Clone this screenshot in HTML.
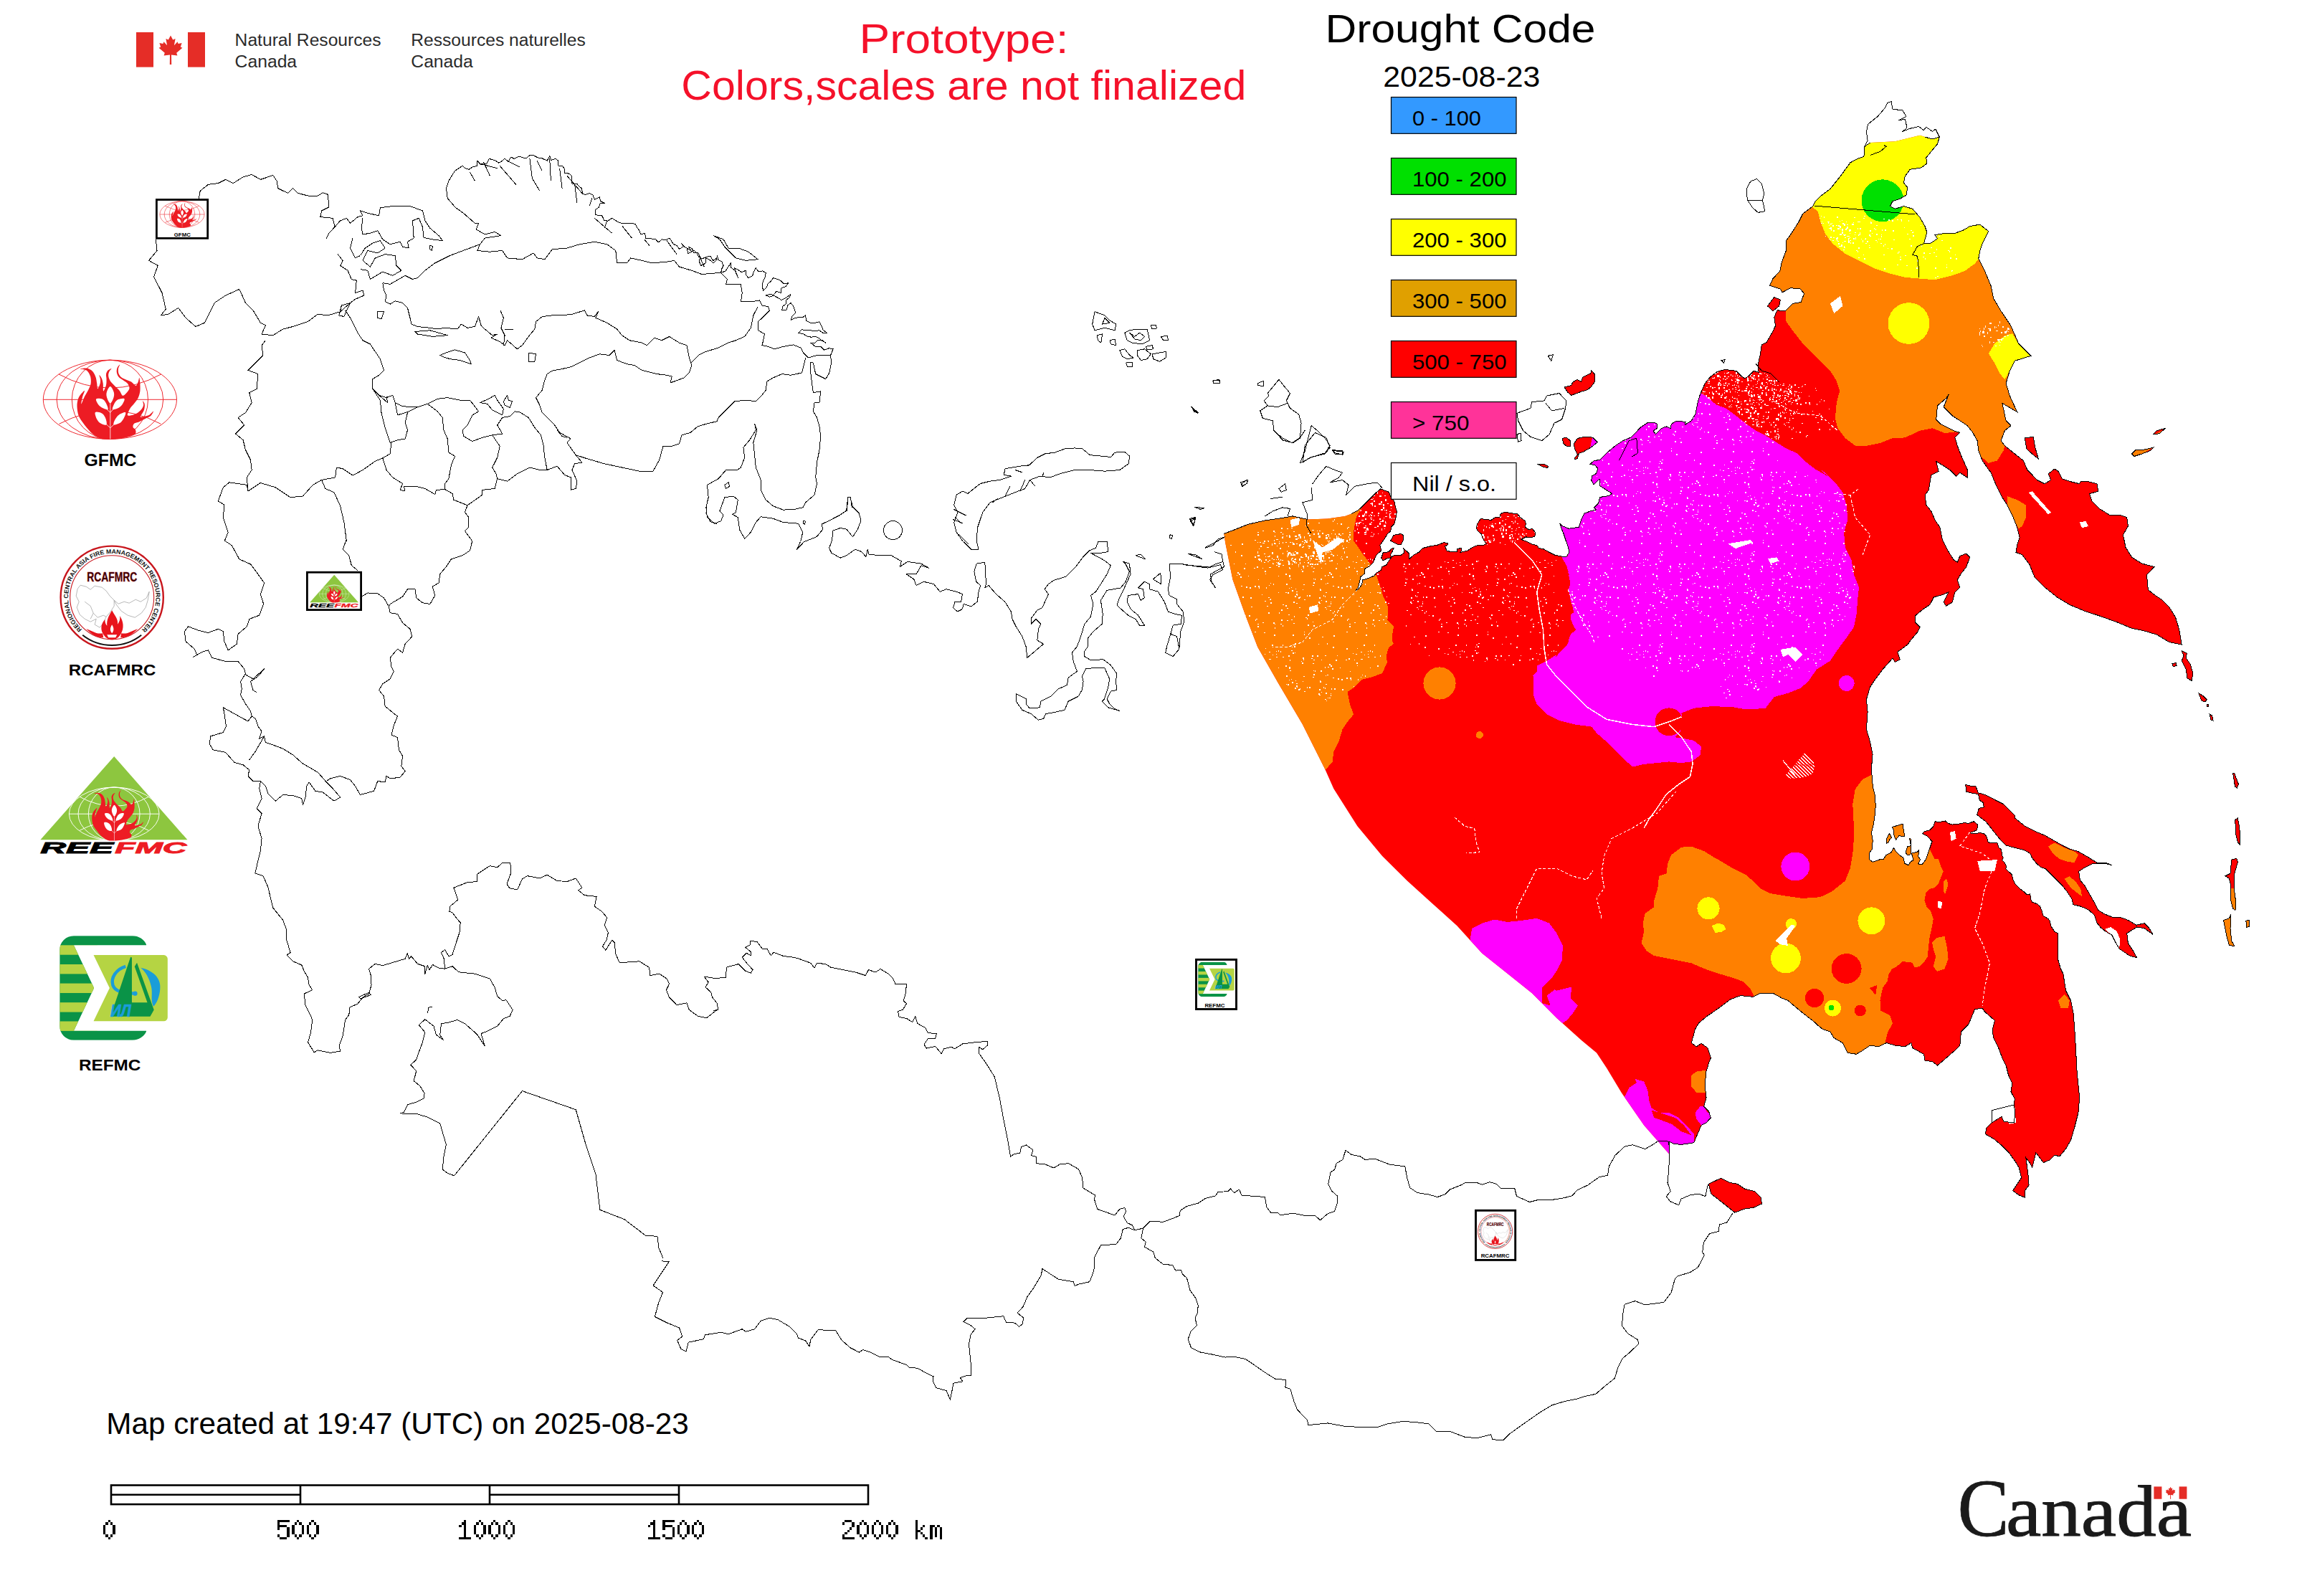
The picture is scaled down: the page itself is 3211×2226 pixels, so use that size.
<!DOCTYPE html><html><head><meta charset="utf-8"><title>Drought Code</title>
<style>html,body{margin:0;padding:0;background:#fff}svg{display:block}text{font-family:"Liberation Sans",sans-serif}.se{font-family:"Liberation Serif",serif}.mo{font-family:"Liberation Mono",monospace}</style></head><body>
<svg width="3211" height="2226" viewBox="0 0 3211 2226">
<rect width="3211" height="2226" fill="#fff"/>
<defs><clipPath id="land"><path d="M1707.4,744.3 L1721.3,739.1 L1740.4,731.4 L1764.7,725.9 L1789.1,722.4 L1803,719.9 L1823.8,724.5 L1851.7,723.4 L1876,719.9 L1884.8,716.7 L1893.6,712.3 L1900.5,706.2 L1909.2,697.5 L1919.7,687 L1925.8,681.8 L1931.9,684.4 L1937.1,686.2 L1939.7,692.3 L1944.9,699.2 L1946.7,707.9 L1948.4,713.2 L1946.7,723.6 L1944.9,730.6 L1940.6,734.9 L1939.7,741 L1935.4,744.5 L1930.1,753.2 L1924.9,760.2 L1926.7,768 L1919.7,774.1 L1915.3,784.6 L1910.1,789.8 L1904,793.3 L1903.1,800.3 L1897.9,804.6 L1896.2,812.5 L1894.4,819.4 L1890.9,823.8 L1895.3,821.2 L1899.7,815.1 L1900.5,809 L1909.2,806.4 L1917.1,802.9 L1919.7,799.4 L1926.7,795.1 L1927.5,790.7 L1933.6,788.1 L1938,781.1 L1940.6,777.6 L1944.9,774.1 L1954.5,774.1 L1958.9,770.7 L1957.7,764.6 L1963.2,769.8 L1965.9,772.4 L1965.9,779.4 L1972,774.1 L1979.8,769.8 L1984.1,764.6 L1994.6,762 L2005.1,760.2 L2013.8,756.7 L2019.9,757.6 L2019,760.2 L2015.5,762 L2018.1,768 L2024.2,769.8 L2032.1,769.8 L2032.9,765.4 L2038.2,764.6 L2039,768 L2036.4,770.7 L2046.9,768 L2052.1,764.6 L2059.1,761.1 L2069.5,760.2 L2073,758.5 L2068.6,751.5 L2066,744.5 L2061.7,741 L2059.1,735.8 L2060.8,730.6 L2065.2,723.6 L2073,724.5 L2080,725.4 L2085.2,721.9 L2092.2,721 L2093,716.7 L2099.1,714 L2107.8,715.8 L2116.6,716.7 L2120.9,721.9 L2127,726.2 L2128.7,730.6 L2127,734.9 L2132.2,738.4 L2137.5,737.6 L2141.8,742.8 L2140.9,748 L2135.7,749.8 L2128.7,748.9 L2121.8,752.4 L2128.7,755 L2135.7,758.5 L2144.4,761.1 L2146.2,764.6 L2152.3,765.4 L2161.8,770.7 L2168.8,774.1 L2177.5,775.9 L2184.5,776.8 L2188.9,770.7 L2187.1,762 L2184.5,755 L2181,744.5 L2177.5,735.8 L2175.8,729.7 L2178.7,733.4 L2188.3,737.3 L2202.3,735.2 L2205.7,724.7 L2210.1,716 L2219.7,712.5 L2226.7,710.8 L2223.2,708.2 L2229.3,702.1 L2231.9,693.4 L2244.1,691.6 L2248.4,688.2 L2237.1,681.2 L2231.9,677.7 L2231,668.1 L2226.7,672.5 L2223.2,676 L2219.7,669.9 L2220.6,663.8 L2226.7,660.3 L2228.7,653.3 L2224.9,649 L2217.9,647.2 L2223.2,642.9 L2231.9,641.1 L2242.3,630.7 L2252.8,622 L2263.2,615 L2275.4,609.8 L2279.8,605.4 L2287.6,596.7 L2298.1,589.7 L2307.7,589.2 L2312,591.5 L2311.1,597.6 L2305.9,601 L2309.4,605.4 L2317.2,597.6 L2324.2,594.9 L2330.3,597.6 L2331.2,591.5 L2338.2,587.1 L2351.2,588.5 L2350.3,592.3 L2359.1,587.1 L2365.2,576.7 L2367.8,562.7 L2371.3,550.5 L2373.9,544.4 L2378.2,534.8 L2385.2,526.1 L2395.6,518.3 L2406.1,515.3 L2421.8,517.4 L2428.7,524.4 L2434,527.9 L2439.2,524.4 L2446.2,517.4 L2453.1,519.2 L2452.2,508.5 L2455.6,492.9 L2457.4,480.7 L2464.3,477.2 L2471.3,465.1 L2476.5,454.6 L2474.8,442.5 L2479.3,432 L2483.4,433.8 L2491.1,433.1 L2500.8,423.3 L2512,421.6 L2516.5,409.4 L2510.6,402.5 L2497.3,401.8 L2486.2,407.7 L2483.4,403.2 L2468.5,398.3 L2473,388.6 L2482.7,378.1 L2485.2,366 L2491.1,350.3 L2491.1,336.4 L2500.8,322.5 L2509.5,308.6 L2514.7,298.2 L2528.6,287.7 L2532.1,280.8 L2539.1,273.8 L2553,263.4 L2566.9,246 L2580.8,226.9 L2590.5,221.7 L2599.9,218.2 L2601,204.3 L2608.6,199.1 L2643.4,197.3 L2678.1,188.7 L2685.1,191.1 L2695.5,193.9 L2705.3,191.1 L2702.5,200.8 L2693.8,211.3 L2686.8,219.9 L2687.9,227.9 L2679.9,233.9 L2664.2,236.3 L2657.3,246 L2655.5,254.7 L2660.8,261.7 L2659,272.1 L2650.3,277.3 L2639.9,280.8 L2636.4,287.7 L2643.4,291.2 L2655.5,287.7 L2667.7,291.2 L2678.1,303.4 L2685.1,315.6 L2687.9,324.3 L2683.4,339.9 L2692,339.9 L2702.5,332.9 L2699,327.7 L2712.9,325.3 L2725.1,326 L2739,320.8 L2747.7,315.6 L2761.6,313.1 L2773.8,322.5 L2765.1,339.9 L2761.6,350.3 L2759.8,360.8 L2768.5,378.1 L2777.2,399 L2780.7,416.4 L2791.1,433.8 L2805,454.6 L2815.5,479 L2832.9,496.3 L2810.3,503.3 L2803.3,517.2 L2798.1,534.6 L2803.3,552 L2813.7,574.6 L2792.9,562.4 L2798.1,586.7 L2805,593.7 L2796.3,600.7 L2791.1,614.6 L2796.3,621.5 L2806.8,630.2 L2822.4,642.4 L2827.6,654.9 L2841.5,669.5 L2852,674.8 L2860.7,669.5 L2857.2,660.8 L2865.9,653.9 L2871.1,657.4 L2876.3,667.8 L2886.7,671.3 L2900.7,674.8 L2902.4,671.3 L2911.1,671.3 L2925,674.8 L2926.7,685.2 L2914.6,688.7 L2918,699.1 L2928.5,709.5 L2942.4,718.2 L2956.3,718.2 L2966.7,721.7 L2968.4,733.9 L2961.5,746 L2965,763.4 L2973.7,777.3 L2987.6,786 L3005,790.5 L2994.5,801.7 L2996.3,822.5 L3005,829.5 L3015.4,836.4 L3025.8,846.8 L3034.5,860.8 L3039.7,878.1 L3043.2,899 L3025.8,895.5 L3008.4,885.1 L2991,879.9 L2973.7,876.4 L2952.8,867.7 L2928.5,859 L2907.6,852.1 L2886.7,843.4 L2869.4,832.9 L2852,819 L2838.1,805.1 L2831.1,787.7 L2820.7,773.8 L2812,770.4 L2813.7,759.9 L2817.2,749.5 L2813.7,735.6 L2806.8,718.2 L2799.8,704.3 L2792.9,693.9 L2784.2,676.5 L2777.2,659.1 L2773.8,654.9 L2765.1,642.4 L2759.8,628.5 L2758.1,614.6 L2751.2,602.4 L2744.2,593.7 L2739,590.2 L2723.3,579.8 L2711.2,567.6 L2718.1,550.2 L2714.6,555.5 L2702.5,565.9 L2700.7,585 L2707.7,592 L2725.1,600.7 L2733.8,603.4 L2726.8,610.4 L2730.3,621.5 L2735.5,635.4 L2744.2,654.9 L2744.2,666.1 L2733.8,659.1 L2728.6,664.3 L2719.9,655.6 L2709.4,648.7 L2700.7,643.5 L2704.2,657.4 L2693.8,662.6 L2690.3,683.4 L2685.1,690.4 L2686.8,704.3 L2693.8,713 L2699,725.2 L2706,735.6 L2709.4,753 L2716.4,766.9 L2725.1,780.8 L2730.3,784.3 L2733.8,775.6 L2742.5,772.1 L2747.7,777.3 L2742.5,791.2 L2735.5,799.9 L2730.3,808.6 L2733.8,819 L2726.8,826 L2723.3,839.9 L2714.6,845.1 L2711.2,839.9 L2718.1,826 L2709.4,829.5 L2697.3,832.9 L2692,843.4 L2681.6,850.3 L2671.2,859 L2671.2,867.7 L2678.1,874.7 L2674.7,881.6 L2666,892 L2660.8,899 L2646.8,909.4 L2650.3,919.9 L2643.4,923.3 L2639.9,918.1 L2626,933.8 L2615.6,947.7 L2608.6,958.1 L2603.4,975.5 L2605.1,992.9 L2603.4,1017.2 L2608.6,1034.6 L2612.1,1052 L2610.3,1072.8 L2612.1,1093.7 L2613.1,1100.5 L2615.7,1110.9 L2616.2,1124.8 L2614.8,1140.5 L2613.1,1151 L2610.5,1161.4 L2612.2,1171.9 L2611.4,1184.1 L2607.9,1189.3 L2607.9,1198.9 L2612.2,1202.4 L2621.8,1198.9 L2627,1198.9 L2630.5,1192.8 L2637.5,1189.3 L2641.8,1182.3 L2644.5,1187.6 L2649.7,1192.8 L2654.9,1196.3 L2656.7,1204.1 L2661.9,1206.7 L2665.4,1201.5 L2668.9,1199.8 L2667.1,1192.8 L2666.2,1190.2 L2674.1,1188.4 L2676.7,1185.8 L2675.8,1194.5 L2678.4,1198.9 L2675.8,1205 L2681,1205.9 L2686.3,1198.9 L2688.9,1191 L2691.5,1184.1 L2695,1173.6 L2688.9,1166.7 L2681.4,1162.3 L2684.5,1159.7 L2691.5,1157.9 L2696.7,1152.7 L2699.3,1145.7 L2705.4,1146.6 L2713.3,1144.9 L2717.6,1148.4 L2722.9,1150.1 L2731.6,1149.2 L2740.3,1147.5 L2745.5,1148.4 L2753.3,1145.7 L2758.6,1150.1 L2757.7,1157.9 L2749.9,1160.6 L2748.1,1161.8 L2754.2,1162.8 L2762.1,1161.4 L2768.2,1163.2 L2771.6,1167.5 L2772.5,1173.6 L2775.1,1175.4 L2785.6,1175 L2788.2,1182.3 L2791.7,1184.9 L2792.5,1192.8 L2794.3,1196.3 L2792.5,1199.8 L2796,1203.2 L2798.6,1208.5 L2797.8,1212 L2806.5,1219.8 L2807.4,1225.9 L2810.8,1232.9 L2816.9,1239 L2823.9,1244.2 L2827.4,1247.7 L2831.7,1246.8 L2832.6,1253.8 L2834.4,1258.1 L2841.3,1260.7 L2845.7,1264.2 L2848.3,1271.2 L2850,1277.3 L2857,1281.6 L2859.6,1285.1 L2860.5,1291.2 L2865.7,1299.1 L2870.1,1301.7 L2870.6,1313 L2870.9,1325.2 L2870.9,1339.1 L2874.4,1351.3 L2877.9,1358.3 L2881.5,1381.6 L2888.5,1395.5 L2892,1412.9 L2893.7,1433.8 L2895.4,1461.6 L2897.2,1496.3 L2900.7,1531.1 L2898.9,1552 L2893.7,1572.8 L2888.5,1590.2 L2881.5,1602.4 L2872.8,1612.8 L2865.9,1611.1 L2858.9,1618 L2850.2,1621.5 L2845,1614.6 L2839.8,1607.6 L2836.3,1621.5 L2834.6,1628.5 L2831.1,1621.5 L2825.9,1614.6 L2829.4,1642.4 L2830.1,1653 L2824.9,1659.9 L2824.9,1670.4 L2816.2,1666.9 L2807.5,1660.6 L2812.7,1653 L2819.7,1642.5 L2816.2,1628.6 L2811,1619.9 L2802.3,1607.8 L2791.9,1597.3 L2781.4,1588.7 L2769.3,1581.7 L2771,1573 L2778,1566.1 L2791.9,1557.4 L2795.3,1564.3 L2809.3,1566.1 L2811,1552.2 L2809.3,1541 L2810.3,1532.9 L2805,1522.4 L2806.8,1510.3 L2801.6,1499.8 L2798.1,1485.9 L2792.9,1475.5 L2787.7,1461.6 L2780.7,1447.7 L2779,1437.2 L2782.4,1423.3 L2768.5,1411.2 L2765.1,1406 L2754.6,1407.7 L2745.9,1428.6 L2735.5,1439 L2733.8,1458.1 L2726.8,1465.1 L2712.9,1477.2 L2702.5,1485.9 L2695.5,1480.7 L2685.1,1479 L2683.4,1470.3 L2667.7,1461.6 L2666,1454.6 L2657.3,1459.8 L2643.4,1458.1 L2631.2,1454.6 L2620.8,1459.8 L2608.6,1458.1 L2598.2,1465.1 L2589.5,1470.3 L2577.3,1468.5 L2570.4,1454.6 L2558.2,1447.7 L2553,1439 L2542.5,1435.5 L2533.9,1428.6 L2530.4,1425.1 L2514.7,1412.9 L2504.3,1404.2 L2493.9,1395.5 L2485.2,1392 L2473,1385.1 L2455.6,1385.1 L2445.2,1390.3 L2427.8,1388.6 L2413.9,1393.8 L2400,1404.2 L2380.1,1418.1 L2369.7,1426.8 L2364.5,1435.5 L2359.3,1454.6 L2366.2,1459.8 L2373.2,1455.3 L2381.9,1461.6 L2386.4,1475.5 L2383.6,1482.4 L2379.4,1496.3 L2378.4,1517.2 L2380.1,1531.1 L2376.6,1543.3 L2383.6,1550.2 L2386.4,1558.9 L2380.1,1565.9 L2373.2,1569.4 L2367.9,1581.5 L2362.7,1593.7 L2345.3,1596.5 L2334.9,1595.4 L2328,1592 L2328,1609.3 L2293.2,1569.4 L2261.9,1524.2 L2241,1489.4 L2227.1,1468.5 L2206.3,1451.2 L2171.5,1419.9 L2136.7,1385.1 L2102,1357.3 L2067.2,1329.5 L2032.4,1291.2 L1997.7,1259.9 L1962.9,1228.6 L1928.1,1193.9 L1893.4,1152.2 L1860.3,1100 L1848.2,1072.8 L1816.9,1010.3 L1782.1,951.2 L1754.3,902.5 L1736.9,857.3 L1719.5,808.6 L1709.1,756.5ZM2465.4,426.8 L2474.8,414.6 L2483.4,418.1 L2481.7,426.8 L2473,433.8ZM1939.7,754.1 L1944.1,746.3 L1954.5,744.5 L1957.7,747.1 L1957.1,754.1 L1954.5,759.3 L1949.3,759.3 L1944.1,756.7ZM1926.7,778.5 L1929.3,770.7 L1937.1,769.8 L1940.6,765.4 L1944.1,764.6 L1942.3,768.9 L1939.7,773.3 L1940.6,777.6 L1933.6,779.4 L1929.3,782ZM2741.1,1094.4 L2748.1,1096.1 L2756,1097 L2759.4,1105.7 L2768.2,1108.3 L2776.9,1112.6 L2794.3,1121.4 L2804.7,1131.8 L2810,1137 L2810,1140.5 L2823.9,1151.8 L2832.6,1156.2 L2841.3,1160.6 L2851.8,1164.9 L2864,1171.9 L2876.2,1178.9 L2886.6,1184.1 L2898.8,1187.6 L2911,1194.5 L2924.9,1203.2 L2937.1,1203.2 L2945.9,1206.7 L2935.4,1204.1 L2918,1205 L2907.5,1210.2 L2899.7,1215.4 L2901.4,1227.6 L2907.5,1234.6 L2914.5,1246.8 L2921.5,1259 L2926.7,1269.4 L2935.4,1274.7 L2945.9,1279 L2956.3,1279 L2968.5,1283.4 L2980,1290.3 L2991,1287.7 L2998,1294.7 L3003.2,1303.4 L2991,1294.7 L2980.6,1293 L2966.7,1301.7 L2968.4,1315.6 L2975.4,1326 L2980.6,1335.7 L2970.2,1332.9 L2966.8,1330.4 L2956.3,1323.4 L2951.1,1314.7 L2945.9,1304.3 L2937.1,1299.1 L2930.2,1293.8 L2924.9,1286.9 L2921.5,1276.4 L2912.8,1268.6 L2902.3,1264.2 L2891.8,1261.6 L2890.1,1253.8 L2883.1,1243.3 L2876.2,1234.6 L2869.2,1227.6 L2862.2,1220.7 L2853.5,1212 L2846.6,1209.3 L2841.3,1205 L2834.4,1196.3 L2831.7,1190.2 L2823.9,1185.8 L2810,1182.3 L2797.8,1178.9 L2790.8,1171.9 L2783.8,1163.2 L2776.9,1154.5 L2769.9,1145.7 L2762.9,1140.5 L2757.7,1136.2 L2760.3,1127.5 L2767.3,1125.7 L2766.4,1119.6 L2761.2,1116.1 L2759.4,1107.4 L2752.5,1106.6 L2742,1103.9 L2742.9,1098.7ZM2639.2,1153.6 L2654,1149.2 L2656.7,1166.7 L2648.8,1165.8 L2644.5,1171 L2641.8,1164.9 L2641.8,1158.8ZM2631.4,1170.1 L2635.7,1162.3 L2638.4,1168.4 L2635.7,1171 L2634,1175.4 L2631.7,1176.2ZM2658.4,1187.6 L2661,1180.6 L2665.4,1179.7 L2663.6,1169.3 L2665.4,1170.1 L2665.7,1190.2 L2663.6,1192.8 L2659.3,1191.9ZM2824.2,610.4 L2836.3,609.7 L2838.8,624.3 L2843.3,640 L2834.6,633 L2826.9,626.1ZM2973.7,633 L2978.9,627.8 L2991,627.1 L3003.2,624.3 L2999.7,628.5 L2987.6,633 L2977.1,636.5ZM3003.2,605.9 L3008.4,600.7 L3020.6,597.2 L3011.9,604.8ZM3043.2,907.7 L3050.2,911.2 L3049.5,918.1 L3055.4,926.8 L3058.8,939 L3057.1,949.4 L3050.8,945.9 L3049.5,933.8 L3043.2,921.6 L3046,914.6ZM3030,925.8 L3035.5,924.4 L3036.2,928.9 L3031,929.2ZM3066.8,966.8 L3072.8,970.3 L3078,975.5 L3076.2,979 L3071,977.2ZM3078,982.8 L3080.7,982.8 L3080.7,985.9 L3078,985.9ZM3082.1,996.3 L3085.6,998.1 L3087,1005 L3084.2,1004.3ZM3114.5,1078.1 L3116.9,1079.1 L3122.5,1093.7 L3120.4,1098.9 L3117.6,1097.2ZM3117.9,1143.5 L3121.4,1141 L3123.9,1155.6 L3124.9,1178.2 L3121.4,1174.8 L3118.3,1162.6ZM3112.7,1199.1 L3119.7,1197.3 L3121.4,1202.6 L3116.9,1218.2 L3116.2,1239.1 L3119,1259.9 L3117.9,1269.7 L3114.5,1266.9 L3111,1253 L3112,1235.6 L3109.3,1225.2 L3104,1221.7 L3111,1218.2ZM3101.6,1283.6 L3109.3,1280.8 L3112,1275.6 L3111,1294.7 L3112.7,1312.1 L3116.9,1319.7 L3109.3,1318.3 L3105.8,1305.1ZM3132.9,1284.3 L3137.1,1283.2 L3137.1,1292.3 L3133.6,1293.3ZM2182.2,540.1 L2191.8,537.5 L2193.6,533.1 L2199.7,529.6 L2205.7,532.2 L2207.5,526.1 L2218.8,520.9 L2219.7,516.6 L2224.9,522.6 L2224,533.1 L2219.7,539.2 L2214.5,543.6 L2205.7,546.2 L2198.8,548.8 L2191.8,551.4 L2186.6,547ZM2195.6,618.5 L2200.5,611.5 L2209.2,609.4 L2221.4,610.1 L2228.4,616.7 L2219.7,623.7 L2209.2,629.8 L2202.3,632.4 L2200.5,639.4 L2197,641.1 L2196.7,638.5 L2200.5,634.1 L2196.2,625.4ZM2179.6,611.5 L2184.8,610.1 L2190.9,615 L2190.9,622 L2184.8,622 L2180.5,618.5ZM2144.4,647.3 L2153.1,647 L2159.8,650.5 L2158.4,652.5 L2151.4,650.8ZM2383.4,1651.2 L2400.7,1643.2 L2412.9,1649.5 L2423.3,1651.2 L2433.8,1658.2 L2447.7,1661.7 L2456.4,1670.4 L2457.4,1679.1 L2445.9,1684.3 L2433.8,1686 L2419.9,1691.2 L2402.5,1677.3 L2386.8,1665.1Z"/></clipPath></defs>
<g clip-path="url(#land)" shape-rendering="crispEdges">
<rect x="1650" y="100" width="1561" height="1700" fill="#ff0000"/>
<g fill="#ff8000"><path d="M1684.8,704.3 L1902.3,692.3 L1900.5,706.2 L1895.3,714.9 L1891.8,721.9 L1889.2,734.1 L1887.5,746.3 L1887.5,753.2 L1893.6,762 L1900.5,772.4 L1907.5,781.1 L1911.8,787.2 L1916.2,796.8 L1919.7,802 L1923.2,812.5 L1926.7,822.9 L1930.1,833.4 L1935.4,843.8 L1936.2,854.3 L1935.4,864.7 L1940.6,870 L1944.1,873.4 L1942.3,883.9 L1941.5,892.6 L1944.1,897.8 L1937.1,903.1 L1934.5,911.8 L1933.6,918 L1935.1,923.3 L1928.1,939 L1914.2,944.2 L1900.3,947.7 L1889.9,958.1 L1879.5,965.1 L1882.9,982.4 L1888.2,996.3 L1879.5,1006.8 L1872.5,1017.2 L1867.3,1034.6 L1860.3,1048.5 L1858.6,1062.4 L1848.2,1074.6 L1789.1,1074.6 L1684.8,843.4Z"/><path d="M2030.6,953 L2029.8,958.8 L2027.6,964.3 L2024,969 L2019.3,972.6 L2013.8,974.8 L2008,975.6 L2002.2,974.8 L1996.7,972.6 L1992,969 L1988.4,964.3 L1986.2,958.8 L1985.4,953 L1986.2,947.2 L1988.4,941.7 L1992,937 L1996.7,933.4 L2002.2,931.2 L2008,930.4 L2013.8,931.2 L2019.3,933.4 L2024,937 L2027.6,941.7 L2029.8,947.2Z"/><path d="M2068.8,1025 L2068.6,1026.3 L2068.1,1027.5 L2067.3,1028.5 L2066.3,1029.3 L2065.1,1029.8 L2063.8,1030 L2062.5,1029.8 L2061.3,1029.3 L2060.3,1028.5 L2059.5,1027.5 L2059,1026.3 L2058.8,1025 L2059,1023.7 L2059.5,1022.5 L2060.3,1021.5 L2061.3,1020.7 L2062.5,1020.2 L2063.8,1020 L2065.1,1020.2 L2066.3,1020.7 L2067.3,1021.5 L2068.1,1022.5 L2068.6,1023.7Z"/><path d="M2486.9,409.4 L2491.1,433.1 L2491.1,447.7 L2500.8,461.6 L2514.7,479 L2528.6,492.9 L2542.5,506.8 L2553,517.2 L2561.7,531.1 L2566.2,545 L2561.7,562.4 L2559.9,583.3 L2563.4,597.2 L2573.8,611.1 L2587.7,621.5 L2601.7,622.2 L2622.5,618 L2639.9,611.1 L2657.3,610.4 L2678.1,600.7 L2695.5,597.2 L2712.9,604.1 L2726.8,602.4 L2733.8,604.1 L2747.7,600.7 L2758.1,614.6 L2761.6,635.4 L2773.8,645.8 L2785.9,642.4 L2794.6,628.5 L2796.3,621.5 L2852,586.7 L2852,287.7 L2462.6,287.7 L2462.6,409.4Z"/><path d="M2799.8,692.1 L2813.7,697.3 L2825.9,704.3 L2825.9,721.7 L2820.7,733.9 L2815.5,737.3 L2806.8,718.2 L2799.8,704.3Z"/><path d="M2628.8,1147.5 L2667.1,1147.5 L2667.1,1194.5 L2628.8,1194.5Z"/><path d="M2970.2,620.9 L3025.8,596.5 L3025.8,610.4 L2977.1,640Z"/><path d="M3098.8,1272.1 L3140.5,1272.1 L3140.5,1322.5 L3098.8,1322.5Z"/><path d="M3109.3,1239.1 L3116.9,1239.1 L3119,1259.9 L3117.9,1270.4 L3112.7,1266.9Z"/><path d="M2359.3,1499.8 L2366.2,1494.6 L2378.4,1492.9 L2383.6,1510.3 L2378.4,1524.2 L2366.2,1523.5 L2359.3,1515.5Z"/><path d="M2345.3,1181.7 L2331.4,1192.1 L2326.2,1204.3 L2324.5,1218.2 L2314.1,1221.7 L2312.3,1239.1 L2307.1,1256.5 L2307.1,1265.1 L2294.9,1273.8 L2291.5,1287.7 L2293.2,1298.2 L2289.7,1315.6 L2296.7,1326 L2307.1,1332.9 L2324.5,1336.4 L2341.9,1339.9 L2359.3,1343.4 L2380.1,1352.1 L2401,1359 L2418.4,1364.2 L2432.3,1369.4 L2441,1378.1 L2446.2,1388.6 L2445.2,1402.5 L2504.3,1447.7 L2573.8,1499.8 L2629.5,1482.4 L2629.5,1454.6 L2632.9,1440.7 L2639.9,1426.8 L2636.4,1416.4 L2622.5,1409.4 L2622.5,1395.5 L2626,1378.1 L2632.9,1368.1 L2634,1360 L2639.2,1351.3 L2646.2,1347.8 L2653.2,1340.9 L2667.1,1342.6 L2670.6,1349.6 L2677.6,1347.8 L2684.5,1340.9 L2688.9,1333.9 L2689.8,1321.7 L2691.5,1307.8 L2695,1292.1 L2696.7,1281.6 L2693.2,1271.2 L2687.1,1264.2 L2684.5,1255.5 L2686.3,1245.1 L2691.5,1239.8 L2698.5,1238.1 L2703.7,1232.9 L2707.2,1224.1 L2710.7,1215.4 L2707.2,1208.5 L2703.7,1198 L2698.5,1198 L2695,1191 L2691.5,1184.1 L2632.3,1142.3 L2620.1,1142.3 L2622.5,1135.4 L2622.5,1079.8 L2608.6,1081.5 L2598.2,1086.7 L2587.7,1100.7 L2584.3,1121.5 L2586,1154.9 L2586,1169.5 L2584.3,1190.4 L2580.8,1211.3 L2573.8,1228.6 L2556.5,1242.5 L2539.1,1251.2 L2514.7,1253 L2490.4,1249.5 L2469.5,1246 L2455.6,1239.1 L2445.2,1228.6 L2434.8,1219.9 L2417.4,1211.3 L2400,1200.8 L2390.5,1195.6 L2376.6,1186.9 L2359.3,1180.7Z"/><path d="M2710.7,1229.4 L2715,1225.9 L2717.6,1232.9 L2715,1241.6 L2713.3,1246.8 L2710.7,1243.3Z"/><path d="M2695,1314.7 L2702,1307.8 L2712.4,1306 L2715.9,1321.7 L2717.6,1337.4 L2712.4,1351.3 L2702,1354.8 L2696.7,1347.8 L2700.2,1333.9 L2696.7,1323.4Z"/><path d="M2857,1180.6 L2865.7,1175.4 L2879.7,1182.3 L2893.6,1187.6 L2898.8,1192.8 L2893.6,1203.2 L2883.1,1201.5 L2872.7,1198 L2864,1191Z"/><path d="M2879.7,1225.9 L2886.6,1222.4 L2895.3,1229.4 L2902.3,1239.8 L2904,1250.3 L2897.1,1245.1 L2888.4,1238.1Z"/><path d="M2871.1,1395.5 L2879.8,1386.8 L2886.7,1395.5 L2885,1406 L2874.6,1406Z"/></g>
<g fill="#ff00ff"><path d="M2187.2,775.6 L2178.5,777.3 L2185.4,789.5 L2190.6,808.6 L2187.1,796.8 L2188.9,805.5 L2190.6,814.2 L2188,821.2 L2189.7,831.6 L2191.5,840.3 L2194.1,847.3 L2194.9,854.3 L2190.6,857.8 L2191.5,864.7 L2194.1,871.7 L2198.4,878.7 L2191.5,883.9 L2188.9,889.1 L2187.1,897.8 L2181,904.8 L2174,911.8 L2168.8,918 L2171.5,912.9 L2157.6,921.6 L2143.7,928.6 L2143.7,937.2 L2138.5,942.5 L2138.5,968.5 L2143.7,982.4 L2157.6,996.3 L2175,1005 L2195.8,1010.3 L2220.2,1013.7 L2227.1,1022.4 L2241,1034.6 L2255,1048.5 L2268.9,1062.4 L2277.6,1069.4 L2293.2,1065.9 L2310.6,1064.1 L2328,1062.4 L2345.3,1064.1 L2359.3,1062.4 L2371.4,1053.7 L2373.2,1041.5 L2362.7,1032.9 L2345.3,1029.4 L2336.7,1028.3 L2343.6,1020.7 L2347.1,1006.8 L2345.3,994.6 L2362.7,987.7 L2387.1,985.2 L2414.9,985.9 L2435.7,989.4 L2441.7,989.4 L2462.6,987.7 L2474.8,972 L2493.9,966.8 L2511.3,959.8 L2521.7,951.2 L2533.9,933.8 L2553,921.6 L2563.4,906 L2573.8,892 L2586,874.7 L2589.5,857.3 L2591.2,836.4 L2593,819 L2586,801.7 L2582.5,780.8 L2573.8,763.4 L2572.1,742.5 L2577.3,725.2 L2575.6,704.3 L2570.4,686.9 L2559.9,673 L2546,659.1 L2539.1,654.9 L2550,664.6 L2533.3,655.1 L2519.3,644.6 L2507.1,632.4 L2491.5,625.4 L2477.5,616.7 L2463.6,608 L2449.7,601 L2437.5,592.3 L2421.8,580.1 L2407.8,569.7 L2393.9,564.5 L2380,552.3 L2371.3,547.9 L2341.6,552.3 L2289.4,583.6 L2233.6,635.9 L2214.5,648.1 L2214.5,674.2 L2167.4,726.5Z"/><path d="M2586.6,953 L2586.2,955.8 L2585.1,958.5 L2583.4,960.8 L2581.1,962.5 L2578.4,963.6 L2575.6,964 L2572.8,963.6 L2570.1,962.5 L2567.8,960.8 L2566.1,958.5 L2565,955.8 L2564.6,953 L2565,950.2 L2566.1,947.5 L2567.8,945.2 L2570.1,943.5 L2572.8,942.4 L2575.6,942 L2578.4,942.4 L2581.1,943.5 L2583.4,945.2 L2585.1,947.5 L2586.2,950.2Z"/><path d="M2524.3,1208.5 L2523.6,1213.7 L2521.6,1218.5 L2518.4,1222.6 L2514.3,1225.8 L2509.5,1227.8 L2504.3,1228.5 L2499.1,1227.8 L2494.3,1225.8 L2490.2,1222.6 L2487,1218.5 L2485,1213.7 L2484.3,1208.5 L2485,1203.3 L2487,1198.5 L2490.2,1194.4 L2494.3,1191.2 L2499.1,1189.2 L2504.3,1188.5 L2509.5,1189.2 L2514.3,1191.2 L2518.4,1194.4 L2521.6,1198.5 L2523.6,1203.3Z"/><path d="M2053.3,1294.7 L2067.2,1287.7 L2084.6,1282.5 L2102,1286 L2119.4,1284.3 L2143.7,1280.8 L2161.1,1287.7 L2171.5,1301.7 L2180.2,1319 L2178.5,1339.9 L2171.5,1353.8 L2164.6,1364.2 L2154.1,1374.7 L2171.5,1381.6 L2192.4,1376.4 L2190.6,1392 L2201.1,1402.5 L2194.1,1412.9 L2185.4,1423.3 L2168,1433.8 L2119.4,1378.1 L2084.6,1350.3 L2049.8,1315.6Z"/><path d="M2265.4,1531.1 L2272.3,1517.2 L2282.8,1510.3 L2281,1505 L2293.2,1508.5 L2298.4,1520.7 L2300.2,1534.6 L2303.6,1545 L2314.1,1552 L2328,1552 L2341.9,1558.9 L2352.3,1569.4 L2362.7,1581.5 L2362.7,1600.7 L2331.4,1600.7 L2331.4,1614.6 L2310.6,1597.2 L2275.8,1558.9 L2255,1531.1Z"/><path d="M2364.5,1552 L2371.4,1543.3 L2378.4,1543.3 L2380.1,1550.2 L2388.8,1555.5 L2387.1,1564.1 L2373.2,1569.4 L2366.2,1560.7Z"/><path d="M2221.4,608.9 L2230.1,616.7 L2217.1,628Z"/></g>
<g fill="#ff0000"><path d="M2347.5,1006.8 L2346.8,1011.8 L2344.9,1016.5 L2341.8,1020.6 L2337.8,1023.7 L2333,1025.6 L2328,1026.3 L2323,1025.6 L2318.2,1023.7 L2314.2,1020.6 L2311.1,1016.5 L2309.2,1011.8 L2308.5,1006.8 L2309.2,1001.8 L2311.1,997 L2314.2,993 L2318.2,989.9 L2323,988 L2328,987.3 L2333,988 L2337.8,989.9 L2341.8,993 L2344.9,997 L2346.8,1001.8Z"/><path d="M2596.6,1351 L2595.9,1356.4 L2593.8,1361.5 L2590.4,1365.8 L2586.1,1369.2 L2581,1371.3 L2575.6,1372 L2570.2,1371.3 L2565.1,1369.2 L2560.8,1365.8 L2557.4,1361.5 L2555.3,1356.4 L2554.6,1351 L2555.3,1345.6 L2557.4,1340.5 L2560.8,1336.2 L2565.1,1332.8 L2570.2,1330.7 L2575.6,1330 L2581,1330.7 L2586.1,1332.8 L2590.4,1336.2 L2593.8,1340.5 L2595.9,1345.6Z"/><path d="M2544,1392 L2543.6,1395.4 L2542.3,1398.5 L2540.2,1401.2 L2537.5,1403.3 L2534.4,1404.6 L2531,1405 L2527.6,1404.6 L2524.5,1403.3 L2521.8,1401.2 L2519.7,1398.5 L2518.4,1395.4 L2518,1392 L2518.4,1388.6 L2519.7,1385.5 L2521.8,1382.8 L2524.5,1380.7 L2527.6,1379.4 L2531,1379 L2534.4,1379.4 L2537.5,1380.7 L2540.2,1382.8 L2542.3,1385.5 L2543.6,1388.6Z"/><path d="M2602.7,1409.5 L2602.4,1411.6 L2601.6,1413.5 L2600.4,1415.2 L2598.7,1416.4 L2596.8,1417.2 L2594.7,1417.5 L2592.6,1417.2 L2590.7,1416.4 L2589,1415.2 L2587.8,1413.5 L2587,1411.6 L2586.7,1409.5 L2587,1407.4 L2587.8,1405.5 L2589,1403.8 L2590.7,1402.6 L2592.6,1401.8 L2594.7,1401.5 L2596.8,1401.8 L2598.7,1402.6 L2600.4,1403.8 L2601.6,1405.5 L2602.4,1407.4Z"/><path d="M2607.9,1378.1 L2618.3,1374 L2616.3,1387.9Z"/><path d="M2150.7,1378.1 L2164.6,1364.2 L2178.5,1357.3 L2185.4,1374.7 L2171.5,1378.1 L2157.6,1388.6 L2162.8,1402.5 L2150.7,1399Z"/><path d="M2303.6,1548.5 L2321,1553.7 L2336.7,1558.9 L2348.8,1569.4 L2359.3,1583.3 L2345.3,1578.1 L2331.4,1567.6 L2317.5,1562.4 L2307.1,1558.9Z"/></g>
<g fill="#ffff00"><path d="M2528.6,289.5 L2535.6,294.7 L2539.1,308.6 L2546,326 L2556.5,339.9 L2573.8,353.8 L2594.7,364.2 L2615.6,374.7 L2636.4,381.6 L2657.3,386.8 L2678.1,388.6 L2699,390.3 L2719.9,385.1 L2740.7,378.1 L2754.6,367.7 L2761.6,359 L2799.8,343.4 L2799.8,169.5 L2573.8,169.5 L2514.7,287.7Z"/><path d="M2691.5,451 L2690.5,458.5 L2687.6,465.5 L2683,471.5 L2677,476.1 L2670,479 L2662.5,480 L2655,479 L2648,476.1 L2642,471.5 L2637.4,465.5 L2634.5,458.5 L2633.5,451 L2634.5,443.5 L2637.4,436.5 L2642,430.5 L2648,425.9 L2655,423 L2662.5,422 L2670,423 L2677,425.9 L2683,430.5 L2687.6,436.5 L2690.5,443.5Z"/><path d="M2773.8,492.9 L2782.4,479 L2796.3,468.5 L2806.8,465.1 L2815.5,479 L2838.1,496.3 L2810.3,503.3 L2803.3,517.2 L2796.3,529.4 L2789.4,520.7 L2782.4,506.8Z"/><path d="M2629.4,1284.3 L2628.8,1289.2 L2626.9,1293.8 L2623.8,1297.7 L2619.9,1300.8 L2615.3,1302.7 L2610.4,1303.3 L2605.5,1302.7 L2600.9,1300.8 L2597,1297.7 L2593.9,1293.8 L2592,1289.2 L2591.4,1284.3 L2592,1279.4 L2593.9,1274.8 L2597,1270.9 L2600.9,1267.8 L2605.5,1265.9 L2610.4,1265.3 L2615.3,1265.9 L2619.9,1267.8 L2623.8,1270.9 L2626.9,1274.8 L2628.8,1279.4Z"/><path d="M2512,1336.4 L2511.3,1341.8 L2509.2,1346.9 L2505.8,1351.2 L2501.5,1354.6 L2496.4,1356.7 L2491,1357.4 L2485.6,1356.7 L2480.5,1354.6 L2476.2,1351.2 L2472.8,1346.9 L2470.7,1341.8 L2470,1336.4 L2470.7,1331 L2472.8,1325.9 L2476.2,1321.6 L2480.5,1318.2 L2485.6,1316.1 L2491,1315.4 L2496.4,1316.1 L2501.5,1318.2 L2505.8,1321.6 L2509.2,1325.9 L2511.3,1331Z"/><path d="M2506,1288.8 L2505.7,1290.8 L2505,1292.6 L2503.8,1294.2 L2502.2,1295.4 L2500.4,1296.1 L2498.4,1296.4 L2496.4,1296.1 L2494.6,1295.4 L2493,1294.2 L2491.8,1292.6 L2491.1,1290.8 L2490.8,1288.8 L2491.1,1286.8 L2491.8,1285 L2493,1283.4 L2494.6,1282.2 L2496.4,1281.5 L2498.4,1281.2 L2500.4,1281.5 L2502.2,1282.2 L2503.8,1283.4 L2505,1285 L2505.7,1286.8Z"/><path d="M2398.6,1266.9 L2398.1,1270.9 L2396.5,1274.7 L2394,1277.9 L2390.8,1280.4 L2387,1282 L2383,1282.5 L2379,1282 L2375.2,1280.4 L2372,1277.9 L2369.5,1274.7 L2367.9,1270.9 L2367.4,1266.9 L2367.9,1262.9 L2369.5,1259.1 L2372,1255.9 L2375.2,1253.4 L2379,1251.8 L2383,1251.3 L2387,1251.8 L2390.8,1253.4 L2394,1255.9 L2396.5,1259.1 L2398.1,1262.9Z"/><path d="M2387.8,1291.2 L2395.8,1287.7 L2405.1,1290.5 L2407.2,1296.4 L2401,1299.9 L2392.3,1301Z"/><path d="M2568,1406 L2567.6,1409 L2566.5,1411.8 L2564.6,1414.1 L2562.2,1416 L2559.5,1417.1 L2556.5,1417.5 L2553.5,1417.1 L2550.8,1416 L2548.4,1414.1 L2546.5,1411.8 L2545.4,1409 L2545,1406 L2545.4,1403 L2546.5,1400.2 L2548.4,1397.9 L2550.8,1396 L2553.5,1394.9 L2556.5,1394.5 L2559.5,1394.9 L2562.2,1396 L2564.6,1397.9 L2566.5,1400.2 L2567.6,1403Z"/><path d="M2398.3,1287.7 L2402.8,1289.5 L2406.3,1294.7 L2401.7,1299.9 L2398.3,1298.9Z"/></g>
<g fill="#00e000"><path d="M2655.5,279.8 L2654.5,287.4 L2651.5,294.6 L2646.9,300.7 L2640.8,305.3 L2633.6,308.3 L2626,309.3 L2618.4,308.3 L2611.2,305.3 L2605.1,300.7 L2600.5,294.6 L2597.5,287.4 L2596.5,279.8 L2597.5,272.2 L2600.5,265.1 L2605.1,258.9 L2611.2,254.3 L2618.4,251.3 L2626,250.3 L2633.6,251.3 L2640.8,254.3 L2646.9,258.9 L2651.5,265.1 L2654.5,272.2Z"/><path d="M2558.3,1405.5 L2558.2,1406.5 L2557.8,1407.4 L2557.2,1408.2 L2556.4,1408.8 L2555.5,1409.2 L2554.5,1409.3 L2553.5,1409.2 L2552.6,1408.8 L2551.8,1408.2 L2551.2,1407.4 L2550.8,1406.5 L2550.7,1405.5 L2550.8,1404.5 L2551.2,1403.6 L2551.8,1402.8 L2552.6,1402.2 L2553.5,1401.8 L2554.5,1401.7 L2555.5,1401.8 L2556.4,1402.2 L2557.2,1402.8 L2557.8,1403.6 L2558.2,1404.5Z"/></g>
<g fill="#ffffff"><path d="M2476.5,1312.1 L2483.4,1305.1 L2490.4,1298.2 L2499.1,1289.5 L2504.3,1291.2 L2497.3,1301.7 L2492.1,1308.6 L2493.9,1319 L2483.4,1317.3Z"/><path d="M2779,1548.5 L2799.8,1543.3 L2810.3,1542.2 L2812,1565.9 L2803.3,1567.6 L2794.6,1557.2 L2780.7,1560.7Z"/><path d="M2936.3,1295.6 L2944.1,1293 L2952.8,1299.1 L2957.2,1309.5 L2956.3,1321.7 L2951.1,1314.7 L2945.9,1304.3 L2940.6,1299.9Z"/></g>
<defs><pattern fill="#fff" id="spd" width="128" height="128" patternUnits="userSpaceOnUse"><rect x="40.5" y="18.9" width="3" height="1"/><rect x="9.1" y="67.0" width="1.5" height="3"/><rect x="7.2" y="63.4" width="1" height="1"/><rect x="54.2" y="8.7" width="1" height="3"/><rect x="53.1" y="103.4" width="1" height="1"/><rect x="78.8" y="72.9" width="1" height="3"/><rect x="73.2" y="6.2" width="1" height="1"/><rect x="69.6" y="16.6" width="2" height="1"/><rect x="67.6" y="71.4" width="2" height="1"/><rect x="12.9" y="71.4" width="1" height="1.5"/><rect x="12.2" y="89.0" width="2" height="1"/><rect x="77.4" y="62.1" width="2" height="2"/><rect x="97.2" y="58.2" width="2" height="1.5"/><rect x="37.5" y="99.3" width="3" height="1"/><rect x="10.2" y="37.5" width="2" height="1.5"/><rect x="91.2" y="36.0" width="1" height="1"/><rect x="64.0" y="20.6" width="1.5" height="1"/><rect x="116.7" y="52.7" width="3" height="1"/><rect x="95.6" y="71.6" width="1.5" height="1.5"/><rect x="86.9" y="74.3" width="2" height="2"/><rect x="8.6" y="11.7" width="1.5" height="2"/><rect x="87.1" y="8.1" width="3" height="1.5"/><rect x="80.9" y="124.1" width="2" height="1.5"/><rect x="89.6" y="110.9" width="1.5" height="1"/><rect x="117.6" y="44.4" width="2" height="1"/><rect x="61.7" y="27.3" width="1.5" height="1"/><rect x="92.3" y="49.7" width="2" height="1"/><rect x="20.8" y="50.2" width="1.5" height="1"/><rect x="102.4" y="108.0" width="1.5" height="2"/><rect x="123.3" y="85.3" width="2" height="1"/><rect x="18.9" y="22.0" width="1" height="1"/><rect x="1.5" y="103.9" width="1" height="1.5"/><rect x="35.2" y="18.2" width="2" height="1.5"/><rect x="76.2" y="39.8" width="1" height="3"/><rect x="118.8" y="81.9" width="3" height="1"/><rect x="57.1" y="108.9" width="3" height="3"/><rect x="49.0" y="49.9" width="1" height="2"/><rect x="79.3" y="7.8" width="1" height="1"/><rect x="55.1" y="13.7" width="2" height="1"/><rect x="12.8" y="70.8" width="2" height="1"/><rect x="118.6" y="76.7" width="1" height="1"/><rect x="76.8" y="18.6" width="1.5" height="1.5"/><rect x="75.3" y="59.3" width="1" height="2"/><rect x="124.1" y="58.2" width="2" height="1.5"/><rect x="10.7" y="12.8" width="1.5" height="1.5"/><rect x="59.8" y="86.5" width="2" height="1"/><rect x="25.7" y="119.0" width="1.5" height="1"/><rect x="86.3" y="114.3" width="2" height="1.5"/><rect x="122.3" y="107.9" width="3" height="1.5"/><rect x="64.8" y="113.5" width="1.5" height="1"/><rect x="66.6" y="97.4" width="1.5" height="1"/><rect x="76.7" y="98.5" width="1" height="1"/><rect x="102.3" y="92.5" width="1" height="1"/><rect x="64.7" y="44.4" width="1" height="1"/><rect x="98.8" y="59.0" width="1" height="3"/><rect x="119.6" y="55.9" width="3" height="1.5"/><rect x="119.4" y="45.6" width="1" height="1"/><rect x="28.4" y="24.6" width="1" height="2"/><rect x="78.0" y="112.5" width="1" height="2"/><rect x="113.6" y="43.0" width="3" height="1"/><rect x="104.3" y="15.0" width="2" height="1"/><rect x="59.8" y="22.3" width="3" height="1.5"/><rect x="10.8" y="118.3" width="3" height="2"/><rect x="57.9" y="92.9" width="1" height="1"/><rect x="21.3" y="15.9" width="1" height="3"/><rect x="113.1" y="100.8" width="1" height="3"/><rect x="103.3" y="122.5" width="3" height="1.5"/><rect x="19.5" y="68.5" width="1" height="1"/><rect x="99.9" y="90.8" width="1" height="3"/><rect x="93.7" y="17.4" width="1" height="1"/><rect x="3.5" y="26.6" width="2" height="1"/><rect x="95.5" y="40.7" width="2" height="2"/><rect x="104.3" y="7.6" width="3" height="1.5"/><rect x="112.2" y="82.8" width="2" height="2"/><rect x="103.4" y="109.8" width="1" height="3"/><rect x="19.0" y="63.8" width="2" height="1"/><rect x="76.1" y="97.0" width="1" height="1"/><rect x="17.7" y="77.4" width="1" height="3"/><rect x="7.7" y="85.3" width="2" height="3"/><rect x="60.3" y="97.1" width="2" height="1"/><rect x="31.1" y="34.6" width="1" height="3"/><rect x="56.5" y="3.5" width="1" height="2"/><rect x="40.7" y="121.7" width="2" height="3"/><rect x="24.9" y="34.6" width="2" height="3"/><rect x="100.9" y="63.5" width="1" height="3"/><rect x="109.6" y="117.8" width="1.5" height="3"/><rect x="111.6" y="25.3" width="2" height="1"/><rect x="52.1" y="49.0" width="1.5" height="1"/><rect x="83.9" y="53.5" width="1" height="1.5"/><rect x="98.0" y="112.1" width="1" height="1.5"/><rect x="17.9" y="110.4" width="2" height="1"/><rect x="93.3" y="11.8" width="2" height="1"/><rect x="123.7" y="104.1" width="1" height="2"/><rect x="124.3" y="50.5" width="2" height="1"/><rect x="44.6" y="11.5" width="1.5" height="1"/><rect x="42.2" y="57.3" width="3" height="1"/><rect x="48.0" y="64.7" width="1.5" height="3"/><rect x="120.1" y="14.1" width="1" height="1"/><rect x="10.5" y="34.0" width="1" height="1.5"/><rect x="94.5" y="102.5" width="3" height="1.5"/><rect x="50.7" y="67.1" width="2" height="3"/><rect x="61.8" y="40.9" width="1.5" height="1"/><rect x="99.9" y="22.9" width="1" height="1.5"/><rect x="117.3" y="79.3" width="1.5" height="1"/><rect x="76.0" y="27.8" width="1.5" height="1"/><rect x="56.7" y="42.4" width="2" height="2"/><rect x="115.8" y="33.5" width="1" height="1"/><rect x="65.9" y="29.8" width="1" height="1"/><rect x="32.7" y="22.6" width="1.5" height="1.5"/><rect x="66.4" y="25.7" width="2" height="3"/><rect x="84.0" y="33.8" width="1" height="1.5"/><rect x="4.6" y="2.3" width="2" height="3"/><rect x="122.3" y="64.3" width="1" height="2"/><rect x="13.3" y="102.4" width="2" height="2"/><rect x="68.2" y="111.1" width="2" height="1.5"/><rect x="86.0" y="122.8" width="1.5" height="1"/><rect x="104.0" y="88.3" width="3" height="1"/><rect x="50.6" y="43.4" width="1" height="1"/><rect x="1.8" y="78.2" width="1.5" height="2"/><rect x="20.4" y="10.6" width="2" height="3"/><rect x="83.8" y="35.2" width="1" height="1.5"/><rect x="5.7" y="23.2" width="1.5" height="2"/><rect x="0.5" y="45.5" width="1.5" height="3"/><rect x="40.4" y="4.3" width="1.5" height="1"/><rect x="44.6" y="0.1" width="2" height="1"/><rect x="59.3" y="62.8" width="1" height="1"/><rect x="63.1" y="0.6" width="1.5" height="1"/><rect x="18.0" y="73.4" width="2" height="1"/><rect x="37.5" y="78.7" width="1" height="3"/><rect x="119.7" y="106.7" width="1" height="3"/><rect x="48.7" y="40.8" width="2" height="1"/><rect x="35.5" y="77.3" width="1" height="1"/><rect x="103.1" y="89.4" width="2" height="2"/><rect x="91.7" y="101.5" width="1" height="3"/><rect x="94.1" y="71.1" width="1" height="3"/><rect x="99.7" y="88.9" width="3" height="1"/><rect x="10.6" y="5.2" width="3" height="1.5"/><rect x="119.9" y="47.1" width="2" height="3"/><rect x="6.3" y="2.4" width="2" height="1"/><rect x="61.2" y="0.4" width="1" height="3"/><rect x="112.2" y="11.5" width="2" height="1"/><rect x="93.2" y="59.2" width="1" height="1.5"/><rect x="29.3" y="94.6" width="1" height="2"/><rect x="61.7" y="47.8" width="2" height="1.5"/><rect x="95.9" y="77.1" width="3" height="1"/><rect x="9.7" y="18.4" width="1.5" height="1.5"/><rect x="77.6" y="16.7" width="2" height="1"/><rect x="60.7" y="121.6" width="1" height="1"/><rect x="84.5" y="36.4" width="2" height="1.5"/><rect x="58.1" y="58.3" width="1" height="3"/><rect x="24.9" y="122.3" width="2" height="1"/><rect x="36.2" y="9.6" width="2" height="2"/><rect x="124.2" y="48.4" width="1" height="1"/><rect x="72.7" y="17.7" width="2" height="1.5"/><rect x="119.1" y="16.6" width="3" height="3"/><rect x="34.9" y="14.1" width="1.5" height="1"/><rect x="62.2" y="109.5" width="2" height="1"/><rect x="19.9" y="118.7" width="3" height="2"/><rect x="50.7" y="90.9" width="2" height="1.5"/><rect x="47.0" y="15.1" width="1.5" height="1"/><rect x="40.6" y="42.3" width="2" height="1"/><rect x="117.5" y="24.5" width="1" height="1.5"/><rect x="31.7" y="8.1" width="2" height="3"/><rect x="9.6" y="115.7" width="1.5" height="1"/><rect x="35.1" y="6.5" width="3" height="1.5"/><rect x="79.4" y="18.6" width="1.5" height="2"/><rect x="63.9" y="23.7" width="1.5" height="2"/><rect x="110.5" y="101.5" width="3" height="2"/><rect x="114.2" y="117.6" width="2" height="1"/><rect x="89.9" y="6.2" width="3" height="2"/><rect x="56.4" y="94.1" width="3" height="1.5"/><rect x="60.7" y="114.0" width="2" height="1"/><rect x="21.3" y="51.9" width="1.5" height="1.5"/><rect x="32.0" y="92.3" width="3" height="1.5"/><rect x="50.8" y="29.8" width="2" height="3"/><rect x="83.6" y="15.0" width="3" height="1"/><rect x="9.4" y="62.6" width="2" height="3"/><rect x="27.5" y="113.3" width="2" height="2"/><rect x="17.4" y="24.1" width="1" height="1"/><rect x="42.7" y="11.4" width="1" height="1.5"/><rect x="32.3" y="71.2" width="1" height="2"/><rect x="47.9" y="93.2" width="1" height="2"/><rect x="33.8" y="94.0" width="2" height="1.5"/><rect x="71.8" y="45.0" width="3" height="3"/><rect x="66.2" y="98.8" width="1" height="1"/><rect x="33.9" y="31.1" width="2" height="2"/><rect x="54.0" y="39.0" width="1" height="1"/><rect x="4.0" y="88.7" width="2" height="3"/><rect x="61.2" y="9.1" width="2" height="2"/><rect x="121.5" y="31.1" width="1" height="1"/><rect x="19.3" y="65.3" width="3" height="1"/><rect x="117.7" y="90.2" width="3" height="2"/><rect x="10.6" y="97.1" width="1" height="1"/><rect x="29.1" y="115.0" width="3" height="1.5"/><rect x="120.3" y="78.3" width="2" height="2"/><rect x="87.3" y="14.0" width="1" height="1.5"/><rect x="65.6" y="72.9" width="2" height="1.5"/><rect x="27.9" y="75.1" width="1" height="3"/><rect x="37.7" y="57.6" width="1.5" height="1"/><rect x="59.4" y="29.3" width="1" height="1"/><rect x="120.1" y="88.1" width="1.5" height="1"/><rect x="2.7" y="62.3" width="3" height="2"/><rect x="10.1" y="28.5" width="2" height="1.5"/><rect x="28.3" y="4.3" width="1.5" height="2"/><rect x="45.3" y="49.5" width="1" height="1.5"/><rect x="92.4" y="63.1" width="1" height="2"/><rect x="121.2" y="39.0" width="1" height="1"/><rect x="58.1" y="33.1" width="1.5" height="1"/><rect x="119.0" y="62.0" width="1" height="1"/><rect x="60.6" y="113.8" width="1" height="3"/><rect x="18.3" y="49.2" width="1" height="1"/><rect x="121.8" y="17.7" width="1" height="1"/><rect x="23.0" y="56.2" width="3" height="1.5"/><rect x="91.6" y="124.7" width="1" height="1.5"/><rect x="23.8" y="81.6" width="2" height="2"/><rect x="4.0" y="83.1" width="2" height="1.5"/><rect x="123.1" y="55.3" width="1" height="1"/><rect x="9.8" y="10.1" width="2" height="1"/><rect x="70.1" y="94.9" width="2" height="1.5"/><rect x="96.1" y="38.6" width="2" height="1"/><rect x="6.2" y="59.2" width="1.5" height="3"/><rect x="114.9" y="24.1" width="1.5" height="2"/><rect x="3.8" y="51.4" width="3" height="2"/><rect x="5.1" y="4.4" width="1" height="1"/><rect x="32.1" y="93.4" width="2" height="1.5"/><rect x="45.4" y="41.9" width="2" height="1"/><rect x="32.8" y="89.6" width="1.5" height="1.5"/><rect x="37.2" y="90.2" width="2" height="1"/><rect x="3.0" y="29.2" width="2" height="2"/><rect x="119.2" y="48.3" width="1.5" height="2"/><rect x="101.9" y="16.6" width="2" height="1"/><rect x="1.1" y="116.4" width="1.5" height="1"/><rect x="75.9" y="41.0" width="1.5" height="2"/><rect x="45.2" y="97.8" width="1" height="3"/><rect x="24.7" y="94.1" width="1" height="2"/><rect x="8.1" y="4.2" width="2" height="3"/><rect x="40.7" y="122.5" width="1" height="1"/><rect x="33.1" y="10.5" width="1" height="2"/><rect x="62.3" y="88.7" width="2" height="1"/><rect x="29.3" y="52.1" width="2" height="1"/><rect x="93.5" y="105.9" width="3" height="1"/><rect x="97.5" y="36.7" width="1.5" height="3"/><rect x="33.5" y="31.8" width="1.5" height="1"/><rect x="54.9" y="23.2" width="1" height="1"/><rect x="35.2" y="113.4" width="1" height="1.5"/><rect x="8.1" y="31.5" width="1" height="3"/><rect x="65.8" y="81.2" width="1" height="2"/><rect x="123.9" y="12.8" width="2" height="1"/><rect x="105.1" y="114.3" width="1" height="1.5"/><rect x="29.1" y="6.3" width="2" height="3"/><rect x="24.3" y="9.4" width="2" height="1"/><rect x="56.1" y="32.5" width="3" height="1"/><rect x="13.2" y="74.5" width="2" height="1.5"/><rect x="27.2" y="46.1" width="1" height="1"/><rect x="25.5" y="31.9" width="2" height="1"/><rect x="101.8" y="102.4" width="2" height="1.5"/><rect x="23.1" y="39.0" width="1" height="1"/><rect x="99.4" y="68.5" width="1" height="2"/><rect x="12.7" y="49.4" width="2" height="1"/><rect x="79.9" y="11.4" width="1" height="2"/><rect x="86.9" y="51.2" width="1.5" height="1.5"/><rect x="52.2" y="6.4" width="3" height="3"/><rect x="110.5" y="51.8" width="1" height="1.5"/><rect x="80.6" y="48.8" width="2" height="1"/><rect x="117.7" y="54.3" width="1" height="2"/><rect x="14.2" y="11.3" width="2" height="1.5"/><rect x="57.6" y="20.3" width="1" height="1"/><rect x="68.9" y="80.1" width="2" height="1"/><rect x="71.6" y="115.9" width="3" height="3"/><rect x="21.5" y="43.5" width="1" height="3"/><rect x="21.5" y="8.4" width="2" height="2"/><rect x="94.2" y="99.0" width="1" height="1.5"/><rect x="15.8" y="117.9" width="2" height="1.5"/><rect x="6.7" y="115.8" width="2" height="1"/><rect x="113.0" y="77.5" width="1" height="1"/><rect x="77.6" y="76.8" width="1" height="2"/><rect x="22.9" y="27.3" width="2" height="3"/><rect x="19.6" y="44.9" width="1" height="1"/><rect x="121.3" y="102.0" width="1" height="1"/><rect x="110.5" y="105.3" width="3" height="1"/><rect x="83.5" y="40.5" width="2" height="3"/><rect x="57.0" y="106.1" width="1.5" height="2"/><rect x="38.5" y="31.2" width="2" height="1.5"/><rect x="55.8" y="54.8" width="1" height="1"/><rect x="77.4" y="61.2" width="1" height="2"/><rect x="95.4" y="97.5" width="2" height="1"/><rect x="101.3" y="50.0" width="1" height="1"/><rect x="44.8" y="45.7" width="2" height="3"/><rect x="63.8" y="5.1" width="3" height="1"/><rect x="10.3" y="91.7" width="3" height="3"/><rect x="10.0" y="94.0" width="2" height="1"/><rect x="3.2" y="8.3" width="2" height="1"/><rect x="24.2" y="122.7" width="2" height="1.5"/><rect x="119.6" y="114.5" width="1" height="1"/><rect x="8.2" y="43.9" width="1.5" height="1"/><rect x="40.5" y="76.7" width="2" height="1"/><rect x="31.8" y="120.5" width="2" height="1"/><rect x="74.0" y="77.0" width="1" height="1.5"/><rect x="46.5" y="24.9" width="2" height="1"/><rect x="79.6" y="34.8" width="1.5" height="2"/><rect x="21.1" y="98.1" width="1" height="3"/><rect x="6.1" y="107.3" width="2" height="3"/><rect x="65.2" y="86.1" width="1" height="1.5"/><rect x="124.1" y="78.7" width="2" height="1.5"/><rect x="33.1" y="123.8" width="2" height="1"/><rect x="45.0" y="95.6" width="2" height="1"/><rect x="22.1" y="92.9" width="1" height="1.5"/><rect x="102.5" y="31.7" width="3" height="3"/><rect x="116.1" y="112.0" width="3" height="1"/><rect x="93.4" y="27.7" width="1.5" height="3"/><rect x="78.2" y="52.2" width="1.5" height="1"/><rect x="16.5" y="28.4" width="3" height="1"/><rect x="2.8" y="0.3" width="1.5" height="1.5"/><rect x="13.3" y="44.6" width="1" height="2"/><rect x="72.9" y="73.6" width="1" height="1.5"/><rect x="78.0" y="59.4" width="1" height="1"/><rect x="117.1" y="30.4" width="1" height="2"/><rect x="12.0" y="79.8" width="3" height="1.5"/><rect x="50.2" y="33.0" width="1" height="1"/><rect x="80.6" y="70.3" width="1.5" height="3"/><rect x="80.7" y="55.5" width="2" height="2"/><rect x="31.1" y="112.9" width="1" height="1"/><rect x="66.4" y="50.7" width="1" height="1"/><rect x="7.3" y="97.4" width="1" height="3"/><rect x="68.9" y="117.6" width="1" height="2"/><rect x="24.9" y="76.0" width="2" height="2"/><rect x="101.7" y="21.8" width="1.5" height="1"/><rect x="37.5" y="6.1" width="3" height="2"/><rect x="89.4" y="0.8" width="2" height="2"/><rect x="10.1" y="81.9" width="1" height="1"/><rect x="124.6" y="32.7" width="3" height="1"/><rect x="15.4" y="111.4" width="3" height="1.5"/><rect x="89.0" y="33.2" width="2" height="2"/><rect x="85.7" y="114.7" width="1.5" height="1.5"/><rect x="80.3" y="120.6" width="1" height="1"/><rect x="110.0" y="1.9" width="1.5" height="1"/><rect x="105.2" y="25.3" width="1" height="1.5"/><rect x="24.0" y="48.6" width="2" height="1"/><rect x="47.4" y="106.5" width="3" height="3"/><rect x="58.7" y="105.0" width="3" height="1"/><rect x="107.2" y="54.7" width="3" height="1"/><rect x="71.3" y="38.5" width="1" height="2"/><rect x="77.8" y="9.7" width="1" height="1"/><rect x="4.1" y="14.0" width="2" height="1"/><rect x="43.1" y="17.7" width="1" height="1"/><rect x="5.2" y="86.6" width="3" height="1"/><rect x="87.1" y="92.1" width="1" height="3"/><rect x="95.2" y="24.9" width="2" height="1"/><rect x="110.0" y="94.5" width="3" height="2"/><rect x="13.4" y="25.7" width="1" height="1"/><rect x="4.3" y="106.0" width="3" height="1"/><rect x="103.1" y="78.9" width="1.5" height="2"/><rect x="12.5" y="12.2" width="3" height="1"/><rect x="36.8" y="42.1" width="1.5" height="1"/><rect x="43.9" y="116.3" width="1" height="1.5"/><rect x="113.8" y="96.2" width="2" height="3"/><rect x="59.5" y="36.0" width="3" height="1"/><rect x="98.6" y="3.9" width="2" height="1"/><rect x="43.3" y="88.1" width="2" height="3"/><rect x="27.1" y="107.8" width="1" height="3"/><rect x="102.5" y="21.3" width="1" height="3"/><rect x="25.3" y="95.3" width="1" height="1"/><rect x="43.5" y="12.0" width="3" height="1"/><rect x="120.9" y="74.1" width="2" height="1.5"/><rect x="72.3" y="19.9" width="1" height="1"/><rect x="62.3" y="13.7" width="3" height="1"/><rect x="61.3" y="123.9" width="2" height="1"/><rect x="78.5" y="44.5" width="2" height="2"/><rect x="111.5" y="93.2" width="2" height="1"/><rect x="46.5" y="37.9" width="2" height="3"/><rect x="62.6" y="47.4" width="3" height="1"/><rect x="118.0" y="15.9" width="2" height="3"/><rect x="80.8" y="43.6" width="1.5" height="3"/><rect x="19.4" y="105.4" width="3" height="3"/><rect x="92.7" y="21.2" width="2" height="1.5"/><rect x="72.4" y="15.8" width="2" height="1"/><rect x="63.5" y="33.4" width="3" height="3"/><rect x="19.3" y="19.5" width="1" height="1.5"/><rect x="75.4" y="43.6" width="1" height="1.5"/><rect x="119.5" y="32.3" width="3" height="1"/><rect x="20.6" y="82.2" width="1" height="2"/><rect x="18.9" y="18.5" width="1.5" height="1.5"/><rect x="54.4" y="24.5" width="3" height="1"/><rect x="35.1" y="110.7" width="2" height="1"/><rect x="1.6" y="106.8" width="2" height="1"/><rect x="62.6" y="79.0" width="2" height="1"/><rect x="17.7" y="75.5" width="2" height="1"/><rect x="92.6" y="113.5" width="2" height="3"/><rect x="73.4" y="80.9" width="1" height="3"/><rect x="106.6" y="84.9" width="3" height="1"/><rect x="56.7" y="39.1" width="3" height="1"/><rect x="111.8" y="30.3" width="2" height="1"/><rect x="31.3" y="52.9" width="2" height="1"/><rect x="77.7" y="51.2" width="3" height="1"/><rect x="111.8" y="41.0" width="1" height="2"/><rect x="104.0" y="113.5" width="1" height="1"/><rect x="31.4" y="27.2" width="3" height="1"/><rect x="64.9" y="12.6" width="2" height="2"/><rect x="67.6" y="89.7" width="2" height="1"/><rect x="79.9" y="103.6" width="2" height="1.5"/><rect x="51.3" y="118.5" width="1" height="1"/><rect x="49.1" y="95.3" width="1" height="3"/><rect x="44.4" y="7.1" width="1.5" height="2"/><rect x="50.0" y="1.7" width="2" height="2"/><rect x="78.6" y="84.4" width="2" height="1.5"/><rect x="13.7" y="37.9" width="2" height="3"/><rect x="121.4" y="124.3" width="2" height="2"/><rect x="26.5" y="16.2" width="1" height="1"/><rect x="58.6" y="70.3" width="1" height="1"/><rect x="44.1" y="79.8" width="2" height="2"/><rect x="124.5" y="95.0" width="3" height="1"/><rect x="97.5" y="58.7" width="1" height="1.5"/><rect x="88.0" y="85.9" width="2" height="1"/><rect x="60.2" y="100.7" width="1.5" height="1.5"/><rect x="30.6" y="37.7" width="2" height="2"/><rect x="53.6" y="79.7" width="3" height="1.5"/><rect x="19.1" y="37.9" width="2" height="1"/><rect x="10.7" y="70.6" width="1.5" height="1"/><rect x="66.3" y="43.1" width="2" height="1"/><rect x="82.2" y="26.2" width="1" height="1.5"/><rect x="31.3" y="12.7" width="1" height="1"/><rect x="23.2" y="56.5" width="1" height="1"/><rect x="113.0" y="99.0" width="1" height="3"/><rect x="111.4" y="76.0" width="1" height="3"/><rect x="98.5" y="104.9" width="1" height="2"/><rect x="86.6" y="66.3" width="3" height="2"/><rect x="83.9" y="14.6" width="1" height="1.5"/><rect x="52.4" y="103.4" width="2" height="2"/><rect x="69.7" y="60.5" width="1" height="2"/><rect x="30.8" y="20.6" width="2" height="1"/><rect x="20.0" y="40.1" width="3" height="3"/><rect x="62.2" y="37.1" width="2" height="1.5"/><rect x="53.2" y="125.0" width="3" height="1"/><rect x="22.6" y="45.0" width="3" height="1"/><rect x="2.6" y="5.7" width="3" height="1.5"/><rect x="101.1" y="11.7" width="2" height="2"/><rect x="94.6" y="18.1" width="1" height="2"/><rect x="78.2" y="42.3" width="3" height="1.5"/><rect x="42.7" y="97.3" width="2" height="1"/><rect x="35.5" y="42.7" width="1.5" height="3"/><rect x="6.6" y="36.1" width="1.5" height="2"/><rect x="50.5" y="63.0" width="1.5" height="3"/><rect x="43.1" y="25.4" width="2" height="1"/><rect x="41.4" y="39.6" width="1.5" height="1"/><rect x="73.3" y="79.4" width="1" height="2"/><rect x="90.3" y="110.7" width="2" height="3"/><rect x="6.2" y="37.6" width="1" height="1"/><rect x="23.7" y="115.2" width="2" height="1"/><rect x="98.6" y="113.7" width="2" height="2"/><rect x="77.1" y="78.4" width="3" height="3"/><rect x="109.5" y="10.4" width="1" height="2"/><rect x="78.2" y="21.7" width="3" height="1"/><rect x="108.7" y="52.7" width="1" height="1"/><rect x="46.1" y="102.8" width="1.5" height="3"/><rect x="88.8" y="107.8" width="1" height="2"/><rect x="4.3" y="2.5" width="2" height="3"/><rect x="116.7" y="6.8" width="2" height="3"/><rect x="4.9" y="14.9" width="2" height="3"/><rect x="87.0" y="50.6" width="1" height="1"/><rect x="85.0" y="74.2" width="3" height="1"/><rect x="59.4" y="51.6" width="1" height="1"/><rect x="80.6" y="26.5" width="1" height="1"/><rect x="53.4" y="1.2" width="3" height="1"/><rect x="123.3" y="107.3" width="1" height="1"/><rect x="16.1" y="2.2" width="3" height="3"/><rect x="30.3" y="91.7" width="1" height="1"/><rect x="45.7" y="93.4" width="3" height="1"/><rect x="91.2" y="10.5" width="3" height="3"/><rect x="88.7" y="57.6" width="1.5" height="1"/><rect x="89.7" y="1.4" width="1" height="3"/><rect x="10.0" y="38.9" width="3" height="3"/><rect x="20.7" y="107.6" width="2" height="3"/><rect x="7.5" y="45.9" width="2" height="2"/><rect x="58.7" y="20.8" width="1" height="1.5"/><rect x="119.2" y="20.5" width="2" height="2"/><rect x="48.2" y="98.3" width="1.5" height="3"/><rect x="41.7" y="35.0" width="2" height="3"/><rect x="41.5" y="75.7" width="1" height="1"/><rect x="75.1" y="38.6" width="2" height="1"/><rect x="47.1" y="85.6" width="2" height="1"/><rect x="100.9" y="35.4" width="1" height="1.5"/><rect x="32.9" y="52.8" width="2" height="1"/><rect x="36.1" y="17.6" width="2" height="1"/><rect x="34.2" y="106.4" width="2" height="2"/><rect x="43.4" y="10.6" width="2" height="2"/><rect x="99.7" y="25.1" width="3" height="1"/><rect x="38.7" y="7.2" width="2" height="2"/><rect x="88.5" y="115.7" width="2" height="1"/><rect x="99.0" y="57.5" width="1" height="3"/><rect x="100.8" y="96.5" width="1" height="2"/><rect x="72.4" y="112.1" width="2" height="1.5"/><rect x="59.6" y="73.7" width="1" height="1"/><rect x="24.0" y="22.6" width="3" height="1.5"/><rect x="45.4" y="70.6" width="2" height="3"/><rect x="107.1" y="30.8" width="2" height="1.5"/><rect x="108.3" y="46.5" width="2" height="1"/><rect x="19.5" y="74.7" width="1.5" height="1.5"/><rect x="64.9" y="2.6" width="1" height="1"/><rect x="123.8" y="108.3" width="2" height="3"/><rect x="70.9" y="32.7" width="1.5" height="2"/><rect x="12.1" y="55.9" width="2" height="3"/><rect x="120.4" y="31.7" width="1" height="1.5"/><rect x="25.1" y="22.6" width="1" height="1"/><rect x="6.4" y="69.7" width="3" height="2"/><rect x="60.9" y="105.7" width="1" height="3"/><rect x="80.0" y="115.3" width="3" height="1"/><rect x="32.1" y="70.6" width="3" height="1"/><rect x="119.6" y="83.7" width="2" height="1"/><rect x="56.0" y="20.0" width="1" height="1"/><rect x="21.5" y="117.7" width="1.5" height="1"/><rect x="112.8" y="113.1" width="1" height="1.5"/><rect x="98.3" y="88.7" width="3" height="2"/><rect x="7.0" y="18.1" width="1" height="1"/><rect x="84.6" y="37.3" width="2" height="2"/><rect x="94.7" y="13.2" width="1.5" height="1.5"/><rect x="32.1" y="15.5" width="2" height="2"/><rect x="21.1" y="29.8" width="1" height="1"/><rect x="58.5" y="114.1" width="1" height="1"/><rect x="116.0" y="27.6" width="2" height="1.5"/><rect x="111.1" y="17.5" width="2" height="1"/><rect x="115.7" y="48.1" width="1" height="1"/><rect x="56.5" y="42.5" width="1" height="2"/><rect x="14.5" y="45.8" width="1.5" height="1"/><rect x="92.0" y="22.5" width="2" height="3"/><rect x="111.2" y="54.9" width="1" height="1.5"/><rect x="52.3" y="30.8" width="1" height="1.5"/><rect x="71.4" y="37.1" width="1" height="1.5"/><rect x="61.4" y="39.8" width="2" height="1"/><rect x="19.2" y="64.2" width="3" height="1"/><rect x="70.0" y="104.4" width="1" height="1.5"/><rect x="94.4" y="121.3" width="2" height="1.5"/><rect x="124.8" y="115.6" width="1" height="2"/><rect x="36.2" y="112.0" width="1" height="1.5"/><rect x="18.0" y="80.0" width="2" height="3"/><rect x="42.6" y="17.5" width="1" height="3"/><rect x="35.8" y="45.0" width="1" height="2"/><rect x="27.3" y="71.4" width="1" height="1"/><rect x="65.2" y="28.8" width="1" height="1"/><rect x="75.1" y="103.6" width="2" height="2"/><rect x="95.2" y="21.9" width="1" height="3"/><rect x="83.7" y="78.6" width="1" height="3"/><rect x="38.5" y="1.3" width="3" height="3"/><rect x="51.0" y="90.2" width="1" height="3"/><rect x="101.3" y="41.9" width="3" height="2"/><rect x="11.3" y="51.2" width="2" height="1"/><rect x="109.0" y="33.3" width="1" height="3"/><rect x="104.0" y="45.9" width="1" height="1.5"/><rect x="71.9" y="107.3" width="1.5" height="3"/><rect x="116.5" y="121.1" width="1" height="1"/><rect x="44.6" y="30.6" width="1.5" height="2"/><rect x="72.0" y="112.3" width="1.5" height="1"/><rect x="119.3" y="61.9" width="2" height="1"/><rect x="66.3" y="67.2" width="1" height="1"/><rect x="120.9" y="28.0" width="1" height="1"/><rect x="12.8" y="31.3" width="1" height="1"/><rect x="12.1" y="87.4" width="1" height="1.5"/><rect x="2.2" y="74.9" width="2" height="2"/><rect x="65.4" y="87.8" width="1" height="1.5"/><rect x="108.7" y="89.6" width="1" height="1.5"/><rect x="15.4" y="61.7" width="2" height="1.5"/><rect x="13.8" y="15.2" width="1" height="3"/><rect x="74.0" y="107.6" width="1" height="3"/><rect x="57.8" y="49.6" width="1" height="2"/><rect x="86.7" y="74.6" width="2" height="3"/><rect x="4.5" y="121.3" width="1" height="1.5"/><rect x="42.3" y="30.0" width="1.5" height="2"/><rect x="105.4" y="70.6" width="1.5" height="2"/><rect x="106.0" y="6.7" width="2" height="1"/><rect x="119.7" y="116.8" width="1" height="2"/><rect x="82.9" y="1.4" width="1" height="3"/><rect x="23.4" y="40.5" width="1" height="3"/><rect x="83.6" y="28.2" width="2" height="2"/><rect x="97.1" y="117.1" width="3" height="1"/><rect x="101.2" y="110.5" width="1" height="1"/><rect x="108.2" y="77.6" width="3" height="3"/><rect x="34.2" y="67.8" width="1" height="3"/><rect x="12.6" y="15.2" width="1" height="2"/><rect x="29.6" y="4.9" width="1" height="1.5"/><rect x="43.4" y="20.9" width="1" height="3"/><rect x="119.9" y="115.1" width="1.5" height="1"/><rect x="58.3" y="66.7" width="1" height="2"/><rect x="15.5" y="16.4" width="1.5" height="2"/><rect x="72.2" y="34.3" width="3" height="1"/><rect x="92.6" y="35.9" width="2" height="3"/><rect x="86.9" y="27.7" width="2" height="1"/><rect x="68.6" y="45.9" width="2" height="1.5"/><rect x="76.6" y="58.6" width="1.5" height="1"/><rect x="30.3" y="27.7" width="2" height="3"/><rect x="47.9" y="73.2" width="1" height="1.5"/><rect x="20.3" y="119.0" width="1.5" height="3"/><rect x="40.7" y="33.7" width="1" height="1.5"/><rect x="7.1" y="2.7" width="2" height="1"/><rect x="75.7" y="43.5" width="3" height="1"/><rect x="64.6" y="104.3" width="1.5" height="1"/><rect x="65.1" y="123.7" width="3" height="1"/><rect x="52.1" y="83.5" width="1" height="1"/><rect x="77.0" y="106.2" width="2" height="1"/><rect x="92.3" y="92.9" width="2" height="1.5"/><rect x="98.1" y="88.6" width="3" height="1"/><rect x="51.6" y="12.9" width="2" height="3"/><rect x="73.2" y="62.2" width="2" height="1"/><rect x="52.2" y="98.0" width="2" height="3"/><rect x="13.9" y="106.5" width="3" height="2"/><rect x="36.0" y="44.1" width="1.5" height="2"/><rect x="65.8" y="74.4" width="3" height="1.5"/><rect x="0.8" y="93.2" width="2" height="2"/><rect x="55.5" y="23.0" width="1.5" height="1"/><rect x="54.5" y="47.1" width="1" height="1"/><rect x="102.7" y="41.3" width="2" height="1"/><rect x="119.8" y="25.5" width="2" height="1"/><rect x="3.2" y="32.1" width="2" height="1.5"/><rect x="115.0" y="96.7" width="2" height="3"/><rect x="124.8" y="64.7" width="2" height="2"/><rect x="48.7" y="44.7" width="2" height="1.5"/><rect x="56.6" y="1.3" width="1" height="3"/><rect x="28.7" y="51.2" width="2" height="2"/><rect x="81.1" y="116.1" width="1" height="1"/><rect x="120.6" y="60.8" width="2" height="3"/><rect x="112.4" y="73.4" width="3" height="3"/><rect x="93.3" y="11.5" width="1.5" height="1.5"/></pattern><pattern fill="#fff" id="sps" width="128" height="128" patternUnits="userSpaceOnUse"><rect x="56.5" y="70.0" width="2" height="2"/><rect x="63.5" y="73.4" width="1" height="2"/><rect x="59.5" y="76.7" width="1" height="1"/><rect x="55.8" y="17.7" width="2" height="1"/><rect x="74.4" y="49.5" width="2" height="2"/><rect x="81.3" y="77.9" width="2" height="1"/><rect x="7.4" y="23.8" width="1" height="2"/><rect x="3.8" y="58.0" width="2" height="2"/><rect x="105.3" y="64.9" width="2" height="1.5"/><rect x="62.5" y="82.8" width="2" height="1.5"/><rect x="50.8" y="68.9" width="1" height="1.5"/><rect x="39.4" y="28.7" width="1.5" height="1"/><rect x="8.8" y="95.8" width="2" height="1"/><rect x="105.8" y="48.3" width="1" height="1"/><rect x="26.7" y="115.9" width="1" height="2"/><rect x="46.9" y="88.6" width="2" height="1"/><rect x="70.8" y="24.8" width="2" height="1.5"/><rect x="42.1" y="38.9" width="1" height="2"/><rect x="94.8" y="14.7" width="1" height="1"/><rect x="1.4" y="58.1" width="2" height="1"/><rect x="85.3" y="23.5" width="2" height="1"/><rect x="123.2" y="96.2" width="2" height="2"/><rect x="14.6" y="52.6" width="1" height="1"/><rect x="33.7" y="121.4" width="2" height="1.5"/><rect x="124.7" y="2.5" width="1" height="2"/><rect x="124.5" y="75.3" width="2" height="1"/><rect x="5.3" y="18.3" width="2" height="1.5"/><rect x="1.2" y="76.3" width="1.5" height="2"/><rect x="9.2" y="11.3" width="2" height="1"/><rect x="1.9" y="46.1" width="2" height="2"/><rect x="15.9" y="73.4" width="2" height="1"/><rect x="108.3" y="22.9" width="1" height="1.5"/><rect x="113.6" y="102.2" width="1" height="1"/><rect x="19.8" y="78.6" width="2" height="1"/><rect x="85.9" y="48.5" width="2" height="2"/><rect x="9.8" y="5.9" width="1" height="1"/><rect x="64.0" y="31.9" width="2" height="2"/><rect x="32.1" y="103.0" width="2" height="2"/><rect x="36.7" y="21.9" width="2" height="1"/><rect x="15.8" y="59.9" width="2" height="2"/><rect x="76.8" y="35.0" width="1" height="1"/><rect x="8.6" y="51.4" width="1" height="1"/><rect x="5.8" y="35.2" width="2" height="2"/><rect x="121.6" y="11.5" width="1" height="2"/><rect x="122.6" y="82.1" width="2" height="2"/><rect x="73.1" y="17.5" width="1" height="1"/><rect x="59.3" y="44.7" width="1.5" height="1"/><rect x="2.7" y="79.5" width="2" height="1"/><rect x="91.3" y="39.9" width="1" height="1"/><rect x="56.6" y="46.0" width="1" height="1"/><rect x="99.2" y="114.4" width="1.5" height="1"/><rect x="85.6" y="112.6" width="2" height="1"/><rect x="107.9" y="71.6" width="2" height="2"/><rect x="47.4" y="1.6" width="1" height="1"/><rect x="11.3" y="14.4" width="1.5" height="2"/><rect x="91.0" y="48.6" width="2" height="2"/><rect x="57.2" y="57.8" width="2" height="1"/><rect x="64.8" y="64.3" width="1.5" height="2"/><rect x="11.0" y="2.8" width="2" height="1"/><rect x="62.2" y="76.8" width="2" height="1.5"/><rect x="112.1" y="46.0" width="1" height="2"/><rect x="25.3" y="21.2" width="1.5" height="2"/><rect x="62.3" y="30.2" width="2" height="1.5"/><rect x="24.8" y="53.9" width="1" height="1"/><rect x="48.1" y="72.9" width="1.5" height="1"/><rect x="17.0" y="62.1" width="1" height="1"/><rect x="118.8" y="34.6" width="1" height="1"/><rect x="56.3" y="34.4" width="1" height="2"/><rect x="47.8" y="65.0" width="2" height="1.5"/><rect x="89.5" y="105.2" width="2" height="2"/><rect x="40.0" y="103.6" width="1.5" height="2"/><rect x="5.2" y="88.6" width="2" height="1.5"/><rect x="38.6" y="98.9" width="1" height="1"/><rect x="50.6" y="23.7" width="1.5" height="1"/><rect x="97.4" y="99.6" width="2" height="1"/><rect x="55.8" y="78.7" width="2" height="1.5"/><rect x="119.8" y="85.6" width="1" height="2"/><rect x="32.0" y="89.3" width="2" height="2"/><rect x="89.3" y="22.4" width="1.5" height="1.5"/><rect x="67.5" y="118.4" width="2" height="2"/><rect x="124.6" y="19.9" width="2" height="1"/><rect x="10.9" y="116.6" width="2" height="2"/><rect x="16.2" y="56.7" width="2" height="1"/><rect x="47.1" y="71.1" width="2" height="1.5"/><rect x="58.0" y="81.4" width="1" height="1"/><rect x="90.2" y="102.3" width="2" height="1"/><rect x="26.7" y="112.5" width="1" height="1.5"/><rect x="67.1" y="98.8" width="1.5" height="1.5"/><rect x="113.7" y="107.0" width="1.5" height="2"/><rect x="10.3" y="55.1" width="2" height="2"/><rect x="96.0" y="60.9" width="1" height="1"/><rect x="101.1" y="8.0" width="1" height="1"/><rect x="66.6" y="85.8" width="1" height="2"/><rect x="18.6" y="64.6" width="2" height="2"/><rect x="105.0" y="86.2" width="2" height="2"/><rect x="118.6" y="10.8" width="1" height="2"/><rect x="65.8" y="36.3" width="2" height="2"/><rect x="79.9" y="65.3" width="2" height="1.5"/><rect x="39.0" y="47.7" width="2" height="1"/><rect x="38.1" y="17.6" width="2" height="2"/><rect x="34.1" y="62.2" width="2" height="2"/><rect x="14.3" y="0.6" width="2" height="1"/><rect x="67.3" y="5.5" width="2" height="2"/><rect x="100.1" y="70.4" width="2" height="1"/><rect x="86.4" y="8.2" width="2" height="2"/><rect x="51.7" y="119.6" width="2" height="1.5"/><rect x="30.8" y="61.6" width="1.5" height="2"/><rect x="112.6" y="117.0" width="2" height="2"/><rect x="39.7" y="23.9" width="2" height="1"/><rect x="115.7" y="16.2" width="1" height="1"/><rect x="24.3" y="28.4" width="2" height="1.5"/><rect x="40.3" y="44.4" width="2" height="2"/><rect x="13.1" y="91.4" width="1" height="2"/><rect x="77.9" y="89.7" width="2" height="2"/><rect x="109.8" y="2.9" width="2" height="2"/><rect x="103.1" y="77.0" width="2" height="1"/><rect x="108.0" y="66.8" width="1" height="2"/><rect x="27.0" y="67.9" width="2" height="1"/><rect x="29.1" y="92.6" width="1.5" height="1"/><rect x="39.5" y="39.4" width="1" height="1"/><rect x="97.3" y="24.3" width="1" height="1"/><rect x="111.1" y="16.6" width="1" height="1.5"/><rect x="48.5" y="54.3" width="2" height="2"/><rect x="98.7" y="15.8" width="2" height="1"/><rect x="12.0" y="71.2" width="1.5" height="1.5"/><rect x="14.4" y="63.2" width="1.5" height="2"/><rect x="124.8" y="104.1" width="1" height="2"/><rect x="13.3" y="4.7" width="2" height="2"/><rect x="64.4" y="71.1" width="1" height="1"/><rect x="23.1" y="25.5" width="1" height="1.5"/><rect x="115.9" y="11.9" width="1" height="1"/><rect x="118.9" y="57.8" width="1" height="1.5"/><rect x="48.9" y="53.3" width="1.5" height="2"/><rect x="26.3" y="46.6" width="2" height="1"/><rect x="105.5" y="22.7" width="2" height="1.5"/><rect x="92.4" y="50.7" width="1" height="2"/><rect x="20.6" y="64.1" width="1" height="1.5"/><rect x="111.6" y="100.2" width="2" height="2"/><rect x="71.2" y="23.9" width="2" height="1.5"/><rect x="100.6" y="32.3" width="1" height="1"/><rect x="101.8" y="50.7" width="1.5" height="2"/><rect x="86.8" y="95.9" width="1" height="2"/><rect x="25.9" y="23.1" width="1.5" height="1.5"/><rect x="58.6" y="1.3" width="1.5" height="2"/><rect x="6.2" y="34.1" width="2" height="1.5"/><rect x="42.2" y="82.5" width="2" height="1"/><rect x="66.6" y="48.7" width="2" height="1"/><rect x="87.7" y="95.2" width="2" height="1"/><rect x="14.3" y="13.5" width="1" height="1.5"/><rect x="55.5" y="63.1" width="1" height="2"/><rect x="1.3" y="32.3" width="1.5" height="1.5"/><rect x="68.8" y="63.5" width="2" height="2"/><rect x="105.8" y="12.5" width="2" height="1"/><rect x="68.7" y="83.6" width="1" height="2"/><rect x="116.3" y="20.0" width="2" height="1"/><rect x="107.0" y="67.7" width="2" height="1"/><rect x="53.7" y="61.8" width="1.5" height="2"/><rect x="49.8" y="39.0" width="2" height="1.5"/><rect x="60.4" y="33.7" width="1.5" height="1.5"/><rect x="3.4" y="96.6" width="2" height="1"/><rect x="79.1" y="51.1" width="2" height="2"/><rect x="6.6" y="39.4" width="2" height="1"/><rect x="72.7" y="90.4" width="1.5" height="1"/><rect x="99.7" y="28.0" width="2" height="2"/><rect x="31.4" y="94.4" width="1" height="2"/><rect x="12.3" y="101.3" width="2" height="1"/><rect x="122.4" y="102.1" width="2" height="1"/><rect x="6.3" y="52.1" width="1" height="1"/><rect x="107.6" y="44.6" width="1" height="1"/><rect x="45.4" y="17.5" width="2" height="2"/></pattern></defs><g fill="#fff"><path d="M1830.8,753 L1844.7,763.4 L1865.6,749.5 L1876,753 L1858.6,766.9 L1844.7,770.4 L1843,787.7 L1837.7,773.8Z"/><path d="M1799.5,725.2 L1813.4,721.7 L1811.7,732.1 L1801.2,735.6Z"/><path d="M1825.6,846.8 L1837.7,843.4 L1839.5,852.1 L1827.3,855.5Z"/><path d="M2410.4,758.2 L2441.7,753 L2445.2,756.5 L2420.9,765.1Z"/><path d="M2466.1,779.1 L2478.2,777.3 L2481.7,782.5 L2469.5,786Z"/><path d="M2483.4,906 L2504.3,902.5 L2514.7,912.9 L2504.3,923.3 L2493.9,912.9 L2486.9,916.4Z"/><path d="M2829.4,686.9 L2834.6,685.2 L2860.7,714.7 L2857.2,717.5Z"/><path d="M2900.7,728.6 L2909.3,726.9 L2912.8,733.9 L2904.1,736.3Z"/><path d="M2719.9,1160.8 L2726.8,1159.1 L2728.6,1169.5 L2721.6,1173Z"/><path d="M2758.1,1200.8 L2785.9,1199.1 L2782.4,1214.7 L2761.6,1214.7Z"/><path d="M2553,423.3 L2566.9,412.9 L2570.4,426.8 L2558.2,437.2Z"/><path d="M2702.5,1256.5 L2709.4,1258.2 L2707.7,1266.9 L2703.2,1266.2Z"/></g><g fill="#fff"><path fill="url(#spd)" d="M2371.3,547 L2378.2,533.1 L2395.6,517.4 L2421.8,517.4 L2435.7,527.9 L2453.1,519.2 L2481,534.8 L2486.2,573.2 L2481,615 L2454.9,602.8 L2421.8,580.1 L2393.9,564.5Z"/><path fill="url(#spd)" d="M1902.3,704.5 L1923.2,683.6 L1944.1,697.5 L1947.6,714.9 L1940.6,737.6 L1907.5,751.5 L1890.1,744.5 L1891.8,721.9Z"/><path fill="url(#spd)" d="M2059.1,734.1 L2066,723.6 L2093.9,716.7 L2121.8,718.4 L2140.9,742.8 L2121.8,751.5 L2107.8,760.2 L2069.5,760.2Z"/><path fill="url(#spd)" d="M2400,517.2 L2452.2,513.7 L2483.4,534.6 L2514.7,538.1 L2504.3,586.7 L2462.6,562.4 L2413.9,569.4 L2400,565.9Z"/><path fill="url(#spd)" d="M1754.3,756.5 L1830.8,739.1 L1886.4,746 L1872.5,780.8 L1796,794.7 L1754.3,780.8Z"/><path fill="url(#spd)" d="M2539.1,308.6 L2594.7,308.6 L2608.6,343.4 L2573.8,350.3 L2546,329.5Z"/><path fill="url(#spd)" d="M2758.1,451.2 L2789.4,447.7 L2806.8,461.6 L2789.4,482.4 L2761.6,485.9Z"/><path fill="url(#sps)" d="M2219.7,644.6 L2289.4,594.1 L2359.1,587.1 L2373,552.3 L2481,618.5 L2489.7,674.2 L2411.3,691.6 L2306.8,682.9 L2237.1,717.8 L2211,709.1Z"/><path fill="url(#sps)" d="M1712.6,746 L1893.4,718.2 L1938.6,843.4 L1921.2,940.7 L1844.7,982.4 L1782.1,947.7 L1736.9,857.3Z"/><path fill="url(#sps)" d="M2532.1,294.7 L2678.1,308.6 L2758.1,364.2 L2699,388.6 L2615.6,374.7 L2546,329.5Z"/><path fill="url(#sps)" d="M2192.4,634.8 L2380.1,620.9 L2450,704.3 L2450,912.9 L2310.6,947.7 L2192.4,864.2Z"/><path fill="url(#sps)" d="M2400,600 L2573.8,690.4 L2594.7,822.5 L2532.1,933.8 L2400,982.4Z"/><path fill="url(#sps)" d="M1956,780.8 L2171.5,780.8 L2185.4,899 L2136.7,930.3 L1962.9,912.9Z"/><path fill="url(#sps)" d="M2400,517.2 L2514.7,534.6 L2559.9,552 L2556.5,604.1 L2486.9,621.5 L2400,565.9Z"/></g><path fill="none" stroke="#fff" stroke-width="1.5" d="M2112.4,756.5 L2136.7,780.8 L2150.7,801.7 L2143.7,826 L2147.2,850.3 L2152.4,878.1 L2154.1,906 L2157.6,926.8 L2171.5,944.2 L2192.4,965.1 L2213.2,985.9 L2241,1003.3 L2275.8,1010.3 L2307.1,1013.7 L2328,1006.8 L2345.3,999.8M2328,1010.3 L2345.3,1027.6 L2359.3,1048.5 L2361,1065.9 L2357.5,1083.3 L2341.9,1093.7 L2324.5,1107.6 L2310.6,1128.5 L2300.2,1142.4 L2293.2,1154.9"/><path fill="none" stroke="#fff" stroke-width="1.1" stroke-dasharray="4 2.5" d="M1893.4,822.5 L1872.5,843.4 L1858.6,864.2 L1830.8,878.1 L1816.9,895.5 L1796,902.5 L1775.2,902.5M2187.2,822.5 L2195.8,843.4 L2206.3,864.2 L2220.2,885.1 L2223.7,895.5M2747.7,1160.8 L2733.8,1180 L2765.1,1190.4 L2782.4,1204.3 L2768.5,1239.1 L2761.6,1273.8 L2754.6,1294.7 L2765.1,1315.6 L2775.5,1343.4 L2768.5,1378.1 L2765.1,1402.5M2338.4,1103.5 L2310.6,1134.8 L2275.8,1155.6 L2248,1169.5 L2237.6,1193.9 L2234.1,1218.2 L2237.6,1239.1 L2227.1,1253 L2234.1,1280.8M2029,1140 L2042.9,1152.2 L2056.8,1155.6 L2058.5,1173 L2063.7,1188.7 L2044.6,1189.7M2115.9,1280.8 L2115.9,1266.9 L2133.3,1232.1 L2143.7,1211.3 L2171.5,1211.3 L2192.4,1221.7 L2213.2,1226.9 L2221.9,1214.7M2558.2,688.7 L2580.8,690.4 L2593,681.7M2580.8,690.4 L2587.7,721.7 L2608.6,746 L2598.2,773.8M2473,558.9 L2504.3,576.3 L2539.1,579.8 L2563.4,600.7"/><path stroke="#fff" stroke-width="1.3" fill="none" d="M2516.5,1051.3 L2530.4,1064.5M2514.2,1053.9 L2530.9,1069.7M2512,1056.5 L2530,1073.7M2509.7,1059.1 L2528.8,1077.3M2507.4,1061.7 L2526.6,1079.9M2505.2,1064.3 L2523.3,1081.5M2502.9,1066.9 L2519.6,1082.8M2500.7,1069.5 L2515.9,1084.1M2498.4,1072.1 L2511.6,1084.7M2496.1,1074.8 L2507.3,1085.3M2493.9,1077.4 L2502.9,1085.9M2491.6,1080 L2497.9,1085.9M2486.9,1060.7 L2504.3,1081.5"/>
</g>
<path d="M1707.4,744.3 L1721.3,739.1 L1740.4,731.4 L1764.7,725.9 L1789.1,722.4 L1803,719.9 L1823.8,724.5M1884.8,716.7 L1893.6,712.3 L1900.5,706.2 L1909.2,697.5 L1919.7,687 L1925.8,681.8 L1931.9,684.4 L1937.1,686.2 L1939.7,692.3 L1944.9,699.2 L1946.7,707.9 L1948.4,713.2 L1946.7,723.6 L1944.9,730.6 L1940.6,734.9 L1939.7,741 L1935.4,744.5 L1930.1,753.2 L1924.9,760.2 L1926.7,768 L1919.7,774.1 L1915.3,784.6 L1910.1,789.8 L1904,793.3 L1903.1,800.3 L1897.9,804.6 L1896.2,812.5 L1894.4,819.4 L1890.9,823.8 L1895.3,821.2 L1899.7,815.1 L1900.5,809 L1909.2,806.4 L1917.1,802.9 L1919.7,799.4 L1926.7,795.1 L1927.5,790.7 L1933.6,788.1 L1938,781.1 L1940.6,777.6 L1944.9,774.1 L1954.5,774.1 L1958.9,770.7 L1957.7,764.6 L1963.2,769.8 L1965.9,772.4 L1965.9,779.4 L1972,774.1 L1979.8,769.8 L1984.1,764.6 L1994.6,762 L2005.1,760.2 L2013.8,756.7 L2019.9,757.6 L2019,760.2 L2015.5,762 L2018.1,768 L2024.2,769.8 L2032.1,769.8 L2032.9,765.4 L2038.2,764.6 L2039,768 L2036.4,770.7 L2046.9,768 L2052.1,764.6 L2059.1,761.1 L2069.5,760.2 L2073,758.5 L2068.6,751.5 L2066,744.5 L2061.7,741 L2059.1,735.8 L2060.8,730.6 L2065.2,723.6 L2073,724.5 L2080,725.4 L2085.2,721.9 L2092.2,721 L2093,716.7 L2099.1,714 L2107.8,715.8 L2116.6,716.7 L2120.9,721.9 L2127,726.2 L2128.7,730.6 L2127,734.9 L2132.2,738.4 L2137.5,737.6 L2141.8,742.8 L2140.9,748 L2135.7,749.8 L2128.7,748.9 L2121.8,752.4 L2128.7,755 L2135.7,758.5 L2144.4,761.1 L2146.2,764.6 L2152.3,765.4 L2161.8,770.7 L2168.8,774.1 L2177.5,775.9 L2184.5,776.8 L2188.9,770.7 L2187.1,762 L2184.5,755 L2181,744.5 L2177.5,735.8 L2175.8,729.7 L2178.7,733.4 L2188.3,737.3 L2202.3,735.2 L2205.7,724.7 L2210.1,716 L2219.7,712.5 L2226.7,710.8 L2223.2,708.2 L2229.3,702.1 L2231.9,693.4 L2244.1,691.6 L2248.4,688.2 L2237.1,681.2 L2231.9,677.7 L2231,668.1 L2226.7,672.5 L2223.2,676 L2219.7,669.9 L2220.6,663.8 L2226.7,660.3 L2228.7,653.3 L2224.9,649 L2217.9,647.2 L2223.2,642.9 L2231.9,641.1 L2242.3,630.7 L2252.8,622 L2263.2,615 L2275.4,609.8 L2279.8,605.4 L2287.6,596.7 L2298.1,589.7 L2307.7,589.2 L2312,591.5 L2311.1,597.6 L2305.9,601 L2309.4,605.4 L2317.2,597.6 L2324.2,594.9 L2330.3,597.6 L2331.2,591.5 L2338.2,587.1 L2351.2,588.5 L2350.3,592.3 L2359.1,587.1 L2365.2,576.7 L2367.8,562.7 L2371.3,550.5 L2373.9,544.4 L2378.2,534.8 L2385.2,526.1 L2395.6,518.3 L2406.1,515.3 L2421.8,517.4 L2428.7,524.4 L2434,527.9 L2439.2,524.4 L2446.2,517.4 L2453.1,519.2 L2452.2,508.5 L2455.6,492.9 L2457.4,480.7 L2464.3,477.2 L2471.3,465.1 L2476.5,454.6 L2474.8,442.5 L2479.3,432 L2483.4,433.8 L2491.1,433.1 L2500.8,423.3 L2512,421.6 L2516.5,409.4 L2510.6,402.5 L2497.3,401.8 L2486.2,407.7 L2483.4,403.2 L2468.5,398.3 L2473,388.6 L2482.7,378.1 L2485.2,366 L2491.1,350.3 L2491.1,336.4 L2500.8,322.5 L2509.5,308.6 L2514.7,298.2 L2528.6,287.7 L2532.1,280.8 L2539.1,273.8 L2553,263.4 L2566.9,246 L2580.8,226.9 L2590.5,221.7 L2599.9,218.2 L2601,204.3 L2608.6,199.1M2685.1,191.1 L2695.5,193.9 L2705.3,191.1 L2702.5,200.8 L2693.8,211.3 L2686.8,219.9 L2687.9,227.9 L2679.9,233.9 L2664.2,236.3 L2657.3,246 L2655.5,254.7 L2660.8,261.7 L2659,272.1 L2650.3,277.3 L2639.9,280.8 L2636.4,287.7 L2643.4,291.2 L2655.5,287.7 L2667.7,291.2 L2678.1,303.4 L2685.1,315.6 L2687.9,324.3 L2683.4,339.9 L2692,339.9 L2702.5,332.9 L2699,327.7 L2712.9,325.3 L2725.1,326 L2739,320.8 L2747.7,315.6 L2761.6,313.1 L2773.8,322.5 L2765.1,339.9 L2761.6,350.3 L2759.8,360.8 L2768.5,378.1 L2777.2,399 L2780.7,416.4 L2791.1,433.8 L2805,454.6 L2815.5,479 L2832.9,496.3 L2810.3,503.3 L2803.3,517.2 L2798.1,534.6 L2803.3,552 L2813.7,574.6 L2792.9,562.4 L2798.1,586.7 L2805,593.7 L2796.3,600.7 L2791.1,614.6 L2796.3,621.5 L2806.8,630.2 L2822.4,642.4 L2827.6,654.9 L2841.5,669.5 L2852,674.8 L2860.7,669.5 L2857.2,660.8 L2865.9,653.9 L2871.1,657.4 L2876.3,667.8 L2886.7,671.3 L2900.7,674.8 L2902.4,671.3 L2911.1,671.3 L2925,674.8 L2926.7,685.2 L2914.6,688.7 L2918,699.1 L2928.5,709.5 L2942.4,718.2 L2956.3,718.2 L2966.7,721.7 L2968.4,733.9 L2961.5,746 L2965,763.4 L2973.7,777.3 L2987.6,786 L3005,790.5 L2994.5,801.7 L2996.3,822.5 L3005,829.5 L3015.4,836.4 L3025.8,846.8 L3034.5,860.8 L3039.7,878.1 L3043.2,899 L3025.8,895.5 L3008.4,885.1 L2991,879.9 L2973.7,876.4 L2952.8,867.7 L2928.5,859 L2907.6,852.1 L2886.7,843.4 L2869.4,832.9 L2852,819 L2838.1,805.1 L2831.1,787.7 L2820.7,773.8 L2812,770.4 L2813.7,759.9 L2817.2,749.5 L2813.7,735.6 L2806.8,718.2 L2799.8,704.3 L2792.9,693.9 L2784.2,676.5 L2777.2,659.1 L2773.8,654.9 L2765.1,642.4 L2759.8,628.5 L2758.1,614.6 L2751.2,602.4 L2744.2,593.7 L2739,590.2 L2723.3,579.8 L2711.2,567.6 L2718.1,550.2 L2714.6,555.5 L2702.5,565.9 L2700.7,585 L2707.7,592 L2725.1,600.7 L2733.8,603.4 L2726.8,610.4 L2730.3,621.5 L2735.5,635.4 L2744.2,654.9 L2744.2,666.1 L2733.8,659.1 L2728.6,664.3 L2719.9,655.6 L2709.4,648.7 L2700.7,643.5 L2704.2,657.4 L2693.8,662.6 L2690.3,683.4 L2685.1,690.4 L2686.8,704.3 L2693.8,713 L2699,725.2 L2706,735.6 L2709.4,753 L2716.4,766.9 L2725.1,780.8 L2730.3,784.3 L2733.8,775.6 L2742.5,772.1 L2747.7,777.3 L2742.5,791.2 L2735.5,799.9 L2730.3,808.6 L2733.8,819 L2726.8,826 L2723.3,839.9 L2714.6,845.1 L2711.2,839.9 L2718.1,826 L2709.4,829.5 L2697.3,832.9 L2692,843.4 L2681.6,850.3 L2671.2,859 L2671.2,867.7 L2678.1,874.7 L2674.7,881.6 L2666,892 L2660.8,899 L2646.8,909.4 L2650.3,919.9 L2643.4,923.3 L2639.9,918.1 L2626,933.8 L2615.6,947.7 L2608.6,958.1 L2603.4,975.5 L2605.1,992.9 L2603.4,1017.2 L2608.6,1034.6 L2612.1,1052 L2610.3,1072.8 L2612.1,1093.7 L2613.1,1100.5 L2615.7,1110.9 L2616.2,1124.8 L2614.8,1140.5 L2613.1,1151 L2610.5,1161.4 L2612.2,1171.9 L2611.4,1184.1 L2607.9,1189.3 L2607.9,1198.9 L2612.2,1202.4 L2621.8,1198.9 L2627,1198.9 L2630.5,1192.8 L2637.5,1189.3 L2641.8,1182.3 L2644.5,1187.6 L2649.7,1192.8 L2654.9,1196.3 L2656.7,1204.1 L2661.9,1206.7 L2665.4,1201.5 L2668.9,1199.8 L2667.1,1192.8 L2666.2,1190.2 L2674.1,1188.4 L2676.7,1185.8 L2675.8,1194.5 L2678.4,1198.9 L2675.8,1205 L2681,1205.9 L2686.3,1198.9 L2688.9,1191 L2691.5,1184.1 L2695,1173.6 L2688.9,1166.7 L2681.4,1162.3 L2684.5,1159.7 L2691.5,1157.9 L2696.7,1152.7 L2699.3,1145.7 L2705.4,1146.6 L2713.3,1144.9 L2717.6,1148.4 L2722.9,1150.1 L2731.6,1149.2 L2740.3,1147.5 L2745.5,1148.4 L2753.3,1145.7 L2758.6,1150.1 L2757.7,1157.9 L2749.9,1160.6 L2748.1,1161.8 L2754.2,1162.8 L2762.1,1161.4 L2768.2,1163.2 L2771.6,1167.5 L2772.5,1173.6 L2775.1,1175.4 L2785.6,1175 L2788.2,1182.3 L2791.7,1184.9 L2792.5,1192.8 L2794.3,1196.3 L2792.5,1199.8 L2796,1203.2 L2798.6,1208.5 L2797.8,1212 L2806.5,1219.8 L2807.4,1225.9 L2810.8,1232.9 L2816.9,1239 L2823.9,1244.2 L2827.4,1247.7 L2831.7,1246.8 L2832.6,1253.8 L2834.4,1258.1 L2841.3,1260.7 L2845.7,1264.2 L2848.3,1271.2 L2850,1277.3 L2857,1281.6 L2859.6,1285.1 L2860.5,1291.2 L2865.7,1299.1 L2870.1,1301.7 L2870.6,1313 L2870.9,1325.2 L2870.9,1339.1 L2874.4,1351.3 L2877.9,1358.3 L2881.5,1381.6 L2888.5,1395.5 L2892,1412.9 L2893.7,1433.8 L2895.4,1461.6 L2897.2,1496.3 L2900.7,1531.1 L2898.9,1552 L2893.7,1572.8 L2888.5,1590.2 L2881.5,1602.4 L2872.8,1612.8 L2865.9,1611.1 L2858.9,1618 L2850.2,1621.5 L2845,1614.6 L2839.8,1607.6 L2836.3,1621.5 L2834.6,1628.5 L2831.1,1621.5 L2825.9,1614.6 L2829.4,1642.4 L2830.1,1653 L2824.9,1659.9 L2824.9,1670.4 L2816.2,1666.9 L2807.5,1660.6 L2812.7,1653 L2819.7,1642.5 L2816.2,1628.6 L2811,1619.9 L2802.3,1607.8 L2791.9,1597.3 L2781.4,1588.7 L2769.3,1581.7 L2771,1573 L2778,1566.1 L2791.9,1557.4 L2795.3,1564.3 L2809.3,1566.1 L2811,1552.2 L2809.3,1541 L2810.3,1532.9 L2805,1522.4 L2806.8,1510.3 L2801.6,1499.8 L2798.1,1485.9 L2792.9,1475.5 L2787.7,1461.6 L2780.7,1447.7 L2779,1437.2 L2782.4,1423.3 L2768.5,1411.2 L2765.1,1406 L2754.6,1407.7 L2745.9,1428.6 L2735.5,1439 L2733.8,1458.1 L2726.8,1465.1 L2712.9,1477.2 L2702.5,1485.9 L2695.5,1480.7 L2685.1,1479 L2683.4,1470.3 L2667.7,1461.6 L2666,1454.6 L2657.3,1459.8 L2643.4,1458.1 L2631.2,1454.6 L2620.8,1459.8 L2608.6,1458.1 L2598.2,1465.1 L2589.5,1470.3 L2577.3,1468.5 L2570.4,1454.6 L2558.2,1447.7 L2553,1439 L2542.5,1435.5 L2533.9,1428.6 L2530.4,1425.1 L2514.7,1412.9 L2504.3,1404.2 L2493.9,1395.5 L2485.2,1392 L2473,1385.1 L2455.6,1385.1 L2445.2,1390.3 L2427.8,1388.6 L2413.9,1393.8 L2400,1404.2 L2380.1,1418.1 L2369.7,1426.8 L2364.5,1435.5 L2359.3,1454.6 L2366.2,1459.8 L2373.2,1455.3 L2381.9,1461.6 L2386.4,1475.5 L2383.6,1482.4 L2379.4,1496.3 L2378.4,1517.2 L2380.1,1531.1 L2376.6,1543.3 L2383.6,1550.2 L2386.4,1558.9 L2380.1,1565.9 L2373.2,1569.4 L2367.9,1581.5 L2362.7,1593.7 L2345.3,1596.5 L2334.9,1595.4 L2328,1592 L2328,1609.3" fill="none" stroke="#000" stroke-width="1" shape-rendering="crispEdges"/>
<path d="M2465.4,426.8 L2474.8,414.6 L2483.4,418.1 L2481.7,426.8 L2473,433.8ZM1939.7,754.1 L1944.1,746.3 L1954.5,744.5 L1957.7,747.1 L1957.1,754.1 L1954.5,759.3 L1949.3,759.3 L1944.1,756.7ZM1926.7,778.5 L1929.3,770.7 L1937.1,769.8 L1940.6,765.4 L1944.1,764.6 L1942.3,768.9 L1939.7,773.3 L1940.6,777.6 L1933.6,779.4 L1929.3,782ZM2741.1,1094.4 L2748.1,1096.1 L2756,1097 L2759.4,1105.7 L2768.2,1108.3 L2776.9,1112.6 L2794.3,1121.4 L2804.7,1131.8 L2810,1137 L2810,1140.5 L2823.9,1151.8 L2832.6,1156.2 L2841.3,1160.6 L2851.8,1164.9 L2864,1171.9 L2876.2,1178.9 L2886.6,1184.1 L2898.8,1187.6 L2911,1194.5 L2924.9,1203.2 L2937.1,1203.2 L2945.9,1206.7 L2935.4,1204.1 L2918,1205 L2907.5,1210.2 L2899.7,1215.4 L2901.4,1227.6 L2907.5,1234.6 L2914.5,1246.8 L2921.5,1259 L2926.7,1269.4 L2935.4,1274.7 L2945.9,1279 L2956.3,1279 L2968.5,1283.4 L2980,1290.3 L2991,1287.7 L2998,1294.7 L3003.2,1303.4 L2991,1294.7 L2980.6,1293 L2966.7,1301.7 L2968.4,1315.6 L2975.4,1326 L2980.6,1335.7 L2970.2,1332.9 L2966.8,1330.4 L2956.3,1323.4 L2951.1,1314.7 L2945.9,1304.3 L2937.1,1299.1 L2930.2,1293.8 L2924.9,1286.9 L2921.5,1276.4 L2912.8,1268.6 L2902.3,1264.2 L2891.8,1261.6 L2890.1,1253.8 L2883.1,1243.3 L2876.2,1234.6 L2869.2,1227.6 L2862.2,1220.7 L2853.5,1212 L2846.6,1209.3 L2841.3,1205 L2834.4,1196.3 L2831.7,1190.2 L2823.9,1185.8 L2810,1182.3 L2797.8,1178.9 L2790.8,1171.9 L2783.8,1163.2 L2776.9,1154.5 L2769.9,1145.7 L2762.9,1140.5 L2757.7,1136.2 L2760.3,1127.5 L2767.3,1125.7 L2766.4,1119.6 L2761.2,1116.1 L2759.4,1107.4 L2752.5,1106.6 L2742,1103.9 L2742.9,1098.7ZM2639.2,1153.6 L2654,1149.2 L2656.7,1166.7 L2648.8,1165.8 L2644.5,1171 L2641.8,1164.9 L2641.8,1158.8ZM2631.4,1170.1 L2635.7,1162.3 L2638.4,1168.4 L2635.7,1171 L2634,1175.4 L2631.7,1176.2ZM2658.4,1187.6 L2661,1180.6 L2665.4,1179.7 L2663.6,1169.3 L2665.4,1170.1 L2665.7,1190.2 L2663.6,1192.8 L2659.3,1191.9ZM2824.2,610.4 L2836.3,609.7 L2838.8,624.3 L2843.3,640 L2834.6,633 L2826.9,626.1ZM2973.7,633 L2978.9,627.8 L2991,627.1 L3003.2,624.3 L2999.7,628.5 L2987.6,633 L2977.1,636.5ZM3003.2,605.9 L3008.4,600.7 L3020.6,597.2 L3011.9,604.8ZM3043.2,907.7 L3050.2,911.2 L3049.5,918.1 L3055.4,926.8 L3058.8,939 L3057.1,949.4 L3050.8,945.9 L3049.5,933.8 L3043.2,921.6 L3046,914.6ZM3030,925.8 L3035.5,924.4 L3036.2,928.9 L3031,929.2ZM3066.8,966.8 L3072.8,970.3 L3078,975.5 L3076.2,979 L3071,977.2ZM3078,982.8 L3080.7,982.8 L3080.7,985.9 L3078,985.9ZM3082.1,996.3 L3085.6,998.1 L3087,1005 L3084.2,1004.3ZM3114.5,1078.1 L3116.9,1079.1 L3122.5,1093.7 L3120.4,1098.9 L3117.6,1097.2ZM3117.9,1143.5 L3121.4,1141 L3123.9,1155.6 L3124.9,1178.2 L3121.4,1174.8 L3118.3,1162.6ZM3112.7,1199.1 L3119.7,1197.3 L3121.4,1202.6 L3116.9,1218.2 L3116.2,1239.1 L3119,1259.9 L3117.9,1269.7 L3114.5,1266.9 L3111,1253 L3112,1235.6 L3109.3,1225.2 L3104,1221.7 L3111,1218.2ZM3101.6,1283.6 L3109.3,1280.8 L3112,1275.6 L3111,1294.7 L3112.7,1312.1 L3116.9,1319.7 L3109.3,1318.3 L3105.8,1305.1ZM3132.9,1284.3 L3137.1,1283.2 L3137.1,1292.3 L3133.6,1293.3ZM2182.2,540.1 L2191.8,537.5 L2193.6,533.1 L2199.7,529.6 L2205.7,532.2 L2207.5,526.1 L2218.8,520.9 L2219.7,516.6 L2224.9,522.6 L2224,533.1 L2219.7,539.2 L2214.5,543.6 L2205.7,546.2 L2198.8,548.8 L2191.8,551.4 L2186.6,547ZM2195.6,618.5 L2200.5,611.5 L2209.2,609.4 L2221.4,610.1 L2228.4,616.7 L2219.7,623.7 L2209.2,629.8 L2202.3,632.4 L2200.5,639.4 L2197,641.1 L2196.7,638.5 L2200.5,634.1 L2196.2,625.4ZM2179.6,611.5 L2184.8,610.1 L2190.9,615 L2190.9,622 L2184.8,622 L2180.5,618.5ZM2144.4,647.3 L2153.1,647 L2159.8,650.5 L2158.4,652.5 L2151.4,650.8ZM2383.4,1651.2 L2400.7,1643.2 L2412.9,1649.5 L2423.3,1651.2 L2433.8,1658.2 L2447.7,1661.7 L2456.4,1670.4 L2457.4,1679.1 L2445.9,1684.3 L2433.8,1686 L2419.9,1691.2 L2402.5,1677.3 L2386.8,1665.1Z" fill="none" stroke="#000" stroke-width="1" shape-rendering="crispEdges"/>
<path d="M277.2,277.2 L279.3,266.1 L290.4,257.4 L304.3,255.6 L314.7,250.4 L325.2,255.6 L339.1,246.9 L351.2,243.5 L363.4,250.4 L380.8,244.5 L386,252.2 L387.7,262.6 L401.7,269.5 L408.6,262.6 L415.6,269.5 L429.5,273 L443.4,273 L450.3,268.8 L457.3,271.3 L459,288.7 L448.6,293.9 L446.8,302.6 L464.2,304.3 L467,316.5 L459,325.2 L454.8,333.2M217.4,333.9 L219.1,349.5 L207.6,363.4 L220.2,370.4 L214.6,386 L226.1,408.6 L231.3,431.2 L224.3,439.9 L234.8,438.2 L248.7,429.5 L259.1,443.4 L273,455.5 L285.2,450.3 L299.1,422.5 L314.7,412.1 L333.9,403.4 L342.5,422.5 L353,432.9 L363.4,450.3 L370.4,453.8 L365.1,466 L380.8,467.7 L394.7,459 L408.6,455.5 L429.5,448.6 L443.4,438.2 L457.3,439.9 L474.7,434.7 L488.6,422.5M467,316.5 L474.7,307.8 L483.4,304.3 L488.6,311.3 L499,302.6 L506,300.8 L502.5,293.9 L512.9,297.3 L528.6,300.8 L530.3,289.7 L547.7,287.6 L572,287.6 L589.4,293.9 L592.9,307.8 L599.8,318.2 L612,328.6 L617.2,335.6 L603.3,333.9 L591.1,331.4 L589.4,316.5 L584.2,304.3 L575.5,307.8 L577.2,332.1 L568.5,337.3 L570.3,346 L561.6,344.3 L558.1,337.3 L544.2,340.8 L533.8,333.9 L526.8,321.7 L516.4,325.2 L506,326.9 L504.2,318.2 L506,304.3M492,332.1 L488.6,346 L495.5,359.9 L502.5,356.5 L509.4,346 L519.9,339.1 L530.3,335.6 L537.2,346 L526.8,353 L512.9,349.5 L506,363.4 L516.4,372.1 L523.3,359.9 L537.2,354.7 L551.2,356.5 L552.9,370.4 L559.8,377.3 L547.7,384.3 L533.8,379.1 L525.1,384.3 L516.4,389.5 L512.9,377.3 L502.5,375.6M471.2,354.7 L478.1,363.4 L474.7,370.4 L485.1,377.3 L490.3,389.5 L497.3,391.2 L495.5,408.6 L506,405.1 L507.7,412.1 L495.5,417.3 L488.6,422.5 L476.4,426 L472.9,439.9 L479.9,441.6 L483.4,432.9 L488.6,422.5M533.8,394.7 L544.2,396.4 L565.1,384.3 L575.5,389.5 L582.4,387.7 L592.9,377.3 L606.8,366.9 L627.6,356.5 L641.5,351.2 L669.4,340.8 L665.9,349.5 L683.3,351.2 L700.7,349.5 L707.6,359.9 L728.5,361.7 L744.1,353 L749.3,359.9 L759.8,361.7 L770.2,347.8 L791,346 L808.4,340.8 L829.3,337.3 L846.7,340.8 L858.8,349.5 L860.6,366.9 L874.5,366.9 L879.7,359.9 L895.3,363.4 L909.3,366.9 L930.1,365.1 L940.5,363.4 L947.5,372.1 L964.9,377.3 L978.8,382.5 L1000,380.8M533.8,394.7 L535.5,405.1 L539,412.1 L537.2,420.8 L544.2,424.3 L551.2,419.7 L561.6,422.5 L568.5,429.5 L572,443.4 L573.8,452.1 L582.4,455.5 L599.8,457.3 L610.3,459 L620.7,457.3 L638.1,459 L643.3,452.1 L652,457.3 L662.4,455.5 L667.6,441.6 L671.1,453.8 L676.3,459 L686.7,467.7 L693.7,466 L685,471.2 L697.2,476.4 L704.1,481.6 L707.6,474.7 L721.5,486.8 L728.5,481.6 L737.2,469.4 L745.8,459 L747.6,448.6 L756.3,441.6 L770.2,439.9 L784.1,439.9 L798,438.2 L815.4,432.9 L818.9,439.9 L829.3,441.6 L834.5,434.7 L831,443.4 L846.7,450.3 L860.6,459 L867.5,467.7 L878,474.7 L895.3,478.1 L902.3,481.6 L912.7,471.2 L923.2,474.7 L933.6,469.4 L947.5,478.1 L957.9,481.6 L961.4,499 L964.9,509.4 L961.4,519.9 L954.5,526.8 L940.5,532 L935.3,533.8 L937.1,525.1 L930.1,523.3 L916.2,521.6 L895.3,516.4 L884.9,509.4 L874.5,507.7 L860.6,502.5 L857.1,488.6 L850.2,495.5 L836.2,493.8 L822.3,499 L811.9,504.2 L798,511.2 L784.1,514.6 L770.2,517.1 L763.2,521.6 L759.8,530.3 L756.3,544.2 L747.6,554.6 L752.8,565.1 L756.3,575.5 L763.2,582.4 L773.7,592.9 L780.6,603.3 L796.3,612 L791,617.2 L798,627.6 L803.2,634.6 L818.9,639.8 L843.2,646.8 L867.5,652 L891.9,657.2 L911,657.2 L919.7,641.5 L924.9,622.4 L937.1,622.4 L947.5,618.9 L951,606.8 L963.1,603.3 L973.6,594.6 L985.7,591.1 L1000,587.7M645,231.3 L649.3,234.9 L653.8,236.4 L658.9,233 L665.8,231.4 L665.9,224.3 L670.5,229.5 L674.5,227.6 L678.8,228.7 L682.4,221.4 L686.7,222.6 L691.2,224 L695.9,227.3 L700.1,224.6 L704.1,220.9 L709,225.6 L712.7,219.1 L717.3,221.4 L721.5,219.1 L725.9,218.6 L730.5,220.3 L734.9,220 L738.9,216.7 L743.6,216.1 L747.6,218.7 L751.9,220.2 L756.3,220.9 L763.2,224.2 L766.7,217.4 L768.7,223.3 L775.1,221.5 L778.9,224.3 L778.2,230.9 L785.3,232 L787.6,236.5 L787.9,241.5 L793.4,242.1 L796.8,244.5 L798,248.7 L797.7,256 L805.1,256.7 L808.4,260.8 L811.9,262.9 L812.2,270.1 L816.2,271.6 L822.3,269.5 L826.8,271.7 L829.5,278.4 L836.2,274.8 L837.8,280.6 L843.2,283.4 L837.1,283.5 L835.2,289.4 L831,292.1 L830,298.9 L834.3,300.4 L839.7,300.8 L842.9,307.5 L847.7,308.1 L853.6,304.3 L858,307.1 L862.4,309.9 L867.5,311.3 L872.3,311.2 L877.2,311.5 L882,311.3 L886.7,313 L888.8,317.6 L891.9,321.7 L893.6,326.6 L899.9,325.5 L900.2,332.3 L905.8,332.1 L910.1,333.4 L914.4,333.6 L918.4,338 L923.2,333.9 L928.7,334.9 L933.6,332.1 L936.6,336 L939.2,340.4 L944,342.5 L947.7,347.3 L953.6,343.5 L957.9,346 L959.9,353.5 L967.9,349.2 L971.8,353 L975,358.5 L979.4,361 L985.7,358.2 L990.7,357.1 L994.7,363.6 L1000,359.9M622.4,262.6 L625.9,252.2 L634.6,238.2 L645,231.3M622.4,262.6 L624.2,276.5 L634.6,288.7 L648.5,299.1 L662.4,311.3 L667.6,311.3 L664.1,319.9 L676.3,326.9 L690.2,323.4 L698.9,328.6 L676.3,332.1 L669.4,340.8M655.5,240 L662.4,252.2M674.6,226.1 L683.3,245.2M697.2,231.3 L719.8,257.4M738.9,220.9 L742.4,248.7M742.4,248.7 L752.8,266.1M766.7,220.9 L768.4,252.2M780.6,234.8 L784.1,262.6M801.5,255.6 L805,283.4M825.8,276.5 L822.3,286.9M829.3,304.3 L853.6,325.2M867.5,314.7 L881.4,332.1M898.8,333.9 L905.8,342.5M930.1,335.6 L944,354.7M975.3,356.5 L982.3,372.1M667.6,227.8 L693.7,234.8M707.6,224.3 L725,233M749.3,224.3 L756.3,238.2M791,245.2 L811.9,269.5M846.7,307.8 L843.2,318.2M697.9,432.9 L702.4,443.4 L698.9,457.3 L704.1,467.7 L702.4,481.6M704.1,459 L716.3,459M481.6,432.9 L488.6,443.4 L499,464.2 L506,474.7 L516.4,479.9 L523.3,490.3 L530.3,500.7 L535.5,516.4 L528.6,523.3 L519.9,528.6 L519.9,542.5 L528.6,551.2 L539,554.6 L547.7,551.2 L551.2,561.6 L561.6,566.8 L582.4,567.8 L596.3,563.3 L610.3,556.4 L624.2,554.6 L641.5,558.1 L655.5,558.1 L667.6,573.8 L658.9,579 L652,592.9 L645,599.8 L646.8,608.5 L658.9,615.5 L672.8,610.3 L686.7,606.8 L700.7,605 L693.7,592.9 L700.7,582.4 L711.1,580.7 L718,573.8 L725,574.8 L737.2,582.4 L745.8,596.3 L754.5,606.8 L758,620.7 L759.8,638.1 L763.2,655.5M519.9,542.5 L530.3,558.1 L532,575.5 L537.2,596.3 L544.2,617.2M528.6,551.2 L540.7,561.6 L539,552.9M551.2,561.6 L554.6,579 L570.3,573.8 L582.4,567.8M370.4,474.7 L365.1,481.6 L366.9,495.5 L354.7,507.7 L346,516.4 L359.9,521.6 L358.2,542.5 L347.8,547.7 L351.2,561.6 L342.5,575.5 L332.1,582.4 L340.8,592.9 L328.6,605 L339.1,613.7 L342.5,627.6 L349.5,641.5 L351.2,655.5 L344.3,665.9 L346,685M304.3,698.9 L311.3,679.8 L319.9,672.8 L344.3,676.3 L346,685 L363.4,673.5 L384.3,679.8 L405.1,693.7 L422.5,692 L436.4,676.3 L448.6,669.4 L467.7,665.9 L469.4,652 L478.1,653.7 L492,663.1 L506,655.5 L523.3,643.3 L533.8,638.8 L544.2,632.9 L545.9,617.2M544.2,617.2 L554.6,613.7 L565.1,612 L568.5,599.8 L565.1,589.4 L568.5,575.5 L570.3,573.8M533.8,638.8 L539,655.5 L547.7,665.9 L561.6,674.6 L558.1,683.3 L565.1,685 L563.3,678.1 L579,678.1 L592.9,681.5 L606.8,689.5 L608.5,683.3 L620.7,682.6 L631.1,688.5 L632.9,697.2 L652,704.8 L672.8,690.2 L672.8,683.3 L690.2,681.5 L693.7,667.6 L707.6,671.1 L721.5,660.7 L738.9,652 L752.8,655.5 L763.2,655.5 L777.1,650.2 L787.6,662.4 L796.3,665.9 L796.3,683.3 L803.2,681.5 L805,671.1 L798,655.5 L801.5,646.8 L811.9,645 L803.2,634.6M596.3,563.3 L610.3,573.8 L617.2,582.4 L618.9,599.8 L624.2,612 L625.9,631.1 L634.6,636.3 L629.4,648.5 L625.9,667.6 L620.7,674.6 L620.7,682.6M686.7,606.8 L697.2,622.4 L693.7,638.1 L686.7,652 L692,660.7 L693.7,667.6M304.3,698.9 L313,704.1 L311.3,721.5 L318.2,742.4 L313,754.9M448.6,669.4 L453.8,681.5 L466,686.7 L474.7,705.9 L479.9,728.5 L483.4,754.9M652,704.8 L648.5,714.6 L653.7,721.5 L653.7,735.4 L648.5,740.6 L658.9,754.9M777.1,599.8 L784.1,608.5 L791,610.3M1000.1,380.8 L1005.6,380.8 L1014.3,389.5 L1012.6,396.4 L1033.4,396.4 L1035.2,408.6 L1033.4,420.8 L1047.3,420.8 L1059.5,419 L1063,426 L1071.7,427.7 L1073.4,432.9 L1061.3,445.1 L1057.1,448.6 L1057.8,460.8 L1066.5,466 L1064.7,474.7 L1063,481.6 L1071.7,483.4 L1080.4,486.8 L1092.5,483.4 L1106.5,480.9 L1116.9,485.1 L1120.4,492 L1127.3,499 L1139.5,495.5 L1158.6,495.5 L1159.6,506 L1156.9,519.9 L1151.7,528.6 L1137.7,521.6 L1134.3,506 L1130.8,505.3 L1130.8,519.9 L1132.5,533.8 L1134.3,547.7 L1144.7,545.9 L1143,561.6 L1136,561.6 L1134.3,573.8 L1139.5,582.4 L1143,594.6 L1144.7,608.5 L1143,627.6 L1139.5,645 L1137.7,665.9 L1139.5,674.6 L1136,690.2 L1123.8,700.7 L1120.4,707.6 L1108.2,710.4 L1092.5,711.1 L1078.6,705.9 L1068.2,697.2 L1061.3,683.3 L1061.3,669.4 L1054.3,652 L1052.6,634.6 L1050.8,617.2 L1056,599.8 L1052.6,591.1M950,339.1 L953.9,343.5 L958.8,346.6 L963.9,349.5 L960.4,344.3 L965.3,346.8 L967.9,352.9 L974.3,353 L976.6,358.6 L975.2,364.9 L977.8,370.4 L984.2,367.1 L984.8,359.9 L990.4,362.8 L995.2,366.9 L999.3,362.5 L1000.4,356.5 L1001.6,362.2 L1007,365.2 L1009.1,370.4 L1006.6,375.4 L1005.6,380.8 L1012,377.9 L1015.7,372.3 L1019.5,366.9 L1019.8,373.3 L1025.1,377.1 L1027.3,382.5 L1030,387.7 L1026.8,381 L1024.8,373.8 L1029.7,376.4 L1034.4,379.6 L1040.4,377.3 L1040.4,383.1 L1043.9,387.7 L1049.6,384.8 L1051.5,378.9 L1054.3,373.8 L1057.7,378.5 L1063.9,377.9 L1068.2,380.8 L1067,386.8 L1064.2,392.6 L1063,398.7 L1064.7,405.1 L1069,401.4 L1071.1,395.9 L1075.3,392.2 L1078.6,387.7 L1083.9,389.3 L1089,391.4 L1093.3,395.8 L1099.5,394.7 L1096.2,399.4 L1089.8,401.9 L1089.1,408.6 L1083.3,406.1 L1078.8,411.3 L1073.3,410.5 L1068.2,412.1 L1073.6,414.1 L1079.5,412.4 L1084.8,415.2 L1090,418.4 L1096,415.6 L1103,410.3 L1101.1,415.1 L1096.4,418.4 L1096.2,424.1 L1091.6,427.5 L1090.8,432.9 L1097.1,432.1 L1098.8,425.9 L1103,422.5 L1106.3,426.6 L1108.3,431.4 L1109.9,436.4 L1105.1,440.7 L1103,446.8 L1107.9,444 L1113.2,442.6 L1119,442.9 L1123.8,439.9 L1124.3,447.1 L1130.8,450.3 L1137,450.4 L1143,448.6 L1145.7,454.3 L1148.2,460.2 L1153.4,464.2 L1147.6,464.1 L1142.4,460.7 L1136.4,461.9 L1130.8,460.8 L1124.5,460.3 L1118.3,459.9 L1113.4,464.9 L1119.6,465.1 L1125.2,468.8 L1131.3,470.2 L1137.7,469.4 L1142.6,471.9 L1146.9,475.4 L1151.7,478.1 L1146.5,474.1 L1141.2,474.1 L1136,478.7 L1130.8,478.1 L1136.9,483.1 L1144.7,483.4 L1149.8,488.2 L1156.3,485.7 L1162.1,486.8 L1158.6,495.5M1057.1,427.7 L1050.8,439.9 L1047.3,457.3 L1038.7,469.4 L1026.5,474.7 L1016.1,478.1 L1002.2,485.1 L984.8,490.3 L974.3,495.5 L963.9,506M1123.8,499 L1120.4,512.9 L1118.6,519.9 L1103,523.3 L1090.8,521.6 L1078.6,526.8 L1069.9,532 L1068.2,544.2 L1061.3,552.9 L1054.3,559.8 L1040.4,558.1 L1024.8,559.8 L1012.6,572 L1002.2,582.4 L1000.1,587.7M1052.6,591.1 L1054.3,599.8 L1045.6,613.7 L1036.9,624.2 L1038.7,638.1 L1033.4,652 L1028.2,655.5 L1012.6,655.5 L1002.2,667.6 L986.5,676.3 L988.2,693.7 L984.8,707.6 L986.5,721.5 L996.9,730.2 L1005.6,726.7 L1009.1,718 L1003.9,712.8 L1010.8,693.7 L1023,692 L1029.3,697.2 L1026.5,714.6 L1021.3,717.3 L1029.3,721.5 L1031.7,738.9 L1038.7,751.1 L1047.3,742.4 L1054.3,728.5 L1061.3,720.8 L1078.6,723.3 L1092.5,728.5 L1113.4,730.2 L1119.7,742.4 L1116.9,754.9M1181.2,712.8 L1182.9,693.7 L1186.4,693.7 L1188.2,707.6M1362,754.9 L1363.7,735.4 L1370.7,714.6 L1381.1,700.7 L1398.5,693.7 L1415.9,686.7 L1429.8,681.5 L1436.7,669.4 L1450.7,664.1 L1464.6,665.9 L1478.5,660.7 L1499.3,655.5 L1520.2,655.5 L1541,657.2 L1561.9,655.5 L1574.1,646.8 L1575.8,636.3 L1568.9,630.4 L1555,631.1 L1549.7,637.4 L1537.6,636.3 L1520.2,634.6 L1509.8,625.9 L1499.3,624.9 L1485.4,625.9 L1471.5,631.1 L1457.6,632.9 L1447.2,638.1 L1436.7,648.5 L1422.8,650.2 L1402,653.7 L1400.2,662.4 L1410.7,664.1 L1395,669.4 L1381.1,671.1 L1367.2,674.6 L1358.5,681.5 L1349.8,688.5 L1342.9,685 L1334.2,690.2 L1330.7,704.1 L1335.9,714.6 L1330.7,728.5 L1334.2,742.4 L1342.9,754.9M1384.6,700.7 L1391.5,695.4M1402,692 L1408.9,678.1M1422.8,685 L1429.8,669.4M1436.7,669.4 L1443.7,678.1M1454.1,664.1 L1455.9,658.9M1415.9,655.5 L1426.3,658.9M1433.3,650.2 L1443.7,641.5M1332.4,711.1 L1346.3,718M1332.4,721.5 L1341.1,730.2M313,753.9 L323.4,760.8 L333.9,780 L349.5,786.9 L359.9,800.8 L368.6,813 L363.4,828.6 L367.6,842.5 L361.7,858.2 L347.8,863.4 L344.3,873.8 L332.1,884.3 L330.4,898.2 L318.2,906.9 L313,894.7 L311.3,880.8 L304.3,877.3 L290.4,882.5 L276.5,879.1 L262.6,873.8 L257.4,880.8 L259.1,894.7 L271.3,905.1 L274.8,913.8 L269.5,916.3 L283.4,908.6 L290.4,906.9 L295.6,917.3 L314.7,922.5 L332.1,922.5 L340.8,932.9 L342.5,939.9 L335.6,950.3 L337.3,960.8 L335.6,969.4 L342.5,981.6 L349.5,992 L351.2,999 L346,1006 L311.3,986.8 L313,995.5 L315.4,1012.9 L311.3,1021.6 L293.9,1026.8 L292.1,1037.2 L297.3,1045.9 L314.7,1049.4 L326.9,1063.3 L339.1,1066.8 L347.8,1073.8 L346,1082.4 L353,1089.4 L363.4,1089.4 L370.4,1096.3 L373.8,1106.8 L384.3,1117.2 L394.7,1108.5 L408.6,1109.6 L420.8,1113.7 L422.5,1122.4 L426,1112 L427.7,1096.3 L431.2,1091.1 L439.9,1103.3 L450.3,1105 L466,1117.2 L474.7,1112 L464.2,1099.8 L455.5,1091.1 L443.4,1077.2 L422.5,1065.1 L408.6,1052.9 L394.7,1044.2 L380.8,1039 L370.4,1035.5 L368.6,1026.8M340.8,939.9 L353,946.8 L368.6,932.9 L359.9,943.4 L349.5,950.3 L353,962.5 L358.2,966M351.2,999 L356.5,1002.5 L359.9,1012.9 L365.1,1019.9 L361.7,1030.3 L368.6,1026.8 L356.5,1047.7 L347.8,1059.8M483.4,752.2 L478.1,766.1 L486.8,774.8 L490.3,788.7 L499,795.6M504.2,832.1 L512.9,826.9 L526.8,827.9 L535.5,833.9 L542.5,846 L544.2,842.5 L561.6,832.1 L568.5,821.7 L579,821.7 L580.7,833.9 L589.4,840.8 L599.8,842.5 L606.8,830.4 L603.3,818.2 L612,813 L613.7,800.8 L622.4,790.4 L629.4,780 L645,774.8 L655.5,767.8 L658.9,753.9M542.5,846 L544.2,854.7 L554.6,856.5 L561.6,868.6 L572,877.3 L574.8,887.7 L565.1,898.2 L561.6,910.3 L554.6,905.1 L544.2,917.3 L545.9,929.5 L549.4,936.4 L544.2,946.8 L533.8,953.8 L528.6,962.5 L535.5,971.2 L537.2,985.1 L547.7,993.8 L554.6,999 L549.4,1011.2 L545.9,1025.1 L554.6,1028.6 L556.4,1045.9 L561.6,1054.6 L559.8,1068.5 L565.1,1075.5 L558.1,1084.2 L544.2,1085.9 L539,1082.4 L537.2,1091.1 L526.8,1089.4 L521.6,1103.3 L502.5,1108.5 L495.5,1096.3 L488.6,1087.7 L474.7,1082.4 L460.8,1085.9 L455.5,1089.4M363.4,1089.4 L361.7,1099.8 L365.1,1113.7 L358.2,1127.6 L365.1,1134.6 L359.9,1152 L365.1,1169.4 L363.4,1186.7 L359.9,1200.7 L355.8,1218 L366.9,1221.5 L373.8,1237.2 L378,1254.9M985.7,703.5 L985,715.6 L991,727.8 L1000,730.6M1116.5,755.6 L1111.3,766.1 L1121.7,755.6 L1139.1,748.7 L1147.8,738.2 L1146,731.3 L1156.5,726.1 L1170.4,719.1 L1180.8,712.2 L1181.5,700M1187.7,700 L1189.5,707 L1198.2,715.6 L1201,726.1 L1196.4,738.2 L1189.5,748.7 L1180.8,738.2 L1172.1,736.5 L1161.7,740 L1160.6,753.9 L1156.5,764.3 L1159.9,771.3 L1172.1,778.2 L1180.8,774.8 L1193,766.1 L1201.7,769.5 L1207.9,776.5 L1210.3,766.1 L1212.1,773 L1226,774.8 L1243.4,774.8 L1257.3,782.7 L1255.5,790.4 L1266,783.4 L1285.1,786.2 L1295.5,792.1 L1285.1,788.7 L1278.1,800.8 L1264.2,800.8 L1274.7,807.8 L1278.1,816.5 L1288.6,811.3 L1302.5,814.7 L1311.2,825.2 L1319.9,821.7 L1333.8,825.2 L1342.5,828.6 L1340.7,839.1 L1332,839.1 L1329.6,847.8 L1335.5,853 L1342.5,849.5 L1344.2,842.5 L1354.6,846 L1363.3,839.1 L1365.1,825.2 L1367.8,816.5 L1361.6,811.3 L1358.8,797.3 L1362.3,786.2 L1373.8,784.1 L1375.5,814.7 L1373.8,819.9 L1379,816.5 L1389.4,828.6 L1401.6,839.1 L1410.3,853 L1412,863.4 L1417.2,873.8 L1425.9,887.7 L1431.1,901.7 L1432.9,917.3 L1443.3,908.6 L1455.5,898.2 L1446.8,893 L1448.5,877.3 L1452,870.4 L1445,863.4 L1438.1,870.4 L1438.8,861.7 L1446.8,851.2 L1453.7,847.8 L1462.4,828.6 L1457.2,821.7 L1462.4,814.7 L1469.4,809.5 L1486.7,804.3 L1500.7,790.4 L1511.1,776.5 L1519.8,767.8 L1528.5,764.3 L1531.9,755.6 L1544.1,755.6 L1545.8,769.5 L1535.4,771.3 L1521.5,771.3 L1540.6,781.7 L1549.3,788.7 L1544.1,800.8 L1535.4,814.7 L1528.5,825.2 L1521.5,830.4 L1525,842.5 L1521.5,859.9 L1512.8,870.4 L1507.6,887.7 L1502.4,901.7 L1495.4,910.3 L1497.2,922.5 L1502.4,936.4 L1490.2,945.1 L1488.5,955.5 L1476.3,960.8 L1465.9,971.2 L1452,978.1 L1450.2,986.8 L1436.3,987.9 L1431.1,981.6 L1431.1,974.7 L1417.2,967.7 L1417.2,978.1 L1425.9,990.3 L1438.1,995.5 L1448.5,1004.2 L1455.5,1002.5 L1458.9,995.5 L1469.4,993.8 L1485,990.3 L1490.2,978.1 L1504.1,971.2 L1509.3,962.5 L1511.1,950.3 L1509.3,943.4 L1514.6,932.9 L1528.5,931.2 L1540.6,931.2 L1547.6,946.8 L1545.8,959 L1540.6,974.7 L1537.2,978.1 L1545.8,986.8 L1561.5,991.4 L1554.5,988.6 L1547.6,981.6 L1544.1,974.7 L1549.3,964.2 L1558,962.5 L1556.3,950.3 L1558,939.9 L1549.3,927.7 L1538.9,919.7 L1521.5,920.8 L1512.8,915.6 L1512.8,908.6 L1517.3,901.7 L1518,889.5 L1525,880.8 L1537.2,870.4 L1538.2,856.5 L1535.4,837.3 L1544.1,823.4 L1563.2,819.9 L1570.2,811.3 L1575.4,797.3 L1570.2,786.9 L1566.7,783.4 L1575.4,786.2 L1577.1,800.8 L1568.4,819.9 L1561.5,833.9 L1558,844.3 L1573.7,858.2 L1584.1,863.4 L1589.3,872.1 L1596.3,872.1 L1587.6,858.2 L1577.1,849.5 L1571.9,839.1 L1573.7,830.4 L1587.6,828.6 L1591,837.3 L1596.3,833.9 L1594.5,821.7 L1587.6,819.9 L1596.3,811.3 L1603.2,814.7 L1603.2,821.7 L1615.4,825.2 L1624.1,839.1 L1629.3,853 L1639.7,856.5 L1648.4,858.2 L1647.4,870.4 L1636.2,872.1 L1632.8,884.3 L1627.6,901.7 L1625.8,910.3 L1636.2,915.6 L1644.9,905.1 L1646.7,880.8 L1651.9,866.9 L1650.2,853 L1641.5,842.5 L1641.5,835.6 L1631,830.4 L1629.3,821.7 L1632.8,804.3 L1631,786.9 L1650.2,786.9 L1671,790.4 L1684.9,792.1 L1695.3,786.9 L1705.8,783.4 L1707.5,790.4 L1688.4,800.8 L1690.1,811.3 L1695.3,819.9M1344.2,755.6 L1354.6,766.1 L1365.1,766.1 L1362.3,754.9M1330.3,710.4 L1347.7,719.1M1328.6,724.3 L1342.5,729.6M1337.2,745.2 L1351.2,759.1M1681.4,764.3 L1691.9,760.8 L1698.8,752.2 L1709.3,748.7M1693.6,769.5 L1704,773 L1705.8,783.4M1632.8,884.3 L1641.5,887.7 L1644.9,905.1M378,1254.9 L380.8,1266.1 L394.7,1283.4 L399.9,1297.3 L399.9,1311.3 L405.1,1328.6 L399.9,1332.1 L408.6,1340.8 L420.8,1346 L424.3,1354.7 L429.5,1363.4 L431.2,1373.8 L435.7,1380.8 L424.3,1386 L426,1401.7 L432.9,1415.6 L435.7,1422.5 L433.6,1439.9 L429.5,1453.8 L438.2,1467.7 L443.4,1464.9 L460.8,1468.4 L474.7,1466 L472.9,1459 L478.1,1445.1 L481.6,1422.5 L486.8,1415.6 L487.9,1405.1 L499,1399.9 L506,1391.2 L514.6,1386 L518.1,1373.8 L517.1,1359.9 L514.6,1351.2 L523.3,1344.3 L533.8,1346.7 L547.7,1342.5 L565.1,1337.3 L568.5,1329.3 L570.3,1337.3 L573.8,1333.9 L582.4,1344.3 L592.9,1347.8 L592.9,1358.2 L596.3,1346 L599.1,1353 L603.3,1345.3 L612,1350.2 L620.7,1351.2 L618.9,1335.6 L615.5,1328.6 L620.7,1324.5 L625.9,1333.9 L631.1,1331.4 L636.3,1314.7 L640.9,1300.8 L642.2,1286.9 L636.3,1280 L631.1,1273 L626.9,1271.3 L627.6,1264.3 L638.8,1254.9 L632.9,1238.2 L652,1230.6 L665.2,1229.6 L665.9,1219.1 L683.3,1207.6 L693.7,1209.7 L700.7,1203.5 L711.8,1203.5 L712.8,1217.4 L706.9,1233 L711.1,1238.9 L721.5,1241 L728.5,1226.1 L735.4,1221.6 L752.8,1225 L763.2,1220.2 L777.1,1228.5 L791,1229.6 L803.2,1225 L811.9,1238.2 L806.7,1241.7 L815.4,1248.7 L832.1,1250.4 L829.3,1264.3 L839.7,1271.3 L846.7,1280 L843.2,1290.4 L848.4,1300.8 L846,1311.3 L840.4,1319.9 L844.9,1325.2 L853.6,1311.3 L857.1,1314.7 L858.8,1330.4 L864.1,1342.5 L878,1341.9 L891.9,1340.8 L905.8,1349.5 L906.5,1360.6 L919.7,1358.2 L930.1,1365.1 L933.6,1372.1 L929.4,1380.8 L933.6,1391.2 L944,1401.7 L957.9,1398.9 L961.4,1408.6 L973.6,1417.3 L985.7,1419.7 L1000,1408.6M620.7,1351.2 L631.1,1347.8 L639.8,1355.8 L662.4,1358.2 L683.3,1365.1 L690.2,1377.3 L693.7,1389.5 L700.7,1395.4 L705.9,1394.7 L715.3,1408.6 L711.1,1417.3 L702.4,1420.8 L693.7,1431.2 L679.8,1438.2 L671.1,1441.6 L676.3,1459 L665.9,1443.4 L662.4,1439.9 L648.5,1427.7 L638.1,1422.5 L625.9,1426 L615.5,1427.7 L613.7,1443.4 L618.3,1450.3 L608.5,1443.4 L605,1431.2 L592.9,1421.8 L584.2,1429.5 L592.9,1439.9 L589.4,1453.8 L584.2,1467.7 L580.7,1478.1 L572.7,1485.1 L580.7,1493.8 L577.2,1507.7 L585.9,1514.6 L592.2,1525.1 L591.1,1532 L580.7,1537.2 L568.5,1540.7 L563.3,1551.2 L558.8,1552.9 L582.4,1553.9 L596.3,1558.1 L613.7,1566.8 L617.2,1579 L622.4,1596.3 L618.9,1613.7 L617.2,1631.1 L624.2,1636.3 L633.6,1639.8 L728.5,1521.6 L803.2,1547.7 L817.1,1596.3 L831,1638.1 L836.9,1687.4 L871,1700.7 L900.6,1723.3 L916.9,1724.3 L919,1740.6 L924.9,1754.9M596.3,1412.8 L598.1,1405.1 L602.6,1404.4M995.2,1409.9 L1001.5,1408.2 L1000.4,1399.5 L993.5,1390.8 L991.7,1383.9 L984.1,1376.9 L988.2,1369.9 L982,1362 L998.7,1364.7 L1012.6,1363 L1013.3,1349.1 L1030,1344.6 L1039.7,1354.3 L1047.3,1357.1 L1050.1,1352.6 L1042.1,1343.9 L1035.2,1335.2 L1041.1,1329.3 L1047.3,1332.7 L1048,1328.2 L1039.7,1321.3 L1046.7,1317.8 L1046.7,1312.6 L1056,1313.3 L1063,1323 L1069.9,1323 L1075.2,1332.7 L1079.3,1328.2 L1092.5,1333.4 L1106.5,1335.2 L1113.4,1336.9 L1130.8,1343.2 L1136,1350.1 L1139.5,1343.2 L1151.7,1344.6 L1158.6,1349.1 L1176,1352.6 L1193.4,1356 L1207.3,1360.6 L1211.5,1352.6 L1221.2,1356 L1228.1,1351.5 L1238.6,1357.8 L1245.5,1364.7 L1249,1372.4 L1264.6,1372.4 L1262.9,1387.3 L1260.1,1396 L1264.6,1399.5 L1259.4,1408.2 L1252.5,1410.6 L1254.2,1418.6 L1264.6,1420.4 L1272.6,1425.6 L1276.8,1417.6 L1279.6,1427.3 L1290.7,1433.6 L1294.2,1440.5 L1306.4,1441.9 L1304.6,1448.2 L1294.2,1448.9 L1289,1456.9 L1292.5,1462.1 L1304.6,1459.3 L1313.3,1469.7 L1316.8,1462.8 L1327.2,1460.3 L1331.7,1462.8 L1342.9,1455.8 L1363.7,1453.4 L1377.6,1452.3 L1377.6,1457.9 L1370.7,1463.8 L1365.5,1460.3 L1365.5,1469 L1375.9,1483.6 L1387.4,1502.1 L1394.3,1531.6 L1400.2,1562.9 L1406.1,1592.5 L1409.6,1613.3 L1414.1,1609.8 L1422.8,1608.1 L1424.6,1599.4 L1431.5,1597 L1440.9,1603.9 L1438.5,1611.6 L1445.4,1613.3 L1445.4,1622.7 L1457.6,1623.8 L1469.8,1629 L1478.5,1623.8 L1490.6,1622.7 L1504.5,1630.7 L1509.8,1642.9 L1510.5,1656.8 L1527.8,1667.2 L1526.4,1672.4 L1530.6,1686.3 L1555,1695 L1561.9,1686.3 L1568.9,1684.6 L1570.6,1689.8 L1567.1,1696.8 L1572.3,1705.5 L1579.3,1708.9 L1582.8,1715.9M1582.9,1715.8 L1594.7,1713 L1604.4,1703.2 L1622.5,1704.3 L1636.4,1699.1 L1645.1,1695.6 L1646.2,1688.6 L1655.5,1682.4 L1671.2,1678.2 L1681.6,1671.3 L1695.5,1667.8 L1699,1662.6 L1712.9,1661.5 L1716.4,1658 L1721.6,1663.6 L1728.6,1659.1 L1732,1667.1 L1751.2,1668.5 L1764.4,1669.5 L1766.8,1683.4 L1772.7,1691.4 L1782.4,1691.4 L1785.9,1694.9 L1803.3,1692.1 L1820.7,1695.6 L1834.6,1695.6 L1841.5,1701.9 L1852,1692.8 L1861.7,1689.3 L1865.9,1676.5 L1865.2,1667.8 L1857.2,1660.8 L1852.7,1651.1 L1856.1,1634.8 L1861.7,1631.3 L1864.1,1622.6 L1872.8,1617.4 L1877,1604.5 L1885,1610.4 L1897.2,1612.8 L1904.1,1617.4 L1918,1616.3 L1938.9,1624.3 L1959.8,1626.8 L1962.5,1641.7 L1966.7,1656.7 L1977.1,1663.6 L1992.8,1666 L2005,1669.5 L2015.4,1666 L2022.3,1659.1 L2039.7,1652.1 L2043.2,1649.7 L2060.6,1649.7 L2067.5,1652.1 L2078,1648.7 L2086.7,1651.1 L2093.6,1657.3 L2112.7,1657.3 L2115.5,1668.5 L2133.6,1676.5 L2147.5,1673 L2161.4,1674 L2182.3,1670.6 L2192.7,1667.8 L2200,1660.1M1594.7,1713 L1591.9,1726.9 L1598.2,1732.1 L1596.4,1739.1 L1608.6,1746 L1611.4,1754.7 L1622.5,1763.4 L1635.7,1764.4 L1639.9,1772.1 L1647.5,1771.4 L1649.6,1777.3 L1655.5,1782.5 L1660.1,1799.9 L1667.7,1810.3 L1671.2,1820.8 L1670.5,1831.2 L1667,1838.1 L1669.4,1848.6 L1660.8,1857.3 L1657.3,1867.7 L1661.5,1879.9 L1674.7,1886.1 L1688.6,1888.6 L1709.4,1893.1 L1719.9,1892 L1737.2,1895.5 L1747.7,1902.5 L1765.1,1914.6 L1779,1923.3 L1793.6,1924.4 L1792.9,1934.8 L1799.8,1937.2 L1805,1954.6 L1809.6,1966.1 L1823.5,1980.7 L1824.9,1987.6 L1852,1984.9 L1876.3,1989.4 L1897.2,1990.4 L1921.5,1990.4 L1935.4,1985.9 L1956.3,1982.4 L1973.7,1983.5 L1992.8,1985.9 L2003.2,1996.3 L2022.3,1996.3 L2043.2,2004.3 L2060.6,2005.7 L2079.7,2000.9 L2082.1,2007.8 L2097.1,2008.5 L2105.8,1999.8 L2126.6,1984.9 L2147.5,1970.3 L2164.9,1959.8 L2182.3,1954.6 L2200,1951.1M1400,1836.4 L1403.5,1844.4 L1415.6,1845.1 L1421.6,1850.3 L1426.1,1846.8 L1427.8,1838.1 L1419.1,1831.2 L1427.1,1822.5 L1433,1808.6 L1441.7,1796.4 L1452.2,1779 L1453.9,1769.6 L1476.5,1784.3 L1497.3,1787.7 L1499.1,1793.6 L1504.3,1791.2 L1519.9,1787.7 L1525.9,1772.1 L1526.9,1753 L1535.6,1736.6 L1556.5,1735.6 L1563.4,1726.9 L1566.2,1714.7 L1573.8,1712.3 L1582.9,1715.8M2200.1,1659.9 L2214.7,1653 L2230.4,1641.9 L2242.5,1639.1 L2244.3,1626.9 L2253,1611.3 L2266.2,1599.1 L2277.3,1596.7 L2294.7,1602.6 L2308.6,1594.6 L2312.8,1591.1 L2327.7,1592.1 L2328.8,1609.5 L2327.7,1632.1 L2326,1649.5 L2330.2,1661.7 L2324.3,1668.6 L2329.5,1675.6 L2341.6,1680.8 L2345.1,1672.1 L2357.3,1666.9 L2369.4,1665.1 L2378.8,1668.6 L2382.3,1652.3M2417.1,1691.9 L2408.7,1705.1 L2398.3,1707.9 L2397.3,1717.3 L2384.4,1720.8 L2376.4,1732.9 L2374.7,1746.8 L2377.4,1750.3 L2368.4,1767.7 L2357.3,1774.7 L2339.9,1779.9 L2336.4,1783.4 L2331.2,1802.5 L2320.8,1816.4 L2294.7,1819.9 L2280.8,1814.6 L2266.2,1819.2 L2263.4,1833.8 L2262.7,1849.4 L2270.4,1859.8 L2284.3,1868.5 L2286,1873.8 L2273.8,1885.9 L2263.4,1894.6 L2257.1,1906.8 L2252.3,1922.4 L2239.1,1932.9 L2225.9,1944.3 L2209.5,1947.8 L2200.1,1950.9M2778,1566.1 L2778,1548.7 L2809.3,1541M2601,204.3 L2605.1,195.6 L2603.4,183.4 L2605.8,173 L2619,162.6 L2629.5,150.4 L2632.9,143.5 L2638.2,141.7 L2639.9,152.2 L2653.8,153.9 L2659,162.6 L2648.6,167.8 L2657.3,166.1 L2660.1,178.2 L2653.8,183.4 L2664.2,179.3 L2676.4,176.5 L2683.4,181.7 L2686.8,177.2 L2695.5,183.4 L2699.7,180 L2705.3,191.1M2437.5,279.1 L2458.4,279.1M2530.4,287 L2671.2,298.9M2683.4,339.9 L2674.7,343.4 L2667.7,355.5 L2674.7,357.3 L2676.4,374.7 L2676.4,386.8M2448.7,506.8 L2457.4,517.2 L2469.5,520.7 L2481.7,532.9M2608.6,216.5 L2622.5,211.3 L2631.2,204.3 L2627.7,202.6M2155.9,562.4 L2164.6,572.8 L2181.9,569.4M1768.2,565.9 L1782.1,567.6 L1796,562.4M2258.4,642.4 L2272.3,614.6 L2282.8,611.1 L2284.5,631.9 L2275.8,637.2M1776.9,600 L1789.1,613.9 L1803,617.4 L1813.4,610.4 L1820.4,600M1830.8,674.8 L1839.5,662.6 L1849.9,650.4 L1862.1,655.6 L1872.5,659.1 L1867.3,666.1 L1855.1,673 L1872.5,669.5 L1881.2,676.5 L1877.7,690.4 L1889.9,678.2 L1907.3,674.8 L1921.2,673 L1928.1,680.7M1829.1,680 L1830.8,697.3 L1816.9,700.8 L1823.8,718.2 L1822.1,732.1 L1829.1,744.3M1764.7,719.9 L1775.2,713 L1789.1,707.8 L1799.5,709.5 L1796,719.9M1650,787.7 L1670.9,789.5 L1688.2,791.2 L1702.2,787.7 L1705.6,794.7 L1691.7,801.7 L1687.5,808.6 L1695.2,819M1681.3,763.4 L1695.2,756.5 L1707.4,749.5M1771.7,695.6 L1789.1,693.2M923.1,1758.9 L933.2,1759.6 L920.4,1779 L911,1792.9 L924.5,1802.3 L918.6,1817.3 L913.4,1836.4 L930.8,1845.1 L947.5,1852 L951.7,1864.2 L944.7,1869.4 L949.9,1881.6 L956.9,1885.1 L960.3,1872.2 L981.2,1867.7 L983.6,1861.8 L1005.5,1858.3 L1016,1860.7 L1035.1,1853.8 L1040.3,1857.3 L1052.5,1853.8 L1061.2,1842.3 L1073.3,1838.1 L1085.5,1840.9 L1101.2,1850.3 L1111.6,1860.7 L1113.3,1866 L1123.8,1870.1 L1129,1878.1 L1130.7,1868.7 L1141.1,1854.8 L1165.5,1855.5 L1174.2,1869.4 L1186.3,1879.9 L1198.5,1886.1 L1203.7,1882.6 L1215.9,1886.8 L1226.3,1892 L1238.5,1892 L1244.4,1896.5 L1264.6,1903.5 L1268,1907 L1280.2,1908.4 L1292.4,1915.3 L1302.1,1919.8 L1301.1,1925.8 L1305.6,1935.5 L1320.2,1939.7 L1325.4,1952.2 L1327.8,1940.7 L1329.9,1929.2 L1342.8,1926.8 L1339.3,1921.6 L1349.7,1918.1 L1354.3,1918.1 L1354.3,1902.5 L1351.5,1874.6 L1354.3,1860.7 L1360.2,1853.8 L1353.2,1847.9 L1343.8,1843.4 L1349.7,1838.1 L1375.8,1838.1 L1400.2,1835.7M526.8,434.7 L535.5,434.7 L532,445.1 L526.8,443.4ZM579,462.5 L599.8,460.8 L624.2,467.7 L603.3,469.4 L582.4,466ZM613.7,495.5 L622.4,492 L634.6,487.9 L648.5,492 L655.5,502.5 L657.2,507.7 L641.5,502.5 L627.6,500.7 L617.2,497.3ZM737.2,492 L747.6,493.8 L745.8,504.2 L737.2,504.2ZM599.8,342.5 L603.3,343.2 L602.6,349.5 L599.8,347.8ZM669.4,561.6 L679.8,563.3 L686.7,572 L700.7,579 L702.4,570.3 L693.7,558.1 L690.2,551.2 L681.5,556.4ZM702.4,559.8 L707.6,551.2 L709.3,558.1 L714.6,559.8 L711.1,568.5 L704.1,565.1ZM995.2,328.6 L1009.1,333.9 L1016.1,346 L1030,346 L1043.9,351.2 L1057.1,361.7 L1040.4,363.4 L1026.5,359.9 L1019.5,353 L1010.8,344.3 L1003.9,333.9ZM1010.8,676.3 L1016.1,672.8 L1017.8,678.1 L1012.6,681.5ZM1258.5,739.6 L1258.1,743 L1256.8,746.1 L1254.7,748.8 L1252,750.9 L1248.9,752.2 L1245.5,752.6 L1242.1,752.2 L1239,750.9 L1236.3,748.8 L1234.2,746.1 L1232.9,743 L1232.5,739.6 L1232.9,736.2 L1234.2,733.1 L1236.3,730.4 L1239,728.3 L1242.1,727 L1245.5,726.6 L1248.9,727 L1252,728.3 L1254.7,730.4 L1256.8,733.1 L1258.1,736.2ZM1527.1,434.7 L1541,439.9 L1548,446.8 L1556.7,452.1 L1555,460.8 L1541,457.3 L1527.1,460.8 L1523.7,452.1ZM1548,474.7 L1555,472.9 L1556.7,481.6 L1549.7,479.9ZM1561.9,488.6 L1568.9,486.8 L1575.8,495.5 L1581,499 L1572.3,500.7 L1565.4,497.3ZM1586.2,488.6 L1596.7,486.8 L1605.4,493.8 L1600.2,500.7 L1591.5,502.5 L1586.2,495.5ZM1607.1,493.8 L1617.5,492 L1626.2,490.3 L1626.2,499 L1617.5,504.2 L1608.8,500.7ZM1568.9,464.2 L1575.8,460.8 L1586.2,459 L1600.2,459 L1603.6,474.7 L1593.2,479.9 L1579.3,478.1 L1572.3,474.7ZM1598.4,483.4 L1607.1,481.6 L1608.8,486.8 L1600.2,487.9ZM1619.3,469.4 L1628,468.4 L1629.7,474.7 L1622.8,474.7ZM1605.4,453.8 L1612.3,453.1 L1613.4,458 L1607.1,459ZM1570.6,506 L1579.3,505.3 L1580,511.2 L1572.3,511.2ZM1530.6,467.7 L1537.6,466 L1535.8,478.1 L1531.3,474.7ZM1575.8,464.2 L1582.8,469.4 L1589.7,464.2 L1596.7,469.4 L1591.5,474.7 L1582.8,472.9ZM1541,443.4 L1548,450.3 L1537.6,452.1ZM1692.3,530.3 L1701,530.3 L1701.7,534.5 L1693,534.5ZM1662,567.5 L1671.4,575.5 L1666.2,574.8ZM1659.3,723.3 L1667.9,721.5 L1664.5,733.7ZM1730.5,672.8 L1741,669.4 L1739.2,674.6 L1732.3,678.1ZM1608.4,807.8 L1618.9,799.1 L1619.6,814.7ZM1584.1,774.8 L1591,773 L1598,780ZM1660.6,724.3 L1667.5,722.6 L1664.8,733ZM1657.1,772.3 L1667.5,773.7 L1677.3,780ZM1665.8,707 L1679.7,708.7 L1674.5,710.4ZM1632.1,745.9 L1635.5,746.9 L1634.5,751.5 L1631.4,750.4ZM1121,726.1 L1123.4,727.1 L1122.7,731.3 L1120.6,730.6ZM500.7,1390.5 L514.6,1384.3 L517.1,1387.7 L502.5,1393ZM2436.5,263.4 L2441.7,253 L2450.4,249.5 L2457.4,256.5 L2460.8,270.4 L2458.4,279.1 L2461.9,294.7 L2452.2,296.4 L2444.5,289.5 L2437.5,279.1 L2436.5,270.4ZM1754.3,534.6 L1763,531.1 L1762,538.8 L1754.3,537.4ZM1768.2,548.5 L1783.9,529.4 L1790.8,538.1 L1799.5,548.5 L1794.3,558.9 L1799.5,569.4 L1811.7,578.1 L1815.1,590.2 L1813.4,611.1 L1803,618 L1789.1,611.1 L1776.9,600.7 L1775.2,586.7 L1761.3,583.3 L1757.8,572.8 L1768.2,565.9 L1763,558.9 L1769.9,552ZM1813.4,645.8 L1820.4,628.5 L1829.1,593.7 L1837.7,600.7 L1848.2,611.1 L1855.1,621.5 L1848.2,631.9 L1830.8,637.2 L1820.4,642.4ZM2115.9,576.3 L2135,569.4 L2136.7,560.7 L2154.1,558.9 L2157.6,552 L2175,548.5 L2184.7,558.9 L2183.7,569.4 L2178.5,585 L2168,590.2 L2161.1,605.9 L2150.7,614.6 L2135,609.3 L2124.6,600.7 L2117.6,586.7ZM1691.7,531.1 L1700.4,529.4 L1701.5,534.6 L1693.5,534.6ZM1662.2,567.6 L1670.9,576.3 L1665.6,573.5ZM2159.3,496.3 L2166.3,494.6 L2163.9,503.3ZM2401,502.6 L2406.2,501.6 L2404.5,506.1ZM1860.3,628.5 L1874.3,630.2 L1872.5,633.7 L1862.1,631.9ZM2115.9,605.9 L2121.1,604.1 L2122.1,614.6 L2117.6,616.3ZM1816.9,645.2 L1820.4,620.9 L1834.3,603.5 L1849.9,610.4 L1855.1,624.3 L1848.2,633 L1827.3,638.2ZM1731.7,674.8 L1738.7,669.5 L1739.7,673.7 L1733.4,678.2ZM1783.9,681.7 L1792.5,674.8 L1794.3,683.4 L1787.3,686.2ZM1660.4,726.9 L1666.7,723.4 L1665.6,732.1ZM1858.6,627.8 L1872.5,628.5 L1873.2,634.1 L1862.1,633Z" fill="none" stroke="#000" stroke-width="1" stroke-linejoin="round" shape-rendering="crispEdges"/>
<g fill="#e52d27"><rect x="190" y="45" width="24" height="48.6"/><rect x="262" y="45" width="24" height="48.6"/>
<path transform="translate(238,70)" d="M0,-20.5 L3.2,-14.5 L6.6,-16 L4.9,-6.8 L9.6,-11.8 L10.6,-9 L15.6,-10 L13.8,-4.5 L16.4,-3.2 L8.2,3.8 L9.4,7.6 L1,6.6 L1.2,20 L-1.2,20 L-1,6.6 L-9.4,7.6 L-8.2,3.8 L-16.4,-3.2 L-13.8,-4.5 L-15.6,-10 L-10.6,-9 L-9.6,-11.8 L-4.9,-6.8 L-6.6,-16 L-3.2,-14.5Z"/></g>
<text x="327.6" y="64" font-size="23.3" fill="#2b2b2b" textLength="204" lengthAdjust="spacingAndGlyphs" >Natural Resources</text>
<text x="327.6" y="94" font-size="23.3" fill="#2b2b2b" textLength="86.5" lengthAdjust="spacingAndGlyphs" >Canada</text>
<text x="573.3" y="64" font-size="23.3" fill="#2b2b2b" textLength="243.5" lengthAdjust="spacingAndGlyphs" >Ressources naturelles</text>
<text x="573.3" y="94" font-size="23.3" fill="#2b2b2b" textLength="86.5" lengthAdjust="spacingAndGlyphs" >Canada</text>
<text x="1198.5" y="74.3" font-size="57.5" fill="#f5112a" textLength="292" lengthAdjust="spacingAndGlyphs" >Prototype:</text>
<text x="950.3" y="139" font-size="57.5" fill="#f5112a" textLength="788" lengthAdjust="spacingAndGlyphs" >Colors,scales are not finalized</text>
<text x="1848.5" y="59.3" font-size="55.5" fill="#000" textLength="377" lengthAdjust="spacingAndGlyphs" >Drought Code</text>
<text x="1929.3" y="120.8" font-size="41.5" fill="#000" textLength="219" lengthAdjust="spacingAndGlyphs" >2025-08-23</text>
<rect x="1940.5" y="135.5" width="174.5" height="50.8" fill="#3399ff" stroke="#000" stroke-width="1.2"/>
<text x="1970" y="175.1" font-size="29.5" fill="#000" textLength="96" lengthAdjust="spacingAndGlyphs" >0 - 100</text>
<rect x="1940.5" y="220.5" width="174.5" height="50.8" fill="#00e000" stroke="#000" stroke-width="1.2"/>
<text x="1970" y="260.1" font-size="29.5" fill="#000" textLength="131.5" lengthAdjust="spacingAndGlyphs" >100 - 200</text>
<rect x="1940.5" y="305.5" width="174.5" height="50.8" fill="#ffff00" stroke="#000" stroke-width="1.2"/>
<text x="1970" y="345.1" font-size="29.5" fill="#000" textLength="131.5" lengthAdjust="spacingAndGlyphs" >200 - 300</text>
<rect x="1940.5" y="390.5" width="174.5" height="50.8" fill="#e0a000" stroke="#000" stroke-width="1.2"/>
<text x="1970" y="430.1" font-size="29.5" fill="#000" textLength="131.5" lengthAdjust="spacingAndGlyphs" >300 - 500</text>
<rect x="1940.5" y="475.5" width="174.5" height="50.8" fill="#ff0000" stroke="#000" stroke-width="1.2"/>
<text x="1970" y="515.1" font-size="29.5" fill="#000" textLength="131.5" lengthAdjust="spacingAndGlyphs" >500 - 750</text>
<rect x="1940.5" y="560.5" width="174.5" height="50.8" fill="#ff3399" stroke="#000" stroke-width="1.2"/>
<text x="1970" y="600.1" font-size="29.5" fill="#000" textLength="79.5" lengthAdjust="spacingAndGlyphs" >&gt; 750</text>
<rect x="1940.5" y="645.5" width="174.5" height="50.8" fill="#ffffff" stroke="#000" stroke-width="1.2"/>
<text x="1970" y="685.1" font-size="29.5" fill="#000" textLength="117" lengthAdjust="spacingAndGlyphs" >Nil / s.o.</text>
<text x="148.3" y="1999.8" font-size="42" fill="#000" textLength="812.5" lengthAdjust="spacingAndGlyphs" >Map created at 19:47 (UTC) on 2025-08-23</text>
<g fill="none" stroke="#000" stroke-width="2.6"><rect x="155" y="2071.5" width="1056" height="26.6"/><path d="M419,2071.5V2098M683,2071.5V2098M947,2071.5V2098M155,2084.8H419M683,2084.8H947"/></g>
<path d="M150.62,2120.00h3.36v3.38h-3.36zM147.26,2123.38h3.36v3.38h-3.36zM153.98,2123.38h3.36v3.38h-3.36zM143.90,2126.75h3.36v3.38h-3.36zM157.34,2126.75h3.36v3.38h-3.36zM143.90,2130.12h3.36v3.38h-3.36zM157.34,2130.12h3.36v3.38h-3.36zM143.90,2133.50h3.36v3.38h-3.36zM157.34,2133.50h3.36v3.38h-3.36zM143.90,2136.88h3.36v3.38h-3.36zM157.34,2136.88h3.36v3.38h-3.36zM147.26,2140.25h3.36v3.38h-3.36zM153.98,2140.25h3.36v3.38h-3.36zM150.62,2143.62h3.36v3.38h-3.36zM386.90,2120.00h16.80v3.38h-16.80zM386.90,2123.38h3.36v3.38h-3.36zM386.90,2126.75h13.44v3.38h-13.44zM386.90,2130.12h3.36v3.38h-3.36zM400.34,2130.12h3.36v3.38h-3.36zM400.34,2133.50h3.36v3.38h-3.36zM400.34,2136.88h3.36v3.38h-3.36zM386.90,2140.25h3.36v3.38h-3.36zM400.34,2140.25h3.36v3.38h-3.36zM390.26,2143.62h10.08v3.38h-10.08zM414.02,2120.00h3.36v3.38h-3.36zM410.66,2123.38h3.36v3.38h-3.36zM417.38,2123.38h3.36v3.38h-3.36zM407.30,2126.75h3.36v3.38h-3.36zM420.74,2126.75h3.36v3.38h-3.36zM407.30,2130.12h3.36v3.38h-3.36zM420.74,2130.12h3.36v3.38h-3.36zM407.30,2133.50h3.36v3.38h-3.36zM420.74,2133.50h3.36v3.38h-3.36zM407.30,2136.88h3.36v3.38h-3.36zM420.74,2136.88h3.36v3.38h-3.36zM410.66,2140.25h3.36v3.38h-3.36zM417.38,2140.25h3.36v3.38h-3.36zM414.02,2143.62h3.36v3.38h-3.36zM434.42,2120.00h3.36v3.38h-3.36zM431.06,2123.38h3.36v3.38h-3.36zM437.78,2123.38h3.36v3.38h-3.36zM427.70,2126.75h3.36v3.38h-3.36zM441.14,2126.75h3.36v3.38h-3.36zM427.70,2130.12h3.36v3.38h-3.36zM441.14,2130.12h3.36v3.38h-3.36zM427.70,2133.50h3.36v3.38h-3.36zM441.14,2133.50h3.36v3.38h-3.36zM427.70,2136.88h3.36v3.38h-3.36zM441.14,2136.88h3.36v3.38h-3.36zM431.06,2140.25h3.36v3.38h-3.36zM437.78,2140.25h3.36v3.38h-3.36zM434.42,2143.62h3.36v3.38h-3.36zM647.12,2120.00h3.36v3.38h-3.36zM643.76,2123.38h6.72v3.38h-6.72zM640.40,2126.75h3.36v3.38h-3.36zM647.12,2126.75h3.36v3.38h-3.36zM647.12,2130.12h3.36v3.38h-3.36zM647.12,2133.50h3.36v3.38h-3.36zM647.12,2136.88h3.36v3.38h-3.36zM647.12,2140.25h3.36v3.38h-3.36zM640.40,2143.62h16.80v3.38h-16.80zM667.52,2120.00h3.36v3.38h-3.36zM664.16,2123.38h3.36v3.38h-3.36zM670.88,2123.38h3.36v3.38h-3.36zM660.80,2126.75h3.36v3.38h-3.36zM674.24,2126.75h3.36v3.38h-3.36zM660.80,2130.12h3.36v3.38h-3.36zM674.24,2130.12h3.36v3.38h-3.36zM660.80,2133.50h3.36v3.38h-3.36zM674.24,2133.50h3.36v3.38h-3.36zM660.80,2136.88h3.36v3.38h-3.36zM674.24,2136.88h3.36v3.38h-3.36zM664.16,2140.25h3.36v3.38h-3.36zM670.88,2140.25h3.36v3.38h-3.36zM667.52,2143.62h3.36v3.38h-3.36zM687.92,2120.00h3.36v3.38h-3.36zM684.56,2123.38h3.36v3.38h-3.36zM691.28,2123.38h3.36v3.38h-3.36zM681.20,2126.75h3.36v3.38h-3.36zM694.64,2126.75h3.36v3.38h-3.36zM681.20,2130.12h3.36v3.38h-3.36zM694.64,2130.12h3.36v3.38h-3.36zM681.20,2133.50h3.36v3.38h-3.36zM694.64,2133.50h3.36v3.38h-3.36zM681.20,2136.88h3.36v3.38h-3.36zM694.64,2136.88h3.36v3.38h-3.36zM684.56,2140.25h3.36v3.38h-3.36zM691.28,2140.25h3.36v3.38h-3.36zM687.92,2143.62h3.36v3.38h-3.36zM708.32,2120.00h3.36v3.38h-3.36zM704.96,2123.38h3.36v3.38h-3.36zM711.68,2123.38h3.36v3.38h-3.36zM701.60,2126.75h3.36v3.38h-3.36zM715.04,2126.75h3.36v3.38h-3.36zM701.60,2130.12h3.36v3.38h-3.36zM715.04,2130.12h3.36v3.38h-3.36zM701.60,2133.50h3.36v3.38h-3.36zM715.04,2133.50h3.36v3.38h-3.36zM701.60,2136.88h3.36v3.38h-3.36zM715.04,2136.88h3.36v3.38h-3.36zM704.96,2140.25h3.36v3.38h-3.36zM711.68,2140.25h3.36v3.38h-3.36zM708.32,2143.62h3.36v3.38h-3.36zM910.62,2120.00h3.36v3.38h-3.36zM907.26,2123.38h6.72v3.38h-6.72zM903.90,2126.75h3.36v3.38h-3.36zM910.62,2126.75h3.36v3.38h-3.36zM910.62,2130.12h3.36v3.38h-3.36zM910.62,2133.50h3.36v3.38h-3.36zM910.62,2136.88h3.36v3.38h-3.36zM910.62,2140.25h3.36v3.38h-3.36zM903.90,2143.62h16.80v3.38h-16.80zM924.30,2120.00h16.80v3.38h-16.80zM924.30,2123.38h3.36v3.38h-3.36zM924.30,2126.75h13.44v3.38h-13.44zM924.30,2130.12h3.36v3.38h-3.36zM937.74,2130.12h3.36v3.38h-3.36zM937.74,2133.50h3.36v3.38h-3.36zM937.74,2136.88h3.36v3.38h-3.36zM924.30,2140.25h3.36v3.38h-3.36zM937.74,2140.25h3.36v3.38h-3.36zM927.66,2143.62h10.08v3.38h-10.08zM951.42,2120.00h3.36v3.38h-3.36zM948.06,2123.38h3.36v3.38h-3.36zM954.78,2123.38h3.36v3.38h-3.36zM944.70,2126.75h3.36v3.38h-3.36zM958.14,2126.75h3.36v3.38h-3.36zM944.70,2130.12h3.36v3.38h-3.36zM958.14,2130.12h3.36v3.38h-3.36zM944.70,2133.50h3.36v3.38h-3.36zM958.14,2133.50h3.36v3.38h-3.36zM944.70,2136.88h3.36v3.38h-3.36zM958.14,2136.88h3.36v3.38h-3.36zM948.06,2140.25h3.36v3.38h-3.36zM954.78,2140.25h3.36v3.38h-3.36zM951.42,2143.62h3.36v3.38h-3.36zM971.82,2120.00h3.36v3.38h-3.36zM968.46,2123.38h3.36v3.38h-3.36zM975.18,2123.38h3.36v3.38h-3.36zM965.10,2126.75h3.36v3.38h-3.36zM978.54,2126.75h3.36v3.38h-3.36zM965.10,2130.12h3.36v3.38h-3.36zM978.54,2130.12h3.36v3.38h-3.36zM965.10,2133.50h3.36v3.38h-3.36zM978.54,2133.50h3.36v3.38h-3.36zM965.10,2136.88h3.36v3.38h-3.36zM978.54,2136.88h3.36v3.38h-3.36zM968.46,2140.25h3.36v3.38h-3.36zM975.18,2140.25h3.36v3.38h-3.36zM971.82,2143.62h3.36v3.38h-3.36zM1178.16,2120.00h10.08v3.38h-10.08zM1174.80,2123.38h3.36v3.38h-3.36zM1188.24,2123.38h3.36v3.38h-3.36zM1188.24,2126.75h3.36v3.38h-3.36zM1184.88,2130.12h3.36v3.38h-3.36zM1181.52,2133.50h3.36v3.38h-3.36zM1178.16,2136.88h3.36v3.38h-3.36zM1174.80,2140.25h3.36v3.38h-3.36zM1174.80,2143.62h16.80v3.38h-16.80zM1201.92,2120.00h3.36v3.38h-3.36zM1198.56,2123.38h3.36v3.38h-3.36zM1205.28,2123.38h3.36v3.38h-3.36zM1195.20,2126.75h3.36v3.38h-3.36zM1208.64,2126.75h3.36v3.38h-3.36zM1195.20,2130.12h3.36v3.38h-3.36zM1208.64,2130.12h3.36v3.38h-3.36zM1195.20,2133.50h3.36v3.38h-3.36zM1208.64,2133.50h3.36v3.38h-3.36zM1195.20,2136.88h3.36v3.38h-3.36zM1208.64,2136.88h3.36v3.38h-3.36zM1198.56,2140.25h3.36v3.38h-3.36zM1205.28,2140.25h3.36v3.38h-3.36zM1201.92,2143.62h3.36v3.38h-3.36zM1222.32,2120.00h3.36v3.38h-3.36zM1218.96,2123.38h3.36v3.38h-3.36zM1225.68,2123.38h3.36v3.38h-3.36zM1215.60,2126.75h3.36v3.38h-3.36zM1229.04,2126.75h3.36v3.38h-3.36zM1215.60,2130.12h3.36v3.38h-3.36zM1229.04,2130.12h3.36v3.38h-3.36zM1215.60,2133.50h3.36v3.38h-3.36zM1229.04,2133.50h3.36v3.38h-3.36zM1215.60,2136.88h3.36v3.38h-3.36zM1229.04,2136.88h3.36v3.38h-3.36zM1218.96,2140.25h3.36v3.38h-3.36zM1225.68,2140.25h3.36v3.38h-3.36zM1222.32,2143.62h3.36v3.38h-3.36zM1242.72,2120.00h3.36v3.38h-3.36zM1239.36,2123.38h3.36v3.38h-3.36zM1246.08,2123.38h3.36v3.38h-3.36zM1236.00,2126.75h3.36v3.38h-3.36zM1249.44,2126.75h3.36v3.38h-3.36zM1236.00,2130.12h3.36v3.38h-3.36zM1249.44,2130.12h3.36v3.38h-3.36zM1236.00,2133.50h3.36v3.38h-3.36zM1249.44,2133.50h3.36v3.38h-3.36zM1236.00,2136.88h3.36v3.38h-3.36zM1249.44,2136.88h3.36v3.38h-3.36zM1239.36,2140.25h3.36v3.38h-3.36zM1246.08,2140.25h3.36v3.38h-3.36zM1242.72,2143.62h3.36v3.38h-3.36zM1276.80,2120.00h3.36v3.38h-3.36zM1276.80,2123.38h3.36v3.38h-3.36zM1276.80,2126.75h3.36v3.38h-3.36zM1286.88,2126.75h3.36v3.38h-3.36zM1276.80,2130.12h3.36v3.38h-3.36zM1283.52,2130.12h3.36v3.38h-3.36zM1276.80,2133.50h6.72v3.38h-6.72zM1276.80,2136.88h3.36v3.38h-3.36zM1283.52,2136.88h3.36v3.38h-3.36zM1276.80,2140.25h3.36v3.38h-3.36zM1286.88,2140.25h3.36v3.38h-3.36zM1276.80,2143.62h3.36v3.38h-3.36zM1290.24,2143.62h3.36v3.38h-3.36zM1297.20,2126.75h6.72v3.38h-6.72zM1307.28,2126.75h3.36v3.38h-3.36zM1297.20,2130.12h3.36v3.38h-3.36zM1303.92,2130.12h3.36v3.38h-3.36zM1310.64,2130.12h3.36v3.38h-3.36zM1297.20,2133.50h3.36v3.38h-3.36zM1303.92,2133.50h3.36v3.38h-3.36zM1310.64,2133.50h3.36v3.38h-3.36zM1297.20,2136.88h3.36v3.38h-3.36zM1303.92,2136.88h3.36v3.38h-3.36zM1310.64,2136.88h3.36v3.38h-3.36zM1297.20,2140.25h3.36v3.38h-3.36zM1303.92,2140.25h3.36v3.38h-3.36zM1310.64,2140.25h3.36v3.38h-3.36zM1297.20,2143.62h3.36v3.38h-3.36zM1310.64,2143.62h3.36v3.38h-3.36z" fill="#000" shape-rendering="crispEdges"/>
<text x="2730.5" y="2142.2" font-size="115" fill="#1a1a1a" textLength="72" lengthAdjust="spacingAndGlyphs" class="se" stroke="#1a1a1a" stroke-width="0.8">C</text>
<text x="2798" y="2142.2" font-size="102" fill="#1a1a1a" textLength="259" lengthAdjust="spacingAndGlyphs" class="se" stroke="#1a1a1a" stroke-width="1">anada</text>
<g fill="#e52d27"><rect x="3004.4" y="2073.4" width="11" height="17.3"/><rect x="3039.6" y="2073.4" width="10.8" height="17.3"/><path transform="translate(3027.6,2082.3) scale(0.42)" d="M0,-20.5 L3.2,-14.5 L6.6,-16 L4.9,-6.8 L9.6,-11.8 L10.6,-9 L15.6,-10 L13.8,-4.5 L16.4,-3.2 L8.2,3.8 L9.4,7.6 L1,6.6 L1.2,20 L-1.2,20 L-1,6.6 L-9.4,7.6 L-8.2,3.8 L-16.4,-3.2 L-13.8,-4.5 L-15.6,-10 L-10.6,-9 L-9.6,-11.8 L-4.9,-6.8 L-6.6,-16 L-3.2,-14.5Z"/></g>
<g transform="translate(153.4,557.3) scale(1)"><g fill="none" stroke="#ed1c24" stroke-width="0.95"><ellipse rx="93.1" ry="55.1"/><ellipse rx="74.3" ry="55.1"/><ellipse rx="53.1" ry="55.1"/><path d="M-93.1,0H93.1"/><path d="M-71.5,-35.4 Q0,3 71.5,-35.4"/><path d="M-71,34 Q0,-3 71,34"/></g><path fill="#ed1c24" d="M-14.0,54.1 C-18.4,52.5 -22.8,49.1 -26.7,45.6 C-30.6,42.0 -34.5,36.7 -37.4,32.8 C-40.2,28.9 -42.4,26.1 -43.8,22.2 C-45.2,18.2 -45.8,13.3 -45.9,9.4 C-46.0,5.5 -45.4,1.7 -44.3,-1.3 C-43.2,-4.3 -41.0,-6.9 -39.5,-8.7 C-38.0,-10.6 -35.4,-13.3 -35.3,-12.5 C-35.1,-11.6 -37.6,-6.5 -38.4,-3.4 C-39.2,-0.3 -40.6,6.4 -40.0,6.2 C-39.5,6.0 -36.9,-1.1 -35.3,-4.5 C-33.6,-7.8 -31.3,-11.0 -29.9,-14.1 C-28.5,-17.1 -27.2,-19.6 -26.7,-22.6 C-26.3,-25.6 -26.6,-29.4 -27.3,-32.2 C-28.0,-34.9 -29.7,-37.5 -31.0,-39.1 C-32.3,-40.7 -33.5,-41.2 -35.3,-41.7 C-37.0,-42.3 -41.6,-42.0 -41.6,-42.3 C-41.6,-42.6 -37.4,-43.6 -35.3,-43.7 C-33.1,-43.7 -30.8,-43.5 -28.9,-42.6 C-26.9,-41.7 -25.0,-40.5 -23.5,-38.6 C-22.0,-36.6 -20.7,-33.8 -19.8,-31.1 C-18.9,-28.4 -18.7,-25.2 -18.2,-22.6 C-17.8,-19.9 -17.9,-15.3 -17.1,-15.1 C-16.4,-14.9 -14.6,-19.4 -14.0,-21.5 C-13.3,-23.6 -13.2,-25.8 -13.4,-27.9 C-13.6,-30.0 -15.3,-33.9 -15.0,-34.3 C-14.7,-34.6 -12.7,-32.0 -11.8,-30.0 C-10.9,-28.1 -10.1,-25.6 -9.7,-22.6 C-9.2,-19.6 -9.9,-12.3 -9.2,-11.9 C-8.4,-11.6 -6.1,-17.6 -5.4,-20.4 C-4.7,-23.3 -4.9,-26.5 -4.9,-29.0 C-4.9,-31.5 -5.8,-33.4 -5.4,-35.4 C-5.1,-37.3 -4.0,-39.4 -2.8,-40.7 C-1.5,-42.0 1.8,-43.7 2.0,-43.3 C2.3,-43.0 -0.5,-40.2 -1.2,-38.6 C-1.9,-36.9 -2.4,-35.2 -2.2,-33.2 C-2.1,-31.3 -1.2,-28.8 -0.1,-26.8 C1.0,-24.9 2.6,-23.3 4.2,-21.5 C5.8,-19.7 7.9,-17.8 9.5,-16.2 C11.1,-14.6 12.3,-13.7 13.7,-11.9 C15.2,-10.2 16.2,-5.7 18.0,-5.5 C19.8,-5.4 22.9,-9.1 24.4,-10.9 C25.9,-12.6 27.1,-14.2 27.1,-16.2 C27.1,-18.1 25.9,-20.7 24.4,-22.6 C22.9,-24.4 20.0,-25.9 18.0,-27.4 C16.0,-28.9 13.6,-29.9 12.1,-31.6 C10.7,-33.3 9.8,-35.4 9.5,-37.5 C9.1,-39.5 9.3,-42.0 10.0,-43.9 C10.7,-45.7 13.5,-48.8 13.7,-48.7 C14.0,-48.5 11.9,-44.9 11.6,-42.8 C11.3,-40.8 11.4,-38.4 12.1,-36.4 C12.9,-34.5 14.2,-32.5 15.9,-31.1 C17.6,-29.7 20.0,-29.0 22.3,-27.9 C24.6,-26.8 27.4,-26.1 29.7,-24.7 C32.0,-23.3 34.5,-19.4 36.1,-19.4 C37.7,-19.4 38.5,-22.8 39.3,-24.7 C40.1,-26.6 40.5,-30.9 40.9,-30.6 C41.3,-30.2 41.8,-25.7 42.0,-22.6 C42.1,-19.5 42.4,-15.3 42.0,-11.9 C41.5,-8.6 40.6,-5.2 39.3,-2.3 C38.0,0.5 35.7,2.8 34.0,5.1 C32.2,7.4 30.1,9.4 28.6,11.5 C27.2,13.6 26.1,16.1 25.5,17.9 C24.8,19.7 23.7,21.6 24.9,22.2 C26.2,22.7 30.5,21.8 32.9,21.1 C35.3,20.4 37.3,19.3 39.3,17.9 C41.2,16.5 43.4,14.3 44.6,12.6 C45.9,10.8 46.6,9.0 46.8,7.2 C46.9,5.5 45.4,2.1 45.7,1.9 C46.0,1.7 48.0,4.2 48.3,6.2 C48.7,8.1 48.4,11.3 47.8,13.6 C47.2,15.9 45.5,18.2 44.6,20.0 C43.7,21.8 41.8,23.7 42.5,24.3 C43.2,24.8 46.8,23.7 48.9,23.2 C51.0,22.7 53.3,22.2 55.3,21.1 C57.2,19.9 60.2,16.1 60.6,16.3 C61.0,16.5 58.8,20.6 57.4,22.2 C56.0,23.7 54.0,24.3 52.1,25.3 C50.1,26.4 47.6,27.6 45.7,28.5 C43.7,29.5 42.1,30.5 40.4,31.2 C38.6,31.9 36.4,32.1 35.0,32.8 C33.7,33.5 32.8,34.4 32.4,35.5 C31.9,36.5 31.9,38.2 32.4,39.2 C32.8,40.2 34.4,40.3 35.0,41.3 C35.7,42.4 36.3,44.3 36.1,45.6 C35.9,46.8 35.9,47.7 34.0,48.8 C32.0,49.8 27.8,51.1 24.4,52.0 C21.0,52.9 17.8,53.6 13.7,54.1 C9.7,54.6 4.6,55.2 0.0,55.2 C-4.6,55.2 -9.5,55.7 -14.0,54.1Z"/><path fill="#fff" d="M0.4,-18.3 C2.0,-18.3 4.4,-13.3 5.2,-10.9 C6.0,-8.4 6.0,-6.1 5.2,-3.4 C4.4,-0.7 2.0,5.1 0.4,5.1 C-1.2,5.1 -3.6,-0.7 -4.4,-3.4 C-5.2,-6.1 -5.2,-8.4 -4.4,-10.9 C-3.6,-13.3 -1.2,-18.3 0.4,-18.3Z"/><path fill="#fff" d="M-19.3,-0.7 C-18.4,-2.1 -13.1,-1.7 -10.8,-0.7 C-8.4,0.2 -6.8,2.7 -5.4,5.1 C-4.1,7.5 -2.1,12.5 -2.8,13.6 C-3.5,14.8 -7.5,13.1 -9.7,12.0 C-11.9,11.0 -14.5,9.4 -16.1,7.2 C-17.7,5.1 -20.2,0.6 -19.3,-0.7Z"/><path fill="#fff" d="M20.1,-1.1 C19.2,-2.3 13.9,-1.2 11.6,-0.2 C9.3,0.8 7.6,2.8 6.3,5.1 C5.0,7.4 2.8,12.5 3.6,13.6 C4.4,14.8 8.9,13.1 11.1,12.0 C13.3,11.0 15.4,9.4 16.9,7.2 C18.4,5.1 21.0,0.2 20.1,-1.1Z"/><path fill="#fff" d="M-20.6,17.9 C-19.5,16.5 -14.2,17.7 -11.8,19.0 C-9.5,20.2 -7.6,22.7 -6.5,25.3 C-5.3,28.0 -3.8,33.6 -4.9,34.9 C-6.0,36.3 -10.7,34.6 -12.9,33.3 C-15.1,32.1 -16.9,30.0 -18.2,27.5 C-19.5,24.9 -21.6,19.3 -20.6,17.9Z"/><path fill="#fff" d="M21.7,17.9 C20.7,17.0 15.1,19.5 12.7,21.1 C10.3,22.7 8.6,25.2 7.3,27.5 C6.1,29.8 4.2,34.0 5.2,34.9 C6.3,35.8 11.4,34.2 13.7,32.8 C16.0,31.4 17.7,28.9 19.1,26.4 C20.4,23.9 22.8,18.8 21.7,17.9Z"/><path d="M0.4,5V55 M0.4,18 L-4.5,13.5 M0.4,18 L4.5,13.5 M0.4,39.5 L-5.5,34 M0.4,39.5 L6.5,34" stroke="#fff" stroke-width="0.8" fill="none"/></g><text x="154" y="649.9" font-size="23" font-weight="bold" text-anchor="middle" textLength="73" lengthAdjust="spacingAndGlyphs">GFMC</text><g transform="translate(156.2,833.2) scale(1)"><circle r="71.6" fill="#fff" stroke="#c8161d" stroke-width="2.4"/><circle r="58.5" fill="none" stroke="#c8161d" stroke-width="1.1"/><path id="rbrt" d="M-41.74,44.76 A61.2,61.2 0 1 1 41.74,44.76" fill="none"/><text font-size="8.6" font-weight="bold" fill="#111"><textPath href="#rbrt" textLength="292.7" lengthAdjust="spacingAndGlyphs">REGIONAL CENTRAL ASIA FIRE MANAGEMENT RESOURCE CENTER</textPath></text><path d="M-41,52.5 A66,66 0 0 0 41,52.5" fill="none" stroke="#111" stroke-width="2"/><path fill="none" stroke="#9a9a9a" stroke-width="0.7" d="M-48,-12 L-44,-17 L-36,-15 L-30,-11 L-24,-16 L-14,-14 L-8,-9 L-3,-2 L3,4 L9,9 L17,6 L24,8 L33,3 L40,6 L48,1 L52,-8 L50,4 L47,14 L41,22 L32,28 L22,25 L13,19 L6,10 L3,4 M-48,-12 L-50,-2 L-46,6 L-49,14 L-45,24 L-38,30 L-30,34 L-22,30 L-24,38 L-17,42 L-12,36 L-8,27 L-2,20 L3,12 L3,4 M-38,6 L-30,12 L-26,22 L-20,28 L-12,25 L-8,27 M-26,22 L-30,30"/><g fill="#e8141c"><path transform="translate(0,39.5) scale(0.98)" d="M0,-22 C4,-14 9,-10 8,-2 C11,-6 12,-10 11,-14 C17,-6 17,4 13,11 C10,17 5,20 0,20 C-5,20 -10,17 -13,11 C-17,4 -15,-4 -10,-9 C-10,-5 -9,-2 -7,0 C-8,-9 -4,-15 0,-22Z"/><path d="M-13,50 C-22,52 -28,46 -36,44 C-29,50 -24,56 -12,56Z M13,50 C22,52 28,46 36,44 C29,50 24,56 12,56Z"/></g><path d="M0,38 C2.5,42 3.5,46 0,50 C-3.5,46 -2.5,42 0,38Z M-7,52 H7 L5,56 H-5Z" fill="#fff"/><text x="0" y="-22.6" text-anchor="middle" font-size="19" font-weight="bold" fill="#2a0405" stroke="#a80f16" stroke-width="0.5" textLength="70" lengthAdjust="spacingAndGlyphs">RCAFMRC</text></g><text x="156.6" y="941.7" font-size="21.5" font-weight="bold" text-anchor="middle" textLength="121.5" lengthAdjust="spacingAndGlyphs">RCAFMRC</text><g transform="translate(159.2,1054.9) scale(1)"><path d="M0,0 L-102.8,116.4 H102.2Z" fill="#8dc63f"/><g transform="translate(0,80.3) scale(0.675)"><g fill="none" stroke="#fff" stroke-width="1.4"><ellipse rx="93.1" ry="55.1"/><ellipse rx="74.3" ry="55.1"/><ellipse rx="53.1" ry="55.1"/><path d="M-93.1,0H93.1"/><path d="M-71.5,-35.4 Q0,3 71.5,-35.4"/><path d="M-71,34 Q0,-3 71,34"/></g><path fill="#ed1c24" d="M-14.0,54.1 C-18.4,52.5 -22.8,49.1 -26.7,45.6 C-30.6,42.0 -34.5,36.7 -37.4,32.8 C-40.2,28.9 -42.4,26.1 -43.8,22.2 C-45.2,18.2 -45.8,13.3 -45.9,9.4 C-46.0,5.5 -45.4,1.7 -44.3,-1.3 C-43.2,-4.3 -41.0,-6.9 -39.5,-8.7 C-38.0,-10.6 -35.4,-13.3 -35.3,-12.5 C-35.1,-11.6 -37.6,-6.5 -38.4,-3.4 C-39.2,-0.3 -40.6,6.4 -40.0,6.2 C-39.5,6.0 -36.9,-1.1 -35.3,-4.5 C-33.6,-7.8 -31.3,-11.0 -29.9,-14.1 C-28.5,-17.1 -27.2,-19.6 -26.7,-22.6 C-26.3,-25.6 -26.6,-29.4 -27.3,-32.2 C-28.0,-34.9 -29.7,-37.5 -31.0,-39.1 C-32.3,-40.7 -33.5,-41.2 -35.3,-41.7 C-37.0,-42.3 -41.6,-42.0 -41.6,-42.3 C-41.6,-42.6 -37.4,-43.6 -35.3,-43.7 C-33.1,-43.7 -30.8,-43.5 -28.9,-42.6 C-26.9,-41.7 -25.0,-40.5 -23.5,-38.6 C-22.0,-36.6 -20.7,-33.8 -19.8,-31.1 C-18.9,-28.4 -18.7,-25.2 -18.2,-22.6 C-17.8,-19.9 -17.9,-15.3 -17.1,-15.1 C-16.4,-14.9 -14.6,-19.4 -14.0,-21.5 C-13.3,-23.6 -13.2,-25.8 -13.4,-27.9 C-13.6,-30.0 -15.3,-33.9 -15.0,-34.3 C-14.7,-34.6 -12.7,-32.0 -11.8,-30.0 C-10.9,-28.1 -10.1,-25.6 -9.7,-22.6 C-9.2,-19.6 -9.9,-12.3 -9.2,-11.9 C-8.4,-11.6 -6.1,-17.6 -5.4,-20.4 C-4.7,-23.3 -4.9,-26.5 -4.9,-29.0 C-4.9,-31.5 -5.8,-33.4 -5.4,-35.4 C-5.1,-37.3 -4.0,-39.4 -2.8,-40.7 C-1.5,-42.0 1.8,-43.7 2.0,-43.3 C2.3,-43.0 -0.5,-40.2 -1.2,-38.6 C-1.9,-36.9 -2.4,-35.2 -2.2,-33.2 C-2.1,-31.3 -1.2,-28.8 -0.1,-26.8 C1.0,-24.9 2.6,-23.3 4.2,-21.5 C5.8,-19.7 7.9,-17.8 9.5,-16.2 C11.1,-14.6 12.3,-13.7 13.7,-11.9 C15.2,-10.2 16.2,-5.7 18.0,-5.5 C19.8,-5.4 22.9,-9.1 24.4,-10.9 C25.9,-12.6 27.1,-14.2 27.1,-16.2 C27.1,-18.1 25.9,-20.7 24.4,-22.6 C22.9,-24.4 20.0,-25.9 18.0,-27.4 C16.0,-28.9 13.6,-29.9 12.1,-31.6 C10.7,-33.3 9.8,-35.4 9.5,-37.5 C9.1,-39.5 9.3,-42.0 10.0,-43.9 C10.7,-45.7 13.5,-48.8 13.7,-48.7 C14.0,-48.5 11.9,-44.9 11.6,-42.8 C11.3,-40.8 11.4,-38.4 12.1,-36.4 C12.9,-34.5 14.2,-32.5 15.9,-31.1 C17.6,-29.7 20.0,-29.0 22.3,-27.9 C24.6,-26.8 27.4,-26.1 29.7,-24.7 C32.0,-23.3 34.5,-19.4 36.1,-19.4 C37.7,-19.4 38.5,-22.8 39.3,-24.7 C40.1,-26.6 40.5,-30.9 40.9,-30.6 C41.3,-30.2 41.8,-25.7 42.0,-22.6 C42.1,-19.5 42.4,-15.3 42.0,-11.9 C41.5,-8.6 40.6,-5.2 39.3,-2.3 C38.0,0.5 35.7,2.8 34.0,5.1 C32.2,7.4 30.1,9.4 28.6,11.5 C27.2,13.6 26.1,16.1 25.5,17.9 C24.8,19.7 23.7,21.6 24.9,22.2 C26.2,22.7 30.5,21.8 32.9,21.1 C35.3,20.4 37.3,19.3 39.3,17.9 C41.2,16.5 43.4,14.3 44.6,12.6 C45.9,10.8 46.6,9.0 46.8,7.2 C46.9,5.5 45.4,2.1 45.7,1.9 C46.0,1.7 48.0,4.2 48.3,6.2 C48.7,8.1 48.4,11.3 47.8,13.6 C47.2,15.9 45.5,18.2 44.6,20.0 C43.7,21.8 41.8,23.7 42.5,24.3 C43.2,24.8 46.8,23.7 48.9,23.2 C51.0,22.7 53.3,22.2 55.3,21.1 C57.2,19.9 60.2,16.1 60.6,16.3 C61.0,16.5 58.8,20.6 57.4,22.2 C56.0,23.7 54.0,24.3 52.1,25.3 C50.1,26.4 47.6,27.6 45.7,28.5 C43.7,29.5 42.1,30.5 40.4,31.2 C38.6,31.9 36.4,32.1 35.0,32.8 C33.7,33.5 32.8,34.4 32.4,35.5 C31.9,36.5 31.9,38.2 32.4,39.2 C32.8,40.2 34.4,40.3 35.0,41.3 C35.7,42.4 36.3,44.3 36.1,45.6 C35.9,46.8 35.9,47.7 34.0,48.8 C32.0,49.8 27.8,51.1 24.4,52.0 C21.0,52.9 17.8,53.6 13.7,54.1 C9.7,54.6 4.6,55.2 0.0,55.2 C-4.6,55.2 -9.5,55.7 -14.0,54.1Z"/><path fill="#fff" d="M0.4,-18.3 C2.0,-18.3 4.4,-13.3 5.2,-10.9 C6.0,-8.4 6.0,-6.1 5.2,-3.4 C4.4,-0.7 2.0,5.1 0.4,5.1 C-1.2,5.1 -3.6,-0.7 -4.4,-3.4 C-5.2,-6.1 -5.2,-8.4 -4.4,-10.9 C-3.6,-13.3 -1.2,-18.3 0.4,-18.3Z"/><path fill="#fff" d="M-19.3,-0.7 C-18.4,-2.1 -13.1,-1.7 -10.8,-0.7 C-8.4,0.2 -6.8,2.7 -5.4,5.1 C-4.1,7.5 -2.1,12.5 -2.8,13.6 C-3.5,14.8 -7.5,13.1 -9.7,12.0 C-11.9,11.0 -14.5,9.4 -16.1,7.2 C-17.7,5.1 -20.2,0.6 -19.3,-0.7Z"/><path fill="#fff" d="M20.1,-1.1 C19.2,-2.3 13.9,-1.2 11.6,-0.2 C9.3,0.8 7.6,2.8 6.3,5.1 C5.0,7.4 2.8,12.5 3.6,13.6 C4.4,14.8 8.9,13.1 11.1,12.0 C13.3,11.0 15.4,9.4 16.9,7.2 C18.4,5.1 21.0,0.2 20.1,-1.1Z"/><path fill="#fff" d="M-20.6,17.9 C-19.5,16.5 -14.2,17.7 -11.8,19.0 C-9.5,20.2 -7.6,22.7 -6.5,25.3 C-5.3,28.0 -3.8,33.6 -4.9,34.9 C-6.0,36.3 -10.7,34.6 -12.9,33.3 C-15.1,32.1 -16.9,30.0 -18.2,27.5 C-19.5,24.9 -21.6,19.3 -20.6,17.9Z"/><path fill="#fff" d="M21.7,17.9 C20.7,17.0 15.1,19.5 12.7,21.1 C10.3,22.7 8.6,25.2 7.3,27.5 C6.1,29.8 4.2,34.0 5.2,34.9 C6.3,35.8 11.4,34.2 13.7,32.8 C16.0,31.4 17.7,28.9 19.1,26.4 C20.4,23.9 22.8,18.8 21.7,17.9Z"/><path d="M0.4,5V55 M0.4,18 L-4.5,13.5 M0.4,18 L4.5,13.5 M0.4,39.5 L-5.5,34 M0.4,39.5 L6.5,34" stroke="#fff" stroke-width="0.8" fill="none"/></g><text x="-103" y="135.6" font-size="22.5" font-weight="bold" font-style="italic" fill="#000" stroke="#000" stroke-width="0.9" textLength="102" lengthAdjust="spacingAndGlyphs">REE</text><text x="1" y="135.6" font-size="22.5" font-weight="bold" font-style="italic" fill="#ed1c24" stroke="#ed1c24" stroke-width="0.9" textLength="100" lengthAdjust="spacingAndGlyphs">FMC</text></g><g transform="translate(70,1290) scale(0.131579)"><defs><clipPath id="fbc"><path d="M250,115 H870 A160,160 0 0 1 1022,215 H250 L465,668 L250,1122 H1022 A160,160 0 0 1 870,1222 H250 A150,150 0 0 1 100,1072 V265 A150,150 0 0 1 250,115Z"/></clipPath></defs><g clip-path="url(#fbc)"><rect x="100" y="115" width="920" height="1107" fill="#0a9347"/><rect x="100" y="215" width="400" height="102" fill="#b5d443"/><rect x="100" y="418" width="400" height="102" fill="#b5d443"/><rect x="100" y="620" width="400" height="102" fill="#b5d443"/><rect x="100" y="822" width="400" height="102" fill="#b5d443"/><rect x="100" y="1022" width="400" height="102" fill="#b5d443"/></g><path d="M460,320 H1205 A40,40 0 0 1 1245,360 V980 A40,40 0 0 1 1205,1020 H460 L630,668Z" fill="#b5d443"/><path d="M800,440 C700,470 640,560 665,640 C690,710 790,725 880,725" fill="none" stroke="#1a9dd9" stroke-width="34"/><path d="M960,455 C1080,480 1180,560 1165,680 C1160,760 1130,830 1095,865 C1060,800 1090,720 1070,650 C1050,560 1010,500 960,455Z" fill="#1a9dd9"/><path d="M852,340 L866,345 V822 H1030 L895,440 L920,400 L1100,900 L1060,970 H640Z" fill="#0a9347"/><circle cx="900" cy="727" r="24" fill="#1a9dd9"/><text x="636" y="970" font-size="175" font-weight="bold" font-style="italic" fill="#1a9dd9" stroke="#1a9dd9" stroke-width="5" textLength="222" lengthAdjust="spacingAndGlyphs">&#1048;&#1051;</text></g><text x="153.2" y="1493.2" font-size="21.5" font-weight="bold" text-anchor="middle" textLength="86.5" lengthAdjust="spacingAndGlyphs">REFMC</text><rect x="218.4" y="278.5" width="71.3" height="53.8" fill="#fff" stroke="#000" stroke-width="2.8"/><g transform="translate(254,299) scale(0.334)"><g fill="none" stroke="#ed1c24" stroke-width="1.6"><ellipse rx="93.1" ry="55.1"/><ellipse rx="74.3" ry="55.1"/><ellipse rx="53.1" ry="55.1"/><path d="M-93.1,0H93.1"/><path d="M-71.5,-35.4 Q0,3 71.5,-35.4"/><path d="M-71,34 Q0,-3 71,34"/></g><path fill="#ed1c24" d="M-14.0,54.1 C-18.4,52.5 -22.8,49.1 -26.7,45.6 C-30.6,42.0 -34.5,36.7 -37.4,32.8 C-40.2,28.9 -42.4,26.1 -43.8,22.2 C-45.2,18.2 -45.8,13.3 -45.9,9.4 C-46.0,5.5 -45.4,1.7 -44.3,-1.3 C-43.2,-4.3 -41.0,-6.9 -39.5,-8.7 C-38.0,-10.6 -35.4,-13.3 -35.3,-12.5 C-35.1,-11.6 -37.6,-6.5 -38.4,-3.4 C-39.2,-0.3 -40.6,6.4 -40.0,6.2 C-39.5,6.0 -36.9,-1.1 -35.3,-4.5 C-33.6,-7.8 -31.3,-11.0 -29.9,-14.1 C-28.5,-17.1 -27.2,-19.6 -26.7,-22.6 C-26.3,-25.6 -26.6,-29.4 -27.3,-32.2 C-28.0,-34.9 -29.7,-37.5 -31.0,-39.1 C-32.3,-40.7 -33.5,-41.2 -35.3,-41.7 C-37.0,-42.3 -41.6,-42.0 -41.6,-42.3 C-41.6,-42.6 -37.4,-43.6 -35.3,-43.7 C-33.1,-43.7 -30.8,-43.5 -28.9,-42.6 C-26.9,-41.7 -25.0,-40.5 -23.5,-38.6 C-22.0,-36.6 -20.7,-33.8 -19.8,-31.1 C-18.9,-28.4 -18.7,-25.2 -18.2,-22.6 C-17.8,-19.9 -17.9,-15.3 -17.1,-15.1 C-16.4,-14.9 -14.6,-19.4 -14.0,-21.5 C-13.3,-23.6 -13.2,-25.8 -13.4,-27.9 C-13.6,-30.0 -15.3,-33.9 -15.0,-34.3 C-14.7,-34.6 -12.7,-32.0 -11.8,-30.0 C-10.9,-28.1 -10.1,-25.6 -9.7,-22.6 C-9.2,-19.6 -9.9,-12.3 -9.2,-11.9 C-8.4,-11.6 -6.1,-17.6 -5.4,-20.4 C-4.7,-23.3 -4.9,-26.5 -4.9,-29.0 C-4.9,-31.5 -5.8,-33.4 -5.4,-35.4 C-5.1,-37.3 -4.0,-39.4 -2.8,-40.7 C-1.5,-42.0 1.8,-43.7 2.0,-43.3 C2.3,-43.0 -0.5,-40.2 -1.2,-38.6 C-1.9,-36.9 -2.4,-35.2 -2.2,-33.2 C-2.1,-31.3 -1.2,-28.8 -0.1,-26.8 C1.0,-24.9 2.6,-23.3 4.2,-21.5 C5.8,-19.7 7.9,-17.8 9.5,-16.2 C11.1,-14.6 12.3,-13.7 13.7,-11.9 C15.2,-10.2 16.2,-5.7 18.0,-5.5 C19.8,-5.4 22.9,-9.1 24.4,-10.9 C25.9,-12.6 27.1,-14.2 27.1,-16.2 C27.1,-18.1 25.9,-20.7 24.4,-22.6 C22.9,-24.4 20.0,-25.9 18.0,-27.4 C16.0,-28.9 13.6,-29.9 12.1,-31.6 C10.7,-33.3 9.8,-35.4 9.5,-37.5 C9.1,-39.5 9.3,-42.0 10.0,-43.9 C10.7,-45.7 13.5,-48.8 13.7,-48.7 C14.0,-48.5 11.9,-44.9 11.6,-42.8 C11.3,-40.8 11.4,-38.4 12.1,-36.4 C12.9,-34.5 14.2,-32.5 15.9,-31.1 C17.6,-29.7 20.0,-29.0 22.3,-27.9 C24.6,-26.8 27.4,-26.1 29.7,-24.7 C32.0,-23.3 34.5,-19.4 36.1,-19.4 C37.7,-19.4 38.5,-22.8 39.3,-24.7 C40.1,-26.6 40.5,-30.9 40.9,-30.6 C41.3,-30.2 41.8,-25.7 42.0,-22.6 C42.1,-19.5 42.4,-15.3 42.0,-11.9 C41.5,-8.6 40.6,-5.2 39.3,-2.3 C38.0,0.5 35.7,2.8 34.0,5.1 C32.2,7.4 30.1,9.4 28.6,11.5 C27.2,13.6 26.1,16.1 25.5,17.9 C24.8,19.7 23.7,21.6 24.9,22.2 C26.2,22.7 30.5,21.8 32.9,21.1 C35.3,20.4 37.3,19.3 39.3,17.9 C41.2,16.5 43.4,14.3 44.6,12.6 C45.9,10.8 46.6,9.0 46.8,7.2 C46.9,5.5 45.4,2.1 45.7,1.9 C46.0,1.7 48.0,4.2 48.3,6.2 C48.7,8.1 48.4,11.3 47.8,13.6 C47.2,15.9 45.5,18.2 44.6,20.0 C43.7,21.8 41.8,23.7 42.5,24.3 C43.2,24.8 46.8,23.7 48.9,23.2 C51.0,22.7 53.3,22.2 55.3,21.1 C57.2,19.9 60.2,16.1 60.6,16.3 C61.0,16.5 58.8,20.6 57.4,22.2 C56.0,23.7 54.0,24.3 52.1,25.3 C50.1,26.4 47.6,27.6 45.7,28.5 C43.7,29.5 42.1,30.5 40.4,31.2 C38.6,31.9 36.4,32.1 35.0,32.8 C33.7,33.5 32.8,34.4 32.4,35.5 C31.9,36.5 31.9,38.2 32.4,39.2 C32.8,40.2 34.4,40.3 35.0,41.3 C35.7,42.4 36.3,44.3 36.1,45.6 C35.9,46.8 35.9,47.7 34.0,48.8 C32.0,49.8 27.8,51.1 24.4,52.0 C21.0,52.9 17.8,53.6 13.7,54.1 C9.7,54.6 4.6,55.2 0.0,55.2 C-4.6,55.2 -9.5,55.7 -14.0,54.1Z"/><path fill="#fff" d="M0.4,-18.3 C2.0,-18.3 4.4,-13.3 5.2,-10.9 C6.0,-8.4 6.0,-6.1 5.2,-3.4 C4.4,-0.7 2.0,5.1 0.4,5.1 C-1.2,5.1 -3.6,-0.7 -4.4,-3.4 C-5.2,-6.1 -5.2,-8.4 -4.4,-10.9 C-3.6,-13.3 -1.2,-18.3 0.4,-18.3Z"/><path fill="#fff" d="M-19.3,-0.7 C-18.4,-2.1 -13.1,-1.7 -10.8,-0.7 C-8.4,0.2 -6.8,2.7 -5.4,5.1 C-4.1,7.5 -2.1,12.5 -2.8,13.6 C-3.5,14.8 -7.5,13.1 -9.7,12.0 C-11.9,11.0 -14.5,9.4 -16.1,7.2 C-17.7,5.1 -20.2,0.6 -19.3,-0.7Z"/><path fill="#fff" d="M20.1,-1.1 C19.2,-2.3 13.9,-1.2 11.6,-0.2 C9.3,0.8 7.6,2.8 6.3,5.1 C5.0,7.4 2.8,12.5 3.6,13.6 C4.4,14.8 8.9,13.1 11.1,12.0 C13.3,11.0 15.4,9.4 16.9,7.2 C18.4,5.1 21.0,0.2 20.1,-1.1Z"/><path fill="#fff" d="M-20.6,17.9 C-19.5,16.5 -14.2,17.7 -11.8,19.0 C-9.5,20.2 -7.6,22.7 -6.5,25.3 C-5.3,28.0 -3.8,33.6 -4.9,34.9 C-6.0,36.3 -10.7,34.6 -12.9,33.3 C-15.1,32.1 -16.9,30.0 -18.2,27.5 C-19.5,24.9 -21.6,19.3 -20.6,17.9Z"/><path fill="#fff" d="M21.7,17.9 C20.7,17.0 15.1,19.5 12.7,21.1 C10.3,22.7 8.6,25.2 7.3,27.5 C6.1,29.8 4.2,34.0 5.2,34.9 C6.3,35.8 11.4,34.2 13.7,32.8 C16.0,31.4 17.7,28.9 19.1,26.4 C20.4,23.9 22.8,18.8 21.7,17.9Z"/><path d="M0.4,5V55 M0.4,18 L-4.5,13.5 M0.4,18 L4.5,13.5 M0.4,39.5 L-5.5,34 M0.4,39.5 L6.5,34" stroke="#fff" stroke-width="0.8" fill="none"/></g><text x="254.3" y="329.5" font-size="7.2" font-weight="bold" text-anchor="middle" textLength="23" lengthAdjust="spacingAndGlyphs">GFMC</text><rect x="428.4" y="798.2" width="75.2" height="52.4" fill="#fff" stroke="#000" stroke-width="2.8"/><g transform="translate(466.2,801.7) scale(0.331)"><path d="M0,0 L-102.8,116.4 H102.2Z" fill="#8dc63f"/><g transform="translate(0,80.3) scale(0.675)"><g fill="none" stroke="#fff" stroke-width="1.4"><ellipse rx="93.1" ry="55.1"/><ellipse rx="74.3" ry="55.1"/><ellipse rx="53.1" ry="55.1"/><path d="M-93.1,0H93.1"/><path d="M-71.5,-35.4 Q0,3 71.5,-35.4"/><path d="M-71,34 Q0,-3 71,34"/></g><path fill="#ed1c24" d="M-14.0,54.1 C-18.4,52.5 -22.8,49.1 -26.7,45.6 C-30.6,42.0 -34.5,36.7 -37.4,32.8 C-40.2,28.9 -42.4,26.1 -43.8,22.2 C-45.2,18.2 -45.8,13.3 -45.9,9.4 C-46.0,5.5 -45.4,1.7 -44.3,-1.3 C-43.2,-4.3 -41.0,-6.9 -39.5,-8.7 C-38.0,-10.6 -35.4,-13.3 -35.3,-12.5 C-35.1,-11.6 -37.6,-6.5 -38.4,-3.4 C-39.2,-0.3 -40.6,6.4 -40.0,6.2 C-39.5,6.0 -36.9,-1.1 -35.3,-4.5 C-33.6,-7.8 -31.3,-11.0 -29.9,-14.1 C-28.5,-17.1 -27.2,-19.6 -26.7,-22.6 C-26.3,-25.6 -26.6,-29.4 -27.3,-32.2 C-28.0,-34.9 -29.7,-37.5 -31.0,-39.1 C-32.3,-40.7 -33.5,-41.2 -35.3,-41.7 C-37.0,-42.3 -41.6,-42.0 -41.6,-42.3 C-41.6,-42.6 -37.4,-43.6 -35.3,-43.7 C-33.1,-43.7 -30.8,-43.5 -28.9,-42.6 C-26.9,-41.7 -25.0,-40.5 -23.5,-38.6 C-22.0,-36.6 -20.7,-33.8 -19.8,-31.1 C-18.9,-28.4 -18.7,-25.2 -18.2,-22.6 C-17.8,-19.9 -17.9,-15.3 -17.1,-15.1 C-16.4,-14.9 -14.6,-19.4 -14.0,-21.5 C-13.3,-23.6 -13.2,-25.8 -13.4,-27.9 C-13.6,-30.0 -15.3,-33.9 -15.0,-34.3 C-14.7,-34.6 -12.7,-32.0 -11.8,-30.0 C-10.9,-28.1 -10.1,-25.6 -9.7,-22.6 C-9.2,-19.6 -9.9,-12.3 -9.2,-11.9 C-8.4,-11.6 -6.1,-17.6 -5.4,-20.4 C-4.7,-23.3 -4.9,-26.5 -4.9,-29.0 C-4.9,-31.5 -5.8,-33.4 -5.4,-35.4 C-5.1,-37.3 -4.0,-39.4 -2.8,-40.7 C-1.5,-42.0 1.8,-43.7 2.0,-43.3 C2.3,-43.0 -0.5,-40.2 -1.2,-38.6 C-1.9,-36.9 -2.4,-35.2 -2.2,-33.2 C-2.1,-31.3 -1.2,-28.8 -0.1,-26.8 C1.0,-24.9 2.6,-23.3 4.2,-21.5 C5.8,-19.7 7.9,-17.8 9.5,-16.2 C11.1,-14.6 12.3,-13.7 13.7,-11.9 C15.2,-10.2 16.2,-5.7 18.0,-5.5 C19.8,-5.4 22.9,-9.1 24.4,-10.9 C25.9,-12.6 27.1,-14.2 27.1,-16.2 C27.1,-18.1 25.9,-20.7 24.4,-22.6 C22.9,-24.4 20.0,-25.9 18.0,-27.4 C16.0,-28.9 13.6,-29.9 12.1,-31.6 C10.7,-33.3 9.8,-35.4 9.5,-37.5 C9.1,-39.5 9.3,-42.0 10.0,-43.9 C10.7,-45.7 13.5,-48.8 13.7,-48.7 C14.0,-48.5 11.9,-44.9 11.6,-42.8 C11.3,-40.8 11.4,-38.4 12.1,-36.4 C12.9,-34.5 14.2,-32.5 15.9,-31.1 C17.6,-29.7 20.0,-29.0 22.3,-27.9 C24.6,-26.8 27.4,-26.1 29.7,-24.7 C32.0,-23.3 34.5,-19.4 36.1,-19.4 C37.7,-19.4 38.5,-22.8 39.3,-24.7 C40.1,-26.6 40.5,-30.9 40.9,-30.6 C41.3,-30.2 41.8,-25.7 42.0,-22.6 C42.1,-19.5 42.4,-15.3 42.0,-11.9 C41.5,-8.6 40.6,-5.2 39.3,-2.3 C38.0,0.5 35.7,2.8 34.0,5.1 C32.2,7.4 30.1,9.4 28.6,11.5 C27.2,13.6 26.1,16.1 25.5,17.9 C24.8,19.7 23.7,21.6 24.9,22.2 C26.2,22.7 30.5,21.8 32.9,21.1 C35.3,20.4 37.3,19.3 39.3,17.9 C41.2,16.5 43.4,14.3 44.6,12.6 C45.9,10.8 46.6,9.0 46.8,7.2 C46.9,5.5 45.4,2.1 45.7,1.9 C46.0,1.7 48.0,4.2 48.3,6.2 C48.7,8.1 48.4,11.3 47.8,13.6 C47.2,15.9 45.5,18.2 44.6,20.0 C43.7,21.8 41.8,23.7 42.5,24.3 C43.2,24.8 46.8,23.7 48.9,23.2 C51.0,22.7 53.3,22.2 55.3,21.1 C57.2,19.9 60.2,16.1 60.6,16.3 C61.0,16.5 58.8,20.6 57.4,22.2 C56.0,23.7 54.0,24.3 52.1,25.3 C50.1,26.4 47.6,27.6 45.7,28.5 C43.7,29.5 42.1,30.5 40.4,31.2 C38.6,31.9 36.4,32.1 35.0,32.8 C33.7,33.5 32.8,34.4 32.4,35.5 C31.9,36.5 31.9,38.2 32.4,39.2 C32.8,40.2 34.4,40.3 35.0,41.3 C35.7,42.4 36.3,44.3 36.1,45.6 C35.9,46.8 35.9,47.7 34.0,48.8 C32.0,49.8 27.8,51.1 24.4,52.0 C21.0,52.9 17.8,53.6 13.7,54.1 C9.7,54.6 4.6,55.2 0.0,55.2 C-4.6,55.2 -9.5,55.7 -14.0,54.1Z"/><path fill="#fff" d="M0.4,-18.3 C2.0,-18.3 4.4,-13.3 5.2,-10.9 C6.0,-8.4 6.0,-6.1 5.2,-3.4 C4.4,-0.7 2.0,5.1 0.4,5.1 C-1.2,5.1 -3.6,-0.7 -4.4,-3.4 C-5.2,-6.1 -5.2,-8.4 -4.4,-10.9 C-3.6,-13.3 -1.2,-18.3 0.4,-18.3Z"/><path fill="#fff" d="M-19.3,-0.7 C-18.4,-2.1 -13.1,-1.7 -10.8,-0.7 C-8.4,0.2 -6.8,2.7 -5.4,5.1 C-4.1,7.5 -2.1,12.5 -2.8,13.6 C-3.5,14.8 -7.5,13.1 -9.7,12.0 C-11.9,11.0 -14.5,9.4 -16.1,7.2 C-17.7,5.1 -20.2,0.6 -19.3,-0.7Z"/><path fill="#fff" d="M20.1,-1.1 C19.2,-2.3 13.9,-1.2 11.6,-0.2 C9.3,0.8 7.6,2.8 6.3,5.1 C5.0,7.4 2.8,12.5 3.6,13.6 C4.4,14.8 8.9,13.1 11.1,12.0 C13.3,11.0 15.4,9.4 16.9,7.2 C18.4,5.1 21.0,0.2 20.1,-1.1Z"/><path fill="#fff" d="M-20.6,17.9 C-19.5,16.5 -14.2,17.7 -11.8,19.0 C-9.5,20.2 -7.6,22.7 -6.5,25.3 C-5.3,28.0 -3.8,33.6 -4.9,34.9 C-6.0,36.3 -10.7,34.6 -12.9,33.3 C-15.1,32.1 -16.9,30.0 -18.2,27.5 C-19.5,24.9 -21.6,19.3 -20.6,17.9Z"/><path fill="#fff" d="M21.7,17.9 C20.7,17.0 15.1,19.5 12.7,21.1 C10.3,22.7 8.6,25.2 7.3,27.5 C6.1,29.8 4.2,34.0 5.2,34.9 C6.3,35.8 11.4,34.2 13.7,32.8 C16.0,31.4 17.7,28.9 19.1,26.4 C20.4,23.9 22.8,18.8 21.7,17.9Z"/><path d="M0.4,5V55 M0.4,18 L-4.5,13.5 M0.4,18 L4.5,13.5 M0.4,39.5 L-5.5,34 M0.4,39.5 L6.5,34" stroke="#fff" stroke-width="0.8" fill="none"/></g><text x="-103" y="135.6" font-size="22.5" font-weight="bold" font-style="italic" fill="#000" stroke="#000" stroke-width="0.9" textLength="102" lengthAdjust="spacingAndGlyphs">REE</text><text x="1" y="135.6" font-size="22.5" font-weight="bold" font-style="italic" fill="#ed1c24" stroke="#ed1c24" stroke-width="0.9" textLength="100" lengthAdjust="spacingAndGlyphs">FMC</text></g><rect x="1668.5" y="1338.4" width="56" height="69.1" fill="#fff" stroke="#000" stroke-width="2.9"/><g transform="translate(1666.7,1336.5) scale(0.0441579)"><defs><clipPath id="fsc"><path d="M250,115 H870 A160,160 0 0 1 1022,215 H250 L465,668 L250,1122 H1022 A160,160 0 0 1 870,1222 H250 A150,150 0 0 1 100,1072 V265 A150,150 0 0 1 250,115Z"/></clipPath></defs><g clip-path="url(#fsc)"><rect x="100" y="115" width="920" height="1107" fill="#0a9347"/><rect x="100" y="215" width="400" height="102" fill="#b5d443"/><rect x="100" y="418" width="400" height="102" fill="#b5d443"/><rect x="100" y="620" width="400" height="102" fill="#b5d443"/><rect x="100" y="822" width="400" height="102" fill="#b5d443"/><rect x="100" y="1022" width="400" height="102" fill="#b5d443"/></g><path d="M460,320 H1205 A40,40 0 0 1 1245,360 V980 A40,40 0 0 1 1205,1020 H460 L630,668Z" fill="#b5d443"/><path d="M800,440 C700,470 640,560 665,640 C690,710 790,725 880,725" fill="none" stroke="#1a9dd9" stroke-width="34"/><path d="M960,455 C1080,480 1180,560 1165,680 C1160,760 1130,830 1095,865 C1060,800 1090,720 1070,650 C1050,560 1010,500 960,455Z" fill="#1a9dd9"/><path d="M852,340 L866,345 V822 H1030 L895,440 L920,400 L1100,900 L1060,970 H640Z" fill="#0a9347"/><circle cx="900" cy="727" r="24" fill="#1a9dd9"/><text x="636" y="970" font-size="175" font-weight="bold" font-style="italic" fill="#1a9dd9" stroke="#1a9dd9" stroke-width="5" textLength="222" lengthAdjust="spacingAndGlyphs">&#1048;&#1051;</text></g><text x="1694.4" y="1404.6" font-size="7" font-weight="bold" text-anchor="middle" textLength="28" lengthAdjust="spacingAndGlyphs">REFMC</text><rect x="2058.5" y="1688.3" width="55.2" height="69.1" fill="#fff" stroke="#000" stroke-width="2.9"/><g transform="translate(2085.6,1717.4) scale(0.337001)"><circle r="71.6" fill="#fff" stroke="#c8161d" stroke-width="2.4"/><circle r="58.5" fill="none" stroke="#c8161d" stroke-width="1.1"/><path id="rsrt" d="M-41.74,44.76 A61.2,61.2 0 1 1 41.74,44.76" fill="none"/><text font-size="8.6" font-weight="bold" fill="#111"><textPath href="#rsrt" textLength="292.7" lengthAdjust="spacingAndGlyphs">REGIONAL CENTRAL ASIA FIRE MANAGEMENT RESOURCE CENTER</textPath></text><path d="M-41,52.5 A66,66 0 0 0 41,52.5" fill="none" stroke="#111" stroke-width="2"/><path fill="none" stroke="#9a9a9a" stroke-width="0.7" d="M-48,-12 L-44,-17 L-36,-15 L-30,-11 L-24,-16 L-14,-14 L-8,-9 L-3,-2 L3,4 L9,9 L17,6 L24,8 L33,3 L40,6 L48,1 L52,-8 L50,4 L47,14 L41,22 L32,28 L22,25 L13,19 L6,10 L3,4 M-48,-12 L-50,-2 L-46,6 L-49,14 L-45,24 L-38,30 L-30,34 L-22,30 L-24,38 L-17,42 L-12,36 L-8,27 L-2,20 L3,12 L3,4 M-38,6 L-30,12 L-26,22 L-20,28 L-12,25 L-8,27 M-26,22 L-30,30"/><g fill="#e8141c"><path transform="translate(0,39.5) scale(0.98)" d="M0,-22 C4,-14 9,-10 8,-2 C11,-6 12,-10 11,-14 C17,-6 17,4 13,11 C10,17 5,20 0,20 C-5,20 -10,17 -13,11 C-17,4 -15,-4 -10,-9 C-10,-5 -9,-2 -7,0 C-8,-9 -4,-15 0,-22Z"/><path d="M-13,50 C-22,52 -28,46 -36,44 C-29,50 -24,56 -12,56Z M13,50 C22,52 28,46 36,44 C29,50 24,56 12,56Z"/></g><path d="M0,38 C2.5,42 3.5,46 0,50 C-3.5,46 -2.5,42 0,38Z M-7,52 H7 L5,56 H-5Z" fill="#fff"/><text x="0" y="-22.6" text-anchor="middle" font-size="19" font-weight="bold" fill="#2a0405" stroke="#a80f16" stroke-width="0.5" textLength="70" lengthAdjust="spacingAndGlyphs">RCAFMRC</text></g><text x="2085.6" y="1754" font-size="7.8" font-weight="bold" text-anchor="middle" textLength="39.8" lengthAdjust="spacingAndGlyphs">RCAFMRC</text>
</svg></body></html>
